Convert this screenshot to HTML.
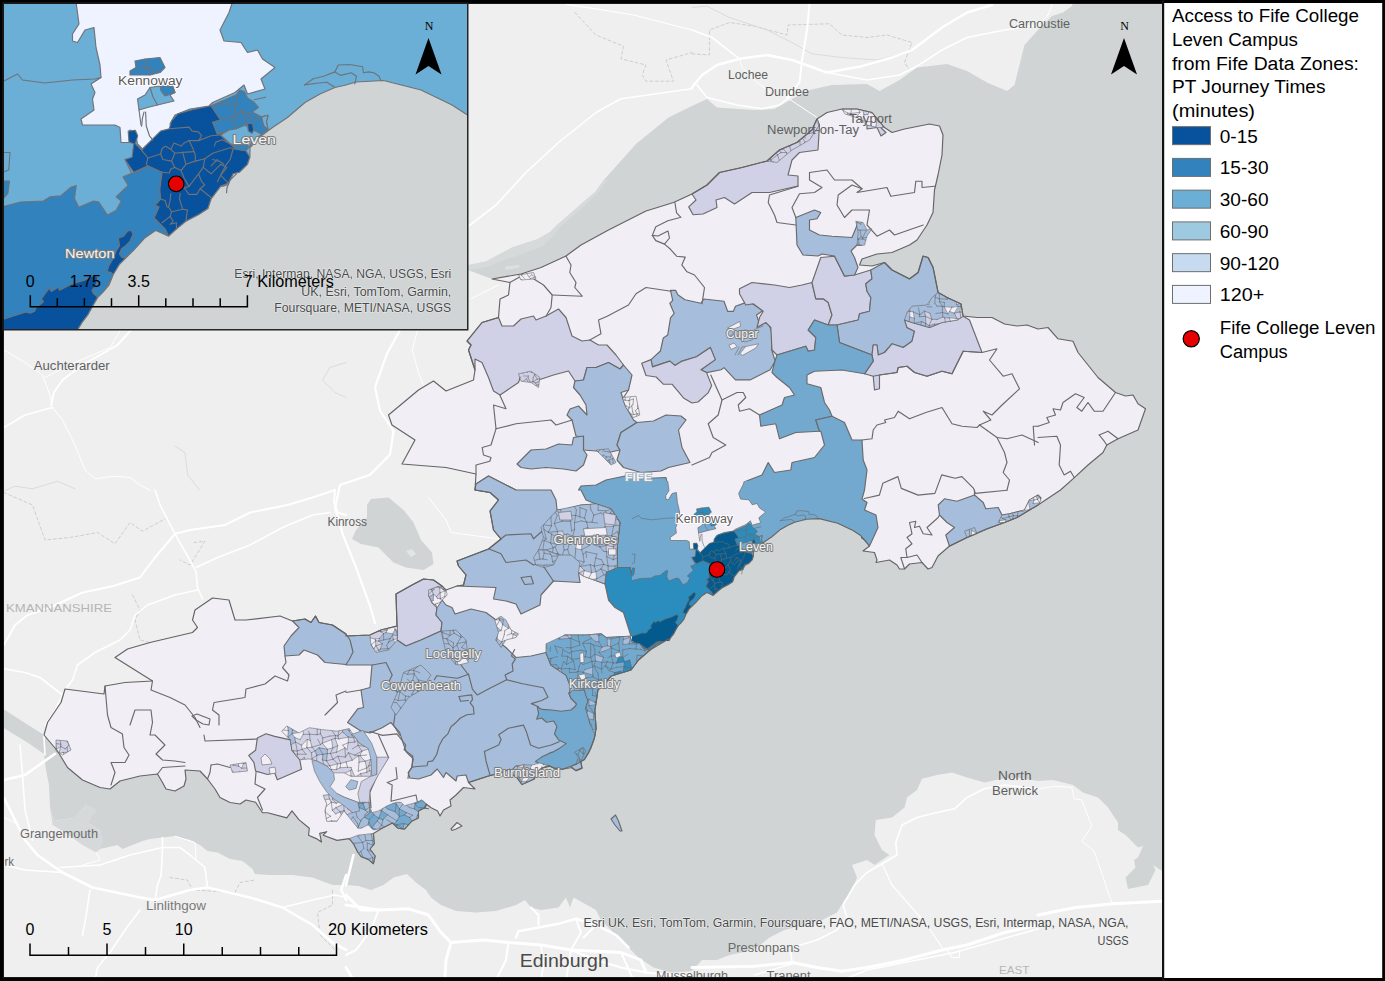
<!DOCTYPE html>
<html><head><meta charset="utf-8"><title>Access to Fife College Leven Campus</title>
<style>html,body{margin:0;padding:0;background:#fff}body{width:1385px;height:981px;overflow:hidden;font-family:"Liberation Sans",sans-serif}svg{display:block}text{white-space:pre}</style>
</head><body>
<svg width="1385" height="981" viewBox="0 0 1385 981">
<defs><clipPath id="mapclip"><rect x="3" y="3" width="1160" height="975"/></clipPath><clipPath id="insclip"><rect x="3" y="3" width="465" height="327"/></clipPath></defs>
<rect x="0" y="0" width="1385" height="981" fill="#000"/>
<g clip-path="url(#mapclip)">
<rect x="3" y="3" width="1161" height="976" fill="#efefef"/>
<polygon points="460,267 468.7,264.9 486,261.4 512,247.6 538,238.9 550.1,232 557,225 570.9,212.9 584.8,200.8 595.2,192.1 603.8,180 636,144 668.5,117.5 692,106 707,99 717,107.5 754.5,110 774.5,109 792,99 809.5,90 832,85 867,84 879.5,91 899.5,80 917,67.5 947,64 967,71 987,82.5 1007,91 1014.5,85 1024.5,45 1038,30 1052,16 1063,12.5 1072,6 1073,2 1166,2 1164,872 1162,871 1153,865 1155.5,870 1148,885 1128,889 1125.5,877.5 1135.5,867.5 1134,860 1138,857.5 1143,846 1138,847.5 1125.5,835 1118,830 1118,822.5 1108,807.5 1098,797.5 1083,792.5 1073,785 1053,780 1038,781 1017,777.5 1002,778.8 984.5,782.5 967,777.5 952,772.5 937,775 922,778.8 917,790 907,797.5 904.5,807.5 892,817.5 875.8,820 874.5,835 882,850 889.5,855 874.5,865 867,860 852,865 857,877.5 852,890 844.5,900 837,912.5 822,920 804.5,925 784.5,930 769.5,937.5 757,947.5 742,952.5 729.5,955 717,960 702,960 692,971 671,972.5 653.5,967.5 638.5,957.5 628.5,947.5 621,940 611,930 601,920 596,910 573.5,897.5 570,907.5 566,897.5 558.5,907.5 541,910 531,907.5 525,900 516,905 496,911 476,912.5 456,911 441,905 431,897.5 426,890 416,882.5 407,874 393.5,877.5 383.5,885 371,890 358.5,886 346,885 332.5,885 312.5,877.5 292.5,875 270,875 255,874 252.5,869 242.5,861 230,859 217.5,852.5 207.5,851 200,845 190,840 175,836 162.5,837.5 150,839 142.5,841 122.5,849 117.5,845 100,849 96,852.5 102.5,842.5 100,830 87.5,822.5 96,810 86,805 75,817.5 54,821 50,807.5 49,785 46,770 44,754 27.5,742.5 15,735 2,727 2,708 25,723 44,735 100,720 300,700 480,640 540,520 520,300 515,279.5 492,279" fill="#d0d4d5"/>
<polygon points="460,267 468.7,264.9 486,261.4 512,247.6 538,238.9 550.1,232 557,225 570.9,212.9 584.8,200.8 595.2,192.1 603.8,180 607.3,180 598.6,192.1 588.2,202.5 574.4,214.7 560.5,226.8 553.6,235.4 543.2,245.9 525.8,252.8 505.1,259.7 487.7,266.6 470.4,270.1 460,272" fill="#d7dadb"/>
<polygon points="505,266.6 519.8,264.9 518.9,267.5 505.9,270.1" fill="#dde0e1"/>
<polygon points="50,807.5 53.8,821.2 75,817.5 86.2,805 96.2,810 87.5,822.5 100,830 102.5,842.5 96.2,852.5 82.5,845 65,832.5 52.5,825" fill="#d6d9da"/>
<polygon points="371,499 388.5,497.5 403.5,510 413.5,522.5 421,540 432,552.5 433.5,564 423.5,570 406,567.5 393.5,562.5 378.5,547.5 361,544 352,539 356,530 367,517.5 367,505" fill="#d0d4d5"/>
<polygon points="406,551 412,549 416,554 411,557" fill="#e3e5e5"/>
<polyline points="574.8,12.5 596,35 623.5,46.2 621,58.8 646,65 642.2,75 646,81.2 673.5,81.2 666,60 692.2,52.5" fill="none" stroke="#c3c6c6" stroke-width="0.8" stroke-linejoin="round" stroke-linecap="round" stroke-dasharray="3 2.5"/>
<polyline points="692,53.8 709.5,55 709.5,30 729.5,22.5 754.5,26.2 787,35 788.2,25 829.5,23.8 842,35 867,37.5 887,35 912,42.5 904.5,62.5 909.5,70" fill="none" stroke="#c3c6c6" stroke-width="0.8" stroke-linejoin="round" stroke-linecap="round" stroke-dasharray="3 2.5"/>
<polyline points="3.8,492.5 32.5,505 45,540 70,537.5 97.5,532.5 115,543.8 130,522.5 142.5,531.2 165,518.8" fill="none" stroke="#c3c6c6" stroke-width="0.8" stroke-linejoin="round" stroke-linecap="round" stroke-dasharray="3 2.5"/>
<polyline points="193.8,542.5 205,541.2 190,565 180,560" fill="none" stroke="#c3c6c6" stroke-width="0.8" stroke-linejoin="round" stroke-linecap="round" stroke-dasharray="3 2.5"/>
<polyline points="132.5,595 140,610 135,620 140,640 150,642.5" fill="none" stroke="#c3c6c6" stroke-width="0.8" stroke-linejoin="round" stroke-linecap="round" stroke-dasharray="3 2.5"/>
<polyline points="170,877.5 187.5,880 192.5,890 235,892.5 240,882.5 255,880" fill="none" stroke="#c3c6c6" stroke-width="0.8" stroke-linejoin="round" stroke-linecap="round" stroke-dasharray="3 2.5"/>
<polyline points="332.5,890 332.5,905 317.5,912.5 320,935 335,950" fill="none" stroke="#c3c6c6" stroke-width="0.8" stroke-linejoin="round" stroke-linecap="round" stroke-dasharray="3 2.5"/>
<polyline points="4,491.2 15,486.2 32.5,488.8 57.5,481.2 75,488.8" fill="none" stroke="#d5d9da" stroke-width="0.9" stroke-linejoin="round" stroke-linecap="round"/>
<polyline points="175,446.2 185,452.5 187.5,475 200,490.2" fill="none" stroke="#d5d9da" stroke-width="0.9" stroke-linejoin="round" stroke-linecap="round"/>
<polyline points="346.2,362.5 330,367.5 322.5,380 335,392.5 346.2,397.5" fill="none" stroke="#d5d9da" stroke-width="0.9" stroke-linejoin="round" stroke-linecap="round"/>
<polyline points="692,7.5 707,6.2 729.5,17.5 767,30 792,42.5 812,53.8 842,57.5 877,60 904.5,53.8" fill="none" stroke="#d5d9da" stroke-width="0.9" stroke-linejoin="round" stroke-linecap="round"/>
<polyline points="468.5,226.2 496,205 526,172.5 558.5,142.5 596,112.5 621,98.8 692.2,88.8" fill="none" stroke="#ffffff" stroke-width="1.6" stroke-linejoin="round" stroke-linecap="round"/>
<polyline points="471,298.8 486,291.2 498.5,285" fill="none" stroke="#ffffff" stroke-width="1" stroke-linejoin="round" stroke-linecap="round"/>
<polyline points="692,87.5 702,75 717,65 739.5,58.8 767,55 792,60 827,72.5 862,66.2 892,57.5 912,50 942,27.5 967,12.5 992,5" fill="none" stroke="#ffffff" stroke-width="2.4" stroke-linejoin="round" stroke-linecap="round"/>
<polyline points="827,72.5 867,80 899.5,75 917,66.2 942,50 967,37.5 1004.5,30 1038.2,25" fill="none" stroke="#ffffff" stroke-width="1.6" stroke-linejoin="round" stroke-linecap="round"/>
<polyline points="1038,25 1048,15 1053,2.5" fill="none" stroke="#ffffff" stroke-width="1" stroke-linejoin="round" stroke-linecap="round"/>
<polyline points="809.5,3.8 807,30 802,60 799.5,82.5 787,97.5" fill="none" stroke="#ffffff" stroke-width="2" stroke-linejoin="round" stroke-linecap="round"/>
<polyline points="787,97.5 817,117.5" fill="none" stroke="#ffffff" stroke-width="1" stroke-linejoin="round" stroke-linecap="round"/>
<polyline points="697,85 707,97.5 737,105 762,108.8 779.5,105 792,95" fill="none" stroke="#ffffff" stroke-width="1.6" stroke-linejoin="round" stroke-linecap="round"/>
<polyline points="692,30 712,37.5 739.5,58.8" fill="none" stroke="#ffffff" stroke-width="1.6" stroke-linejoin="round" stroke-linecap="round"/>
<polyline points="739.5,58.8 742,67.5 757,82.5 774.5,95" fill="none" stroke="#ffffff" stroke-width="1" stroke-linejoin="round" stroke-linecap="round"/>
<polyline points="566,4.5 596,8.8 633.5,15 692.2,30" fill="none" stroke="#ffffff" stroke-width="1.2" stroke-linejoin="round" stroke-linecap="round"/>
<polyline points="4,350 25,362.5 42.5,375 50,395 52.5,407.5 62.5,420 75,445 85,470 95,478.8 115,476.2 130,477.5 140,485 150,490.2" fill="none" stroke="#ffffff" stroke-width="1" stroke-linejoin="round" stroke-linecap="round"/>
<polyline points="4,427.5 25,415 52.5,407.5" fill="none" stroke="#ffffff" stroke-width="1.6" stroke-linejoin="round" stroke-linecap="round"/>
<polyline points="130,331.2 117.5,345 82.5,365 62.5,380 53.8,392.5 51.2,405" fill="none" stroke="#ffffff" stroke-width="2" stroke-linejoin="round" stroke-linecap="round"/>
<polyline points="120,331.2 110,347.5 75,362.5 45,377.5" fill="none" stroke="#ffffff" stroke-width="1" stroke-linejoin="round" stroke-linecap="round"/>
<polyline points="400,330 387,353.6 375,387 380,411 393.6,431 390,454.6 370,474.8 340,485 335,508 343,535 356.6,569 370,606 375,623" fill="none" stroke="#ffffff" stroke-width="2.2" stroke-linejoin="round" stroke-linecap="round"/>
<polyline points="417.2,331.2 412.2,350 418.5,372.5 423.5,385" fill="none" stroke="#ffffff" stroke-width="1" stroke-linejoin="round" stroke-linecap="round"/>
<polyline points="335,490 334,502 337.5,512.5 346,515" fill="none" stroke="#ffffff" stroke-width="2" stroke-linejoin="round" stroke-linecap="round"/>
<polyline points="3.8,645 15,625 27.5,615 50,607.5 82.5,592.5 112.5,586.2 140,577.5 155,557.5 175,533.8 190,530 225,525 250,512.5 287.5,505 312.5,497.5 335,490" fill="none" stroke="#ffffff" stroke-width="2" stroke-linejoin="round" stroke-linecap="round"/>
<polyline points="175,533.8 160,505 155,490" fill="none" stroke="#ffffff" stroke-width="1.6" stroke-linejoin="round" stroke-linecap="round"/>
<polyline points="175,533.8 192.5,565 196.2,572.5 197.5,587.5 202.5,598.8" fill="none" stroke="#ffffff" stroke-width="1.6" stroke-linejoin="round" stroke-linecap="round"/>
<polyline points="196.2,567.5 217.5,557.5 250,545 282.5,527.5 312.5,515 330,512.5" fill="none" stroke="#ffffff" stroke-width="1.6" stroke-linejoin="round" stroke-linecap="round"/>
<polyline points="197.5,590 175,595 147.5,605 135,615 130,630 120,640 95,652.5 77.5,665 72.5,680 65,690 52.5,715 45,725" fill="none" stroke="#ffffff" stroke-width="1.6" stroke-linejoin="round" stroke-linecap="round"/>
<polyline points="3.8,668.8 25,672.5 40,677.5 62.5,695" fill="none" stroke="#ffffff" stroke-width="1.6" stroke-linejoin="round" stroke-linecap="round"/>
<polyline points="428.5,497.5 446,520 451,532.5 478.5,536.2 498.5,538.8" fill="none" stroke="#ffffff" stroke-width="1" stroke-linejoin="round" stroke-linecap="round"/>
<polyline points="3.8,797.5 25,840 37.5,855 62.5,872.5 92.5,887.5 140,897.5 155,900 190,890 207.5,887.5 250,897.5 282.5,907.5 312.5,925 332.5,942.5 346.2,950" fill="none" stroke="#ffffff" stroke-width="2.6" stroke-linejoin="round" stroke-linecap="round"/>
<polyline points="3.8,780 25,775 55,753.8" fill="none" stroke="#ffffff" stroke-width="2.6" stroke-linejoin="round" stroke-linecap="round"/>
<polyline points="20,745 22.5,775 25,810 32.5,840" fill="none" stroke="#ffffff" stroke-width="1.6" stroke-linejoin="round" stroke-linecap="round"/>
<polyline points="43.8,735 45,755" fill="none" stroke="#ffffff" stroke-width="1.6" stroke-linejoin="round" stroke-linecap="round"/>
<polyline points="90,890 85,922.5 82.5,935" fill="none" stroke="#ffffff" stroke-width="1.6" stroke-linejoin="round" stroke-linecap="round"/>
<polyline points="60,867.5 100,865 130,855 162.5,847.5 180,847.5 190,855 205,867.5 207.5,887.5" fill="none" stroke="#ffffff" stroke-width="1.6" stroke-linejoin="round" stroke-linecap="round"/>
<polyline points="162.5,837.5 162.5,847.5 161.2,875 157.5,885 155,900" fill="none" stroke="#ffffff" stroke-width="1.6" stroke-linejoin="round" stroke-linecap="round"/>
<polyline points="140,910 125,930 110,952.5 97.5,967.5 95,980.2" fill="none" stroke="#ffffff" stroke-width="1.6" stroke-linejoin="round" stroke-linecap="round"/>
<polyline points="282.5,907.5 312.5,900 335,895 346.2,897.5" fill="none" stroke="#ffffff" stroke-width="1.6" stroke-linejoin="round" stroke-linecap="round"/>
<polyline points="346.2,875 341.2,890 346.2,900" fill="none" stroke="#ffffff" stroke-width="2.6" stroke-linejoin="round" stroke-linecap="round"/>
<polyline points="3.8,865 25,870 62.5,872.5" fill="none" stroke="#ffffff" stroke-width="1.6" stroke-linejoin="round" stroke-linecap="round"/>
<polyline points="3.8,817.5 15,822.5 25,840" fill="none" stroke="#ffffff" stroke-width="1" stroke-linejoin="round" stroke-linecap="round"/>
<polyline points="175,836.2 195,842.5 196.2,860 205,867.5" fill="none" stroke="#ffffff" stroke-width="1" stroke-linejoin="round" stroke-linecap="round"/>
<polyline points="82.5,865 100,860 96.2,852.5" fill="none" stroke="#ffffff" stroke-width="1" stroke-linejoin="round" stroke-linecap="round"/>
<polyline points="353.5,855 346,885" fill="none" stroke="#ffffff" stroke-width="2.6" stroke-linejoin="round" stroke-linecap="round"/>
<polyline points="346,905 378.5,910 408.5,908.8 428.5,915 441,932.5 451,942.5 483.5,940 508.5,942.5 541,945 571,950 621,952.5 641,960 646,972.5" fill="none" stroke="#ffffff" stroke-width="2.9" stroke-linejoin="round" stroke-linecap="round"/>
<polyline points="451,942.5 446,960 444.8,980.2" fill="none" stroke="#ffffff" stroke-width="2.9" stroke-linejoin="round" stroke-linecap="round"/>
<polyline points="516,937.5 518.5,931.2 558.5,923.8 576,918.8 596,925 616,935 628.5,947.5" fill="none" stroke="#ffffff" stroke-width="2.5" stroke-linejoin="round" stroke-linecap="round"/>
<polyline points="531,907.5 538.5,915 538.5,925" fill="none" stroke="#ffffff" stroke-width="2" stroke-linejoin="round" stroke-linecap="round"/>
<polyline points="576,918.8 581,932.5 571,950 566,980.2" fill="none" stroke="#ffffff" stroke-width="2" stroke-linejoin="round" stroke-linecap="round"/>
<polyline points="346,967.5 353.5,980.2" fill="none" stroke="#ffffff" stroke-width="2.9" stroke-linejoin="round" stroke-linecap="round"/>
<polyline points="596,925 583.5,937.5" fill="none" stroke="#ffffff" stroke-width="2" stroke-linejoin="round" stroke-linecap="round"/>
<polyline points="346,895 361,910 378.5,910" fill="none" stroke="#ffffff" stroke-width="2.9" stroke-linejoin="round" stroke-linecap="round"/>
<polyline points="378.5,910 371,930 356,950 346,955" fill="none" stroke="#ffffff" stroke-width="2" stroke-linejoin="round" stroke-linecap="round"/>
<polyline points="508.5,942.5 506,960 496,980.2" fill="none" stroke="#ffffff" stroke-width="2" stroke-linejoin="round" stroke-linecap="round"/>
<polyline points="621,952.5 633.5,980.2" fill="none" stroke="#ffffff" stroke-width="2" stroke-linejoin="round" stroke-linecap="round"/>
<polyline points="571,950 596,960 621,967.5 646,972.5 671,975 692.2,976.2" fill="none" stroke="#ffffff" stroke-width="2" stroke-linejoin="round" stroke-linecap="round"/>
<polyline points="541,945 543.5,965 541,980.2" fill="none" stroke="#ffffff" stroke-width="1.5" stroke-linejoin="round" stroke-linecap="round"/>
<polyline points="692,967.5 754.5,966.2 792,962.5 817,967.5 842,971.2 867,967.5 904.5,960 942,950 967,945 1004.5,932.5 1038.2,925" fill="none" stroke="#ffffff" stroke-width="3" stroke-linejoin="round" stroke-linecap="round"/>
<polyline points="754.5,975 792,963.8" fill="none" stroke="#ffffff" stroke-width="1.6" stroke-linejoin="round" stroke-linecap="round"/>
<polyline points="842,980.2 867,970 917,960 954.5,952.5 1038.2,928.8" fill="none" stroke="#ffffff" stroke-width="1.6" stroke-linejoin="round" stroke-linecap="round"/>
<polyline points="790.8,952.5 792,962.5" fill="none" stroke="#ffffff" stroke-width="1.6" stroke-linejoin="round" stroke-linecap="round"/>
<polyline points="792,947.5 817,940 837,930 847,917.5 843.2,905 854.5,885 867,872.5 882,863.8 897,855 895.8,842.5 902,825 917,817.5 937,812.5 954.5,808.8 967,797.5 984.5,788.8 1004.5,785 1038.2,788.8" fill="none" stroke="#ffffff" stroke-width="1.6" stroke-linejoin="round" stroke-linecap="round"/>
<polyline points="882,863.8 892,885 909.5,905 927,925 942,947.5" fill="none" stroke="#ffffff" stroke-width="1.2" stroke-linejoin="round" stroke-linecap="round"/>
<polyline points="947,950 952,957.5 959.5,957.5 959.5,950" fill="none" stroke="#ffffff" stroke-width="1.2" stroke-linejoin="round" stroke-linecap="round"/>
<polyline points="1038,915 1075.5,907.5 1113,903.8 1161.8,901.2" fill="none" stroke="#ffffff" stroke-width="3" stroke-linejoin="round" stroke-linecap="round"/>
<polyline points="1038,788.8 1055.5,786.2 1071.8,787.5 1074.2,798.8 1081.8,800 1091.8,826.2 1081.8,841.2 1094.2,851.2 1111.8,902.5" fill="none" stroke="#ffffff" stroke-width="1" stroke-linejoin="round" stroke-linecap="round"/>
<polygon points="492,279 521,274 541,267.5 566,256 581,245 608.5,230 646,211 673.5,202.5 692,194 707,185 719.5,172.5 742,167.5 767,161 779.5,150 797,142.5 812,130 817,119 827,112.5 842,109 857,109 872,112.5 884.5,127.5 892,132.5 904.5,129 929.5,124 939.5,126 943,135 942,155 938,175 934.5,190 933,212.5 927,225 917,240 909.5,245 892,252.5 877,254 862,259 859.5,265 872,266 884.5,262.5 892,270 909.5,279 918,272.5 923,256 928,257.5 933,267.5 938,292.5 947,297.5 961,304 963,316 977,317.5 992,317.5 1004.5,324 1017,326 1027,325 1038,329 1048,327.5 1058,338.8 1073,341.2 1078,352.5 1098,377.5 1115.5,392.5 1125.5,396 1133,395 1138,403.8 1145.5,408.8 1138,430 1118,438.8 1106.8,445 1103,452.5 1088,465 1073,478.8 1060.5,490 1038,505 1029.5,510 1017,517.5 1004.5,522.5 987,529 967,537.5 949.5,546 938,556 932,567.5 928,569 922,562.5 909.5,564 904.5,569 899.5,569 897,565 889.5,560 876,562.5 877,560 874.5,552.5 863,551 869.5,546 860.7,535.6 853,530.6 837.7,523.2 819.2,518.6 805.7,519.3 800.7,520.8 795.3,522 787.9,525.2 780.5,529.4 771.9,536.8 764.5,541.7 759.6,545.4 753.4,551.6 753.3,556.4 752.2,559.9 748.3,563.8 745.1,564.6 742.8,569.2 738.9,570.8 734.2,577 732.7,581.7 728,584.8 721.8,588 717.1,591.9 713.2,595.4 707,592.6 706.4,592.8 701.3,596.4 696.2,602.1 692.1,606.2 689,609.2 685.9,614.4 683.8,619.5 680.8,623.1 678.2,625.7 676.1,629.3 673.6,633.9 670.5,638 669,640.6 668.5,639 650,650 638.5,660 631,670 611,676 601,687.5 597.9,689.8 596.7,698.4 594.8,710.6 595.5,720.4 596.1,729 594.2,738.7 590.6,748.5 588.1,753.4 584.4,759.5 580.8,761.4 582,768.1 575.9,770.6 571.6,767.5 562.4,769.3 553.8,768.1 549,765.7 541.6,768.1 536.7,773 534.3,779.1 522,784.6 517.1,777.9 512.2,774.2 509.8,769.3 500,773 488.5,776 468.5,782.5 475,789 463.5,787.5 456,795 450,800 451,806 443.5,810 440,816 437.6,810.9 430.7,807.5 426.3,804 425.4,807.5 418.5,810.9 418.5,817.9 411.6,821.3 404.6,829.1 397.7,828.2 392.5,823 382.1,828.2 373.4,833.4 374.3,843.8 370,849 375.2,856 373.4,863.8 368.2,859.4 361.3,856.8 357.9,852.5 353.5,843.8 349.2,838.6 337,840.4 323.2,835.2 326.7,831.7 319.7,833.4 321.5,842.1 316.3,838.6 308.5,835.2 309.3,828.2 298.9,819.6 292,810.9 286.8,817.9 267.7,812.7 262.5,812.7 255.6,802.3 246,800 240,804 230,802.5 220,797.5 215,789 207.5,779 200,771 185,770 186,779 184,786 175,791 166,789 162.5,782.5 157.5,774 140,776 120,781 110,789 100,787.5 82.5,780 67.5,767.5 57.5,751 44,735 47.5,722.5 61,702.5 65,689 104,694 105,686 125,682.5 152.5,681 115,657.5 127.5,649 150,642.5 192.5,632.5 197.5,627.5 192.5,620 195,610 212.5,598 229,600 235,620 246,620 280,616 292.5,621 305,619 311,622.5 315.5,616 319,622.5 332.5,625 346,634 346,636 370,635 381,630 397,626 396,594 412,585 423.5,579 433.5,580 442,586 446,590 457,586 463.5,585 466,575 458.5,566 457,561 488.5,549 501,539 493.5,530 490,511 498.5,500 490,492.5 475,490 476,474 446,467.5 402,464 415,440 392,425 388.5,415 418.5,390 433.5,381 446,391 473.5,380 475,370 468.5,350 471,345 467,341 482,322.5 498.5,317.5 500,299 508.5,295 510,282.5" fill="#f1eef6"/>
<polygon points="692,194 707,185 719.5,172.5 742,167.5 767,161 779.5,150 797,142.5 812,130 817,119 819.5,125 818,150 799.5,152.5 792,160 788,175 798,176 798,186 769.5,192.5 752,192.5 734.5,204 724.5,197.5 716,200 717,207.5 703,214 693.1,214.7 688.7,206.9 696,200" fill="#d0d1e6" stroke="#6a6a6a" stroke-width="1.15" stroke-linejoin="round"/>
<polygon points="867,125 877,124 886,132.5 881,136 877,127.5 867,129" fill="#d0d1e6" stroke="#6a6a6a" stroke-width="1.15" stroke-linejoin="round"/>
<polygon points="467,341 482,322.5 498.5,317.5 502,326 513.5,326 521,319 533.5,316 536,320 546,316 558.5,309 566,317.5 572,336 582,341 590,340 598.5,345 607,345 616,355 623.5,365 620,369 608.5,362.5 596,367.5 587,367.5 583.5,380 575,381 568.5,371 553.5,375 538.5,380 531,381 521,375 518.5,382.5 506,391 500,395 493.5,391 488.5,377.5 482,362.5 475,359 475,370 468.5,350 471,345" fill="#d0d1e6" stroke="#6a6a6a" stroke-width="1.15" stroke-linejoin="round"/>
<polygon points="587,367.5 596,367.5 608.5,362.5 620,369 623.5,365 632,375 628.5,390 621,392.5 625,405 633.5,420 637,422.5 621,432.5 617,445 620,450 608.5,452.5 596,451 583.5,450 583.5,437.5 576,436 572,420 567,415 570,409 578.5,406 587,415 586,405 580,395 573.5,387.5 575,381 583.5,380" fill="#a6bddb" stroke="#6a6a6a" stroke-width="1.15" stroke-linejoin="round"/>
<polygon points="637,422.5 653.5,421 666,415 681,416 686,420 678.5,430 682,447.5 690,462.5 668.5,467.5 661,471 641,472.5 623.5,467.5 617,460 620,450 617,445 621,432.5" fill="#a6bddb" stroke="#6a6a6a" stroke-width="1.15" stroke-linejoin="round"/>
<polygon points="517,464 531,450 546,449 558.5,444 572,445 573.5,437.5 583.5,436 583.5,450 587,455 583.5,465 576,471 563.5,469 546,467.5 531,469 521,467.5" fill="#a6bddb" stroke="#6a6a6a" stroke-width="1.15" stroke-linejoin="round"/>
<polygon points="475,490 476,484 488.5,476 506,485 516,490 500,494" fill="#a6bddb" stroke="#6a6a6a" stroke-width="1.15" stroke-linejoin="round"/>
<polygon points="670.5,290.3 675.6,290.3 677.8,294.7 685,299.7 700.9,303.3 703.8,299 724,301.2 727.6,311.3 733.4,311.3 735.5,306.2 745.6,302.6 752.9,304 763,310.5 756.5,314.9 759.4,323.5 768.7,322.8 771.6,332.2 771.6,349.5 775.2,361.1 770.2,369.7 750,379.9 735.5,379.9 724,367.6 721.1,369.7 706.6,372.6 700.9,369.7 715.3,359.6 710.3,347.4 696.5,356.8 682.1,361.1 674.9,365.4 669.8,361.1 652.5,366.9 651,359.6 660.4,351 663.3,338 667.7,335.1 670.5,317.8 674.2,313.4 669.8,303.3 672.7,300.4" fill="#a6bddb" stroke="#6a6a6a" stroke-width="1.15" stroke-linejoin="round"/>
<polygon points="641.7,363.2 651,359.6 652.5,366.9 669.8,361.1 674.9,365.4 682.1,361.1 696.5,356.8 710.3,347.4 715.3,359.6 700.9,369.7 706.6,372.6 711.7,385.6 708.1,392.9 698,402 692,403 683.5,398 680.6,394.3 672,384.2 663.3,384.2 656.1,377 646,375.5" fill="#d0d1e6" stroke="#6a6a6a" stroke-width="1.15" stroke-linejoin="round"/>
<polygon points="739.5,288.8 752,282.5 774.5,285 789.5,287.5 802,285 812,282.5 815.8,298.8 823.2,298.8 828.2,302.5 832,315 828.2,325 814.5,320 808.2,330 815.8,337.5 814.5,350 808.2,351.2 805.8,346.2 777,355 772,350 770.8,327.5 765.8,322.5 757,327.5 759.5,317.5 763.2,311.2 753.2,303.8 745.8,305 739.5,293.8" fill="#d0d1e6" stroke="#6a6a6a" stroke-width="1.15" stroke-linejoin="round"/>
<polygon points="812,282.5 820.8,257.5 834.5,256.2 844.5,276.2 854.5,275 870.8,270 872,278.8 865.8,283.8 867,291.2 870.8,297.5 869.5,311.2 859.5,313.8 858.2,320 837,325 828.2,325 832,315 828.2,302.5 823.2,298.8 815.8,298.8" fill="#d0d1e6" stroke="#6a6a6a" stroke-width="1.15" stroke-linejoin="round"/>
<polygon points="795.8,217.5 814.5,210 820.8,212.5 817,218.8 809.5,220 809.5,230 819.5,235 832,236.2 852,237.5 858.2,222.5 862,223.8 864.5,235 862,245.2 857,245 851,251 854.5,257.5 858,267.5 854.5,275 844.5,276 834.5,256 822,254 818,256 803,255 797,245" fill="#a6bddb" stroke="#6a6a6a" stroke-width="1.15" stroke-linejoin="round"/>
<polygon points="870.8,270 884.5,262.5 892,270 909.5,278.8 918.2,272.5 923.2,256.2 928.2,257.5 933.2,267.5 938.2,292.5 947,297.5 961,304 963,316 957,320 942,322.5 929.5,327.5 912,322.5 907,327.5 914.5,331.2 912,341.2 903.2,347.5 892,343.8 884.5,352.5 878.2,355 877,345 873.2,345 872,355 839.5,342.5 837,325 858.2,320 859.5,313.8 869.5,311.2 870.8,297.5 867,291.2 865.8,283.8 872,278.8" fill="#a6bddb" stroke="#6a6a6a" stroke-width="1.15" stroke-linejoin="round"/>
<polygon points="872,355 873.2,345 877,345 878.2,355 884.5,352.5 892,343.8 903.2,347.5 912,341.2 914.5,331.2 907,327.5 904.5,320 912,322.5 929.5,327.5 942,322.5 957,320 963.2,316.2 969.5,320 982,352.5 963.2,351.2 952,373.8 942,371.2 927,376.2 914.5,372.5 907,366.2 898.2,367.5 897,372.5 879.5,375 879.5,388.8 874.5,390 873.2,376.2 864.5,373.8 873.2,361.2" fill="#d0d1e6" stroke="#6a6a6a" stroke-width="1.15" stroke-linejoin="round"/>
<polygon points="814.5,320 828.2,325 837,325 839.5,342.5 872,355 873.2,361.2 864.5,373.8 842,370 814.5,371.2 807,375 807,383.8 820.8,387.5 824.5,402.5 829.5,410 832,416.2 815.8,420 819.5,431.2 795.8,432.5 779.5,438.8 775.8,423.8 760.8,426.2 759.5,415 782,405 784.5,397.5 794.5,395 789.5,387.5 777,377.5 772,372.5 774.5,362.5 777,355 805.8,346.2 808.2,351.2 814.5,350 815.8,337.5 808.2,330" fill="#74a9cf" stroke="#6a6a6a" stroke-width="1.15" stroke-linejoin="round"/>
<polygon points="815.8,420 832,416.2 844.5,422.5 852,440 862,440 863.2,460 867,470 864.5,490 862,499 867,502.5 864.5,510 876,515 878,527.5 869.5,546 864.5,540 854.5,532.5 839.5,525 822,520 804.5,520 787,524 774.5,531 762,544 759.5,522.5 765.8,512.5 754.5,502.5 742,497.5 739.5,490 742,490 745.8,481.2 762,475 768.2,462.5 774.5,472.5 790.8,470 792,462.5 814.5,457.5 824.5,445 820.8,431.2 819.5,431.2" fill="#74a9cf" stroke="#6a6a6a" stroke-width="1.15" stroke-linejoin="round"/>
<polygon points="578.5,490 581,486 596,485 606,480 625,476 633.5,479 666,477.5 668.5,490 676,495 678.5,507.5 672,516 676,525 671,540 681,544 692,542.5 697,552.5 692,572.5 683.5,582.5 671,577.5 666,572.5 633.5,580 630,567.5 617,567.5 617,547.5 620,522.5 611,509 596,504 586,500 581,490" fill="#74a9cf" stroke="#6a6a6a" stroke-width="1.15" stroke-linejoin="round"/>
<polygon points="396,594 412,585 423.5,579 433.5,580 442,586 438.5,590 428.5,595 432,602.5 437,607.5 436,615 442,622.5 441,631 421,640 406,646 397,640 397,626" fill="#d0d1e6" stroke="#6a6a6a" stroke-width="1.15" stroke-linejoin="round"/>
<polygon points="475,490 490,492.5 498.5,500 490,511 493.5,530 501,539 488.5,549 457,561 458.5,566 466,575 463.5,585 457,586 496,587.5 493.5,599 506,601 516,604 521,614 540,605 541,595 553.5,581 580,582.5 578.5,572.5 583.5,576 605,584 606,572.5 617,567.5 617,547.5 620,522.5 611,509 596,504 581,505 566,509 557,510 556,500 551,490 516,490 506,485 488.5,476 476,484" fill="#a6bddb" stroke="#6a6a6a" stroke-width="1.15" stroke-linejoin="round"/>
<polygon points="346,636 370,635 381,630 397,626 397,640 406,646 421,640 441,631 442,622.5 436,615 437,607.5 442,600 446,605 452,607.5 455,614 471,609 486,612.5 496,620 501,632.5 496,640 506,647.5 516,657.5 531,656 546,652.5 551,665 566,675 571,687.5 569.1,693.5 571,698.4 576.5,703.9 580,720 575,745 560,765 549,766.5 541.6,768.1 536.7,773 532,767 524,765 516,766 512,770 509.8,769.3 500,773 488.5,776 468.5,782.5 466,775 457.2,776 456,781 446,772.5 443.5,777.5 437.2,769 431,775 418.5,779 409.9,778 408.1,772.8 411.6,767.6 413.3,758.9 406.4,752 403.8,745.1 399.5,732.1 390.8,722.5 382.1,727.7 370,732.9 361.3,731.2 347.5,722.5 352.7,715.6 357.9,708.7 363.5,707.5 361,690 370,687.5 372,665 346,665" fill="#a6bddb" stroke="#6a6a6a" stroke-width="1.15" stroke-linejoin="round"/>
<polygon points="546,652.5 564.8,635 586,635 601,633.8 606,637.5 629.8,636.2 632.2,642.5 639.8,643.8 643.5,648.8 650,650 638.5,660 631,670 611,676 601,687.5 597.9,689.8 596.7,698.4 594.8,710.6 595.5,720.4 596.1,729 594.2,733 590.6,725.3 585.7,708.1 588.1,700.8 585.7,694.7 584.4,689.8 572.2,690.4 569.1,693.5 571,687.5 566,675 551,665" fill="#74a9cf" stroke="#6a6a6a" stroke-width="1.15" stroke-linejoin="round"/>
<polygon points="537.3,706.9 542.2,709.4 551.4,710 561.2,711.2 571,710 575.3,706.3 576.5,703.9 571,698.4 569.1,693.5 572.2,690.4 584.4,689.8 585.7,694.7 588.1,700.8 585.7,708.1 590.6,725.3 594.2,728.3 595.5,733.9 594.2,738.7 590.6,748.5 588.1,753.4 584.4,759.5 580.8,761.4 575.9,764.4 572.2,765.7 562.4,769.3 553.8,768.1 549,765.7 542.8,765.7 535.5,761.4 541.6,757.1 549,753.4 553.8,751.6 560,747.9 566.1,743.6 558.7,740 554.5,733.9 556.9,726.5 553.8,721 546.5,722.2 541.6,718 536.7,719.2 538.6,713.7" fill="#74a9cf" stroke="#6a6a6a" stroke-width="1.15" stroke-linejoin="round"/>
<polygon points="571.6,767.5 575.9,770.6 582,768.1 580.8,761.4 575.9,764.4 572.2,765.7" fill="#a6bddb" stroke="#6a6a6a" stroke-width="1.15" stroke-linejoin="round"/>
<polygon points="617,567.5 630,567.5 633.5,580 666,572.5 671,577.5 683.5,582.5 692,572.5 692,552.5 697,552.5 697,560 703.2,562.5 704.5,572.5 710.8,577.5 707,587.5 713.2,595 704.5,595 692,606 683.5,612 678.5,619 668.5,620 653.5,622.5 646,632.5 631,636 623.5,612.5 615,607.5 608.5,600 605,584 606,572.5" fill="#2b8cbe" stroke="#6a6a6a" stroke-width="1.15" stroke-linejoin="round"/>
<polygon points="633.2,637.7 647.2,630.7 656.6,621.3 670.7,619 677.7,616.6 676.5,624.8 670.7,638.9 656.6,642.4 647.2,649.4 640.2,644.7 633.2,643.6" fill="#045a8d" stroke="#6a6a6a" stroke-width="1.15" stroke-linejoin="round"/>
<polygon points="633.2,643.6 640.2,644.7 647.2,649.4 656.6,642.4 670.7,638.9 668.5,639 656.6,644.7 650,650 643.5,649 639.8,643.8 632.2,642.5" fill="#2b8cbe" stroke="#6a6a6a" stroke-width="1.15" stroke-linejoin="round"/>
<polygon points="697,552.5 702,548.8 710.8,540 719.5,535 734.5,532.5 742,537.5 745.8,547.5 753.2,557.5 744.5,570 732,582.5 717,590 713.2,595 707,587.5 710.8,577.5 704.5,572.5 703.2,562.5 697,560" fill="#045a8d" stroke="#6a6a6a" stroke-width="1.15" stroke-linejoin="round"/>
<polygon points="734.5,532.5 750.8,522.5 754.5,527.5 762,527.5 762,544 753.2,557.5 745.8,547.5 742,537.5" fill="#2b8cbe" stroke="#6a6a6a" stroke-width="1.15" stroke-linejoin="round"/>
<polygon points="698.2,527.5 700.8,510 708.2,507.5 712,513.8 715.8,525 709.5,530 702,532.5" fill="#74a9cf" stroke="#6a6a6a" stroke-width="1.15" stroke-linejoin="round"/>
<polygon points="938.2,505 944.5,498.8 957,501.2 974.5,495 983.2,502.5 985.8,508.8 998.2,507.5 1002,515 1009.5,513.8 1024.5,510 1029.5,500 1038,495 1041,498 1038,505 1029.5,510 1017,517.5 1004.5,522.5 987,528.8 967,537.5 949.5,546.2 945.8,535 954.5,527.5 947,522.5 939.5,515" fill="#a6bddb" stroke="#6a6a6a" stroke-width="1.15" stroke-linejoin="round"/>
<polygon points="248.7,755.5 255.6,750.3 257.3,738.1 266,733.8 274.7,736.4 290.3,739.9 292,750.3 299.8,759.8 301.5,769.3 277.3,779.7 274.7,772.8 267.7,774.5 255.6,771.1 253.9,762.4" fill="#d0d1e6" stroke="#6a6a6a" stroke-width="1.15" stroke-linejoin="round"/>
<polygon points="292.5,621 305,619 311,622.5 315.5,616 319,622.5 332.5,625 346,634 350,640 353,652 349,660 346,664.5 325,662.5 317.5,655 304,650 299,655 285,656 284,646 291,636 299,627.5" fill="#a6bddb" stroke="#6a6a6a" stroke-width="1.15" stroke-linejoin="round"/>
<polygon points="451,829 457,822.5 462,826 456,829 452,830.5" fill="#f1eef6" stroke="#6a6a6a" stroke-width="1.15" stroke-linejoin="round"/>
<polygon points="611,819 615.5,815 618.5,821 622,831 620,831 615,825" fill="#a6bddb" stroke="#6a6a6a" stroke-width="1.15" stroke-linejoin="round"/>
<polyline points="798.2,186.2 769.5,195 768.2,202.5 774.5,215 777,222.5 795.8,225" fill="none" stroke="#6a6a6a" stroke-width="1.15" stroke-linejoin="round" stroke-linecap="round"/>
<polyline points="809.5,172.5 827,170 834.5,180 852,180 862,188.8 857,192.5 887,187.5 890.8,196.2 914.5,192.5 915.8,181.2 922,181.2 922,187.5 934.5,186.2" fill="none" stroke="#6a6a6a" stroke-width="1.15" stroke-linejoin="round" stroke-linecap="round"/>
<polyline points="809.5,172.5 809.5,180 822,187.5 814.5,192.5 799.5,193.8 792,207.5 795.8,217.5" fill="none" stroke="#6a6a6a" stroke-width="1.15" stroke-linejoin="round" stroke-linecap="round"/>
<polyline points="862,188.8 852,185 838.2,195 837,205 844.5,217.5 852,210 869.5,210 867,225 877,236.2 889.5,230 894.5,235 923.2,225" fill="none" stroke="#6a6a6a" stroke-width="1.15" stroke-linejoin="round" stroke-linecap="round"/>
<polyline points="509.8,282.5 521,276.2 533.5,278.8 543.5,285 552.2,295 551,307.5 546,316.2" fill="none" stroke="#6a6a6a" stroke-width="1.15" stroke-linejoin="round" stroke-linecap="round"/>
<polyline points="566,256.2 571,265 569.8,272.5 576,282.5 574.8,287.5 582.2,296.2 552.2,295" fill="none" stroke="#6a6a6a" stroke-width="1.15" stroke-linejoin="round" stroke-linecap="round"/>
<polyline points="589.8,340 601,333.8 598.5,320 607.2,316.2 628.5,305 636,293.8 646,287.5 671,291.2" fill="none" stroke="#6a6a6a" stroke-width="1.15" stroke-linejoin="round" stroke-linecap="round"/>
<polyline points="674.9,202.5 676.6,212.9 680.9,217.3 667.9,220.7 655.8,226.8 652.3,235.4 655.8,240.6 664.5,244.1 670.5,249.3 676.6,256.2 685.3,257.1 681.8,264.9 687,271.8 694.5,275 704.5,287.5 702,303.8" fill="none" stroke="#6a6a6a" stroke-width="1.15" stroke-linejoin="round" stroke-linecap="round"/>
<polyline points="652.3,235.4 658,236 668,231 669.5,238 664.5,244.1" fill="none" stroke="#6a6a6a" stroke-width="1.15" stroke-linejoin="round" stroke-linecap="round"/>
<polyline points="499.8,395 506,408.8 493.5,405 496,428.8 516,423.8 551,420 556,425 572.2,420" fill="none" stroke="#6a6a6a" stroke-width="1.15" stroke-linejoin="round" stroke-linecap="round"/>
<polyline points="496,428.8 491,445 482.2,447.5 483.5,455 491,457.5 489.8,461.2 476,465 476,473.8" fill="none" stroke="#6a6a6a" stroke-width="1.15" stroke-linejoin="round" stroke-linecap="round"/>
<polyline points="628.5,390 623.5,397.5 627.2,407.5 636,415 633.5,405 632.2,397.5" fill="none" stroke="#6a6a6a" stroke-width="1.15" stroke-linejoin="round" stroke-linecap="round"/>
<polyline points="873.2,376.2 879.5,375 897,372.5 898.2,367.5 907,366.2 914.5,372.5 927,376.2 942,371.2 952,373.8 963.2,351.2 982,352.5 997,348.8 989.5,360 1003.2,376.2 1012,373.8 1019.5,388.8 1002,405 992,415 983.2,411.2 990.8,420 979.5,425" fill="none" stroke="#6a6a6a" stroke-width="1.15" stroke-linejoin="round" stroke-linecap="round"/>
<polyline points="862,440 872,438.8 873.2,430 877,425 885.8,422.5 884.5,420 894.5,417.5 898.2,411.2 909.5,418.8 925.8,412.5 942,407.5 952,423.8 962,426.2 977,427.5 979.5,425" fill="none" stroke="#6a6a6a" stroke-width="1.15" stroke-linejoin="round" stroke-linecap="round"/>
<polyline points="979.5,425 997,437.5 1004.5,452.5 1007,462.5 1003.2,472.5 1009.5,480 1007,490.2" fill="none" stroke="#6a6a6a" stroke-width="1.15" stroke-linejoin="round" stroke-linecap="round"/>
<polyline points="997,437.5 1007,438.8 1022,435 1038.2,442.5" fill="none" stroke="#6a6a6a" stroke-width="1.15" stroke-linejoin="round" stroke-linecap="round"/>
<polyline points="1038.2,426.2 1033.2,426.2 1034.5,445" fill="none" stroke="#6a6a6a" stroke-width="1.15" stroke-linejoin="round" stroke-linecap="round"/>
<polyline points="710.8,375 722,400 737,392.5 743.2,392.5 745.8,397.5 738.2,405 739.5,411.2 749.5,408.8 759.5,415" fill="none" stroke="#6a6a6a" stroke-width="1.15" stroke-linejoin="round" stroke-linecap="round"/>
<polyline points="722,400 718.2,415 708.2,423.8 713.2,437.5 725.8,445 712,452.5 709.5,457.5 692,465" fill="none" stroke="#6a6a6a" stroke-width="1.15" stroke-linejoin="round" stroke-linecap="round"/>
<polyline points="1115.5,392.5 1103,411.2 1094.2,411.2 1088,402.5 1081.8,411.2 1076.8,407.5 1084.2,397.5 1075.5,393.8 1063,402.5 1060.5,410 1053,408.8 1055.5,415 1046.8,417.5 1049.2,422.5 1038,426.2" fill="none" stroke="#6a6a6a" stroke-width="1.15" stroke-linejoin="round" stroke-linecap="round"/>
<polyline points="1038,437.5 1056.8,436.2 1060.5,445 1059.2,465 1064.2,475 1070.5,471.2 1074.2,477.5" fill="none" stroke="#6a6a6a" stroke-width="1.15" stroke-linejoin="round" stroke-linecap="round"/>
<polyline points="1099.2,435 1108,431.2 1118,438.8" fill="none" stroke="#6a6a6a" stroke-width="1.15" stroke-linejoin="round" stroke-linecap="round"/>
<polyline points="1099.2,435 1104.2,441.2 1106.8,445" fill="none" stroke="#6a6a6a" stroke-width="1.15" stroke-linejoin="round" stroke-linecap="round"/>
<polyline points="939.5,515 938.2,517.5 927,527.5 932,535 923.2,533.8 919.5,526.2 914.5,527.5 915.8,521.2 909.5,522.5 912,533.8 907,537.5 912,543.8 905.8,548.8 907,557.5 900.8,557.5 904.5,568.8" fill="none" stroke="#6a6a6a" stroke-width="1.15" stroke-linejoin="round" stroke-linecap="round"/>
<polyline points="907,557.5 917,555 922,562.5" fill="none" stroke="#6a6a6a" stroke-width="1.15" stroke-linejoin="round" stroke-linecap="round"/>
<polyline points="974.5,490 974.5,495" fill="none" stroke="#6a6a6a" stroke-width="1.15" stroke-linejoin="round" stroke-linecap="round"/>
<polyline points="152.5,681 151,690 170,697.5 185,705 195,717.5 200,727.5" fill="none" stroke="#6a6a6a" stroke-width="1.15" stroke-linejoin="round" stroke-linecap="round"/>
<polyline points="285,656 286,662.5 282.5,667.5 289,675 287.5,681 275,676 265,684 246,689 245,697.5 214,702.5 212.5,710 219,715 219,725" fill="none" stroke="#6a6a6a" stroke-width="1.15" stroke-linejoin="round" stroke-linecap="round"/>
<polyline points="105,686 107.5,715 111,727.5 122.5,734 122.5,735 124,747.5 129,755 125,762.5 111,762.5 115,772.5 111,785" fill="none" stroke="#6a6a6a" stroke-width="1.15" stroke-linejoin="round" stroke-linecap="round"/>
<polyline points="130,725 135,710 151,710 152.5,722.5 150,735 155,735 165,745 156,754 162.5,760 175,761 185,762.5" fill="none" stroke="#6a6a6a" stroke-width="1.15" stroke-linejoin="round" stroke-linecap="round"/>
<polyline points="157.5,774 162.5,767.5 185,766" fill="none" stroke="#6a6a6a" stroke-width="1.15" stroke-linejoin="round" stroke-linecap="round"/>
<polyline points="204,735 205,741 257.5,739" fill="none" stroke="#6a6a6a" stroke-width="1.15" stroke-linejoin="round" stroke-linecap="round"/>
<polyline points="211,765 217.5,764 230,767.5" fill="none" stroke="#6a6a6a" stroke-width="1.15" stroke-linejoin="round" stroke-linecap="round"/>
<polyline points="211,765 210,772.5 207.5,779" fill="none" stroke="#6a6a6a" stroke-width="1.15" stroke-linejoin="round" stroke-linecap="round"/>
<polyline points="256,772.5 255,784 265,789 257.5,797.5 262.5,810" fill="none" stroke="#6a6a6a" stroke-width="1.15" stroke-linejoin="round" stroke-linecap="round"/>
<polyline points="192,716 197,714 210,719 209,725 203,724 196,720 192,716" fill="none" stroke="#6a6a6a" stroke-width="1.15" stroke-linejoin="round" stroke-linecap="round"/>
<polyline points="346,691 336,695 337.5,702.5 325,715" fill="none" stroke="#6a6a6a" stroke-width="1.15" stroke-linejoin="round" stroke-linecap="round"/>
<polyline points="501,538.8 506,535 531,533.8 533.5,538.8 543.5,530" fill="none" stroke="#6a6a6a" stroke-width="1.15" stroke-linejoin="round" stroke-linecap="round"/>
<polyline points="488.5,548.8 501,553.8 506,562.5 526,560 533.5,565 541,562.5 546,570 553.5,581.2" fill="none" stroke="#6a6a6a" stroke-width="1.15" stroke-linejoin="round" stroke-linecap="round"/>
<polyline points="441,631.2 446,637.5 453.5,640 456,650 461,665 468.5,675" fill="none" stroke="#6a6a6a" stroke-width="1.15" stroke-linejoin="round" stroke-linecap="round"/>
<polyline points="372.2,665 386,662.5 392.2,675 388.5,682.5 402.2,697.5 396,707.5 393.5,725 399.8,735.2" fill="none" stroke="#6a6a6a" stroke-width="1.15" stroke-linejoin="round" stroke-linecap="round"/>
<polyline points="346,692.5 361,690" fill="none" stroke="#6a6a6a" stroke-width="1.15" stroke-linejoin="round" stroke-linecap="round"/>
<polyline points="521,577.5 531,576.2 533.5,583.8 524.8,584.5 521,577.5" fill="none" stroke="#6a6a6a" stroke-width="1.15" stroke-linejoin="round" stroke-linecap="round"/>
<polyline points="396,767.5 397.2,778.8 387.2,782.5 392.2,785 391,801.2 416,795 418.5,807.5 428.5,808.8" fill="none" stroke="#6a6a6a" stroke-width="1.15" stroke-linejoin="round" stroke-linecap="round"/>
<polyline points="378.5,735 388.5,757.5 378.5,772.5 369.8,792.5 371,807.5" fill="none" stroke="#6a6a6a" stroke-width="1.15" stroke-linejoin="round" stroke-linecap="round"/>
<polyline points="619.8,522.5 617.2,547.5 617.2,567.5" fill="none" stroke="#6a6a6a" stroke-width="1.15" stroke-linejoin="round" stroke-linecap="round"/>
<polyline points="633.5,580 629.8,567.5" fill="none" stroke="#6a6a6a" stroke-width="1.15" stroke-linejoin="round" stroke-linecap="round"/>
<polyline points="864.3,498.5 879.4,495.1 882.8,483.3 897.9,476.6 901.3,488.4 918.1,495.1 934.9,493.4 941.7,474.9 955.1,478.3 961.9,476.6 973.6,488.4 975.3,493.4 1007,490.2" fill="none" stroke="#6a6a6a" stroke-width="1.15" stroke-linejoin="round" stroke-linecap="round"/>
<polyline points="459,696.5 471.7,694.9 472.5,699.7 470.1,702.8 473.3,706.8 474.1,714 466.9,714.8 460.5,718 455.8,722.7 451,726.7 447.8,733.9 443,738.6 439.1,745.8 436.7,754.5 432.7,760.9 427.9,761.7 427.1,765.7 416.8,766.5 412,767.3 408.8,772 408,778.4" fill="none" stroke="#6a6a6a" stroke-width="1.15" stroke-linejoin="round" stroke-linecap="round"/>
<polyline points="459,696.5 460.5,701.2 468.5,700.5" fill="none" stroke="#6a6a6a" stroke-width="1.15" stroke-linejoin="round" stroke-linecap="round"/>
<polyline points="468.5,674.2 472.5,689.3 477.2,694.9 490.8,687.7 500.3,682.9 506.7,679.8 505.1,675 513,671 512.2,663.9 515.4,659.1 511.4,655.9 514.6,649.5" fill="none" stroke="#6a6a6a" stroke-width="1.15" stroke-linejoin="round" stroke-linecap="round"/>
<polyline points="434.3,679.8 436.7,675.8 457.4,678.2 468.5,674.2" fill="none" stroke="#6a6a6a" stroke-width="1.15" stroke-linejoin="round" stroke-linecap="round"/>
<polyline points="506.7,679.8 522.6,683.7 543.3,687.7 548,697.3 541.7,700.5 531.3,703.6 538.5,706.8" fill="none" stroke="#6a6a6a" stroke-width="1.15" stroke-linejoin="round" stroke-linecap="round"/>
<polyline points="484.4,751.4 498.7,745 501.1,739.4 498.7,734.7 508.3,728.3 523.4,725.1 526.6,732.3 530.5,745 538.5,748.2 551.2,745 559.2,741.8" fill="none" stroke="#6a6a6a" stroke-width="1.15" stroke-linejoin="round" stroke-linecap="round"/>
<polyline points="484.4,751.4 486,760.9 490,775.2" fill="none" stroke="#6a6a6a" stroke-width="1.15" stroke-linejoin="round" stroke-linecap="round"/>
<polyline points="369.9,731.5 382.6,735.4 396.9,733.9 405.7,745 404.1,749.8 412.8,756.1 412,767.3" fill="none" stroke="#6a6a6a" stroke-width="1.15" stroke-linejoin="round" stroke-linecap="round"/>
<clipPath id="tc1"><polygon points="541,527.5 557.2,510 581,505 596,503.8 611,508.8 619.8,522.5 617.2,547.5 617.2,567.5 606,572.5 604.8,583.8 583.5,576.2 578.5,572.5 579.8,562.5 571,555 558.5,555 546,550 538.5,550 543.5,537.5"/></clipPath>
<g clip-path="url(#tc1)">
<polygon points="541,527.5 557.2,510 581,505 596,503.8 611,508.8 619.8,522.5 617.2,547.5 617.2,567.5 606,572.5 604.8,583.8 583.5,576.2 578.5,572.5 579.8,562.5 571,555 558.5,555 546,550 538.5,550 543.5,537.5" fill="#a6bddb"/>
<polygon points="557.6,531.4 562.3,531 565,535.3 557.8,538.1" fill="#d0d1e6" stroke="#d0d1e6" stroke-width="0.4"/>
<polygon points="577.3,539.4 582.1,541 581.6,549.7 575.7,548.6" fill="#f1eef6" stroke="#f1eef6" stroke-width="0.4"/>
<polygon points="574.3,568.1 580.5,566.4 584.4,570.5 578.7,573.1" fill="#d0d1e6" stroke="#d0d1e6" stroke-width="0.4"/>
<polygon points="578.7,573.1 584.4,570.5 582.9,575.7 579.3,578.9" fill="#d0d1e6" stroke="#d0d1e6" stroke-width="0.4"/>
<polygon points="584.4,570.5 591.6,572.7 587.5,580.4 582.9,575.7" fill="#f1eef6" stroke="#f1eef6" stroke-width="0.4"/>
<polygon points="582.9,575.7 587.5,580.4 592.2,581.6 582.2,583.7" fill="#f1eef6" stroke="#f1eef6" stroke-width="0.4"/>
<polygon points="591.6,572.7 596,571.7 596.7,578.7 587.5,580.4" fill="#f1eef6" stroke="#f1eef6" stroke-width="0.4"/>
<polygon points="587.5,580.4 596.7,578.7 594.5,582.4 592.2,581.6" fill="#d0d1e6" stroke="#d0d1e6" stroke-width="0.4"/>
<polygon points="607.7,517 610.2,513.2 613.2,520.9 605.4,522.7" fill="#d0d1e6" stroke="#d0d1e6" stroke-width="0.4"/>
<polygon points="605.4,522.7 613.2,520.9 613.5,526.4 604.9,526.4" fill="#d0d1e6" stroke="#d0d1e6" stroke-width="0.4"/>
<polygon points="608.5,538.3 613.6,539.3 613.3,546.7 606.1,545.2" fill="#d0d1e6" stroke="#d0d1e6" stroke-width="0.4"/>
<polygon points="606.1,545.2 613.3,546.7 614.5,553.9 606.4,551.6" fill="#d0d1e6" stroke="#d0d1e6" stroke-width="0.4"/>
<polygon points="613.6,539.3 620.1,539.5 617.7,543.7 613.3,546.7" fill="#d0d1e6" stroke="#d0d1e6" stroke-width="0.4"/>
<path d="M543.3 524.7L543.9 529.3M543.9 529.3L546.2 538.9M539.3 534.2L546.2 538.9M546.2 538.9L544.3 540.4M538.9 542.8L544.3 540.4M544.3 540.4L542.6 550.9M549.5 512L550.9 517M542.2 516.4L550.9 517M550.9 517L551.5 525.8M543.3 524.7L551.5 525.8M551.5 525.8L548.2 532.3M543.9 529.3L548.2 532.3M548.2 532.3L551.6 534.2M551.6 534.2L550.6 543M544.3 540.4L550.6 543M550.6 543L553.2 547.8M542.6 550.9L553.2 547.8M553.2 547.8L551.8 556.7M553.8 510.3L557.2 515.3M557.2 515.3L554.3 523.6M554.3 523.6L557.6 531.4M548.2 532.3L557.6 531.4M557.6 531.4L557.8 538.1M551.6 534.2L557.8 538.1M557.8 538.1L557.1 544.4M550.6 543L557.1 544.4M557.1 544.4L555.1 546.9M553.2 547.8L555.1 546.9M555.1 546.9L557.7 553.3M551.8 556.7L557.7 553.3M557.7 553.3L559.1 561.3M559.2 504.9L561.4 513.2M553.8 510.3L561.4 513.2M561.4 513.2L564.1 515.7M564.1 515.7L562.1 521.2M554.3 523.6L562.1 521.2M557.6 531.4L562.3 531M562.3 531L565 535.3M557.8 538.1L565 535.3M565 535.3L562.2 540.2M557.1 544.4L562.2 540.2M562.2 540.2L564.2 550.1M564.2 550.1L561.9 555.7M557.7 553.3L561.9 555.7M567.2 515.8L570.6 521.3M562.1 521.2L570.6 521.3M570.6 521.3L571.5 531M565 535.3L567.1 534M562.2 540.2L570.5 540.2M570.5 540.2L567.7 549.5M564.2 550.1L567.7 549.5M567.7 549.5L569.6 555.4M571.6 501.8L576.4 509.9M576.4 509.9L575.7 515.4M567.2 515.8L575.7 515.4M575.7 515.4L574.5 522.7M574.5 522.7L574.6 529.3M571.5 531L574.6 529.3M574.6 529.3L572.8 536.1M567.1 534L572.8 536.1M572.8 536.1L577.3 539.4M570.5 540.2L577.3 539.4M577.3 539.4L575.7 548.6M575.7 548.6L575.6 552M575.6 552L574.7 559.9M580 507.4L579.9 516.9M575.7 515.4L579.9 516.9M574.5 522.7L581.5 520.9M577.3 539.4L582.1 541M582.1 541L581.6 549.7M575.7 548.6L581.6 549.7M581.6 549.7L583.1 554.3M583.1 554.3L584.1 561.9M574.7 559.9L584.1 561.9M584.1 561.9L580.5 566.4M574.3 568.1L580.5 566.4M580.5 566.4L584.4 570.5M578.7 573.1L584.4 570.5M584.4 570.5L582.9 575.7M579.3 578.9L582.9 575.7M582.9 575.7L582.2 583.7M580 507.4L586.5 510.2M586.5 510.2L584.6 518.2M579.9 516.9L584.6 518.2M584.6 518.2L586.7 522.2M581.5 520.9L586.7 522.2M586.7 522.2L587.8 527.5M583.5 529.2L587.8 527.5M587.8 527.5L586.6 535.2M580.7 535.6L586.6 535.2M586.6 535.2L588.2 539.4M588.2 539.4L589.3 545.7M581.6 549.7L589.3 545.7M583.1 554.3L586 551.8M586 551.8L586.4 557.5M580.5 566.4L590.4 564.7M590.4 564.7L591.6 572.7M584.4 570.5L591.6 572.7M591.6 572.7L587.5 580.4M587.5 580.4L592.2 581.6M590.1 503.4L590.7 509.1M590.7 509.1L593.8 515.2M593.8 515.2L592 522.2M586.7 522.2L592 522.2M586.6 535.2L594.1 536.7M594.1 536.7L596.6 541.4M586 551.8L596.9 554M596.9 554L595.7 558.1M595.7 558.1L594.2 566.1M590.4 564.7L594.2 566.1M594.2 566.1L596 571.7M591.6 572.7L596 571.7M596 571.7L596.7 578.7M587.5 580.4L596.7 578.7M596.7 578.7L594.5 582.4M598.4 501.3L598.1 510.3M593.8 515.2L600.8 512.9M592 522.2L597.6 523.1M593.2 529.4L600.5 529M598.5 533.5L599.2 541.7M599.2 541.7L600 547M593 544.5L600 547M600 547L603.4 551.3M595.7 558.1L601.5 559.8M601.5 559.8L603.7 564.3M594.2 566.1L603.7 564.3M603.7 564.3L601 568.9M596 571.7L601 568.9M601 568.9L604 574.9M596.7 578.7L604 574.9M598.1 510.3L605.5 510.9M605.5 510.9L607.7 517M600.8 512.9L607.7 517M607.7 517L605.4 522.7M605.4 522.7L604.9 526.4M604.9 526.4L605.8 535.8M605.8 535.8L608.5 538.3M608.5 538.3L606.1 545.2M600 547L606.1 545.2M606.1 545.2L606.4 551.6M603.4 551.3L606.4 551.6M606.4 551.6L606.8 556.7M606.8 556.7L608.1 566M603.7 564.3L608.1 566M608.1 566L608.3 572.4M601 568.9L608.3 572.4M604 574.9L608.6 575.2M605.5 510.9L612.6 509.1M612.6 509.1L610.2 513.2M607.7 517L610.2 513.2M610.2 513.2L613.2 520.9M613.2 520.9L613.5 526.4M604.9 526.4L613.5 526.4M613.5 526.4L611.7 535.7M605.8 535.8L611.7 535.7M611.7 535.7L613.6 539.3M608.5 538.3L613.6 539.3M613.6 539.3L613.3 546.7M606.1 545.2L613.3 546.7M613.3 546.7L614.5 553.9M606.4 551.6L614.5 553.9M614.5 553.9L613.2 559.7M606.8 556.7L613.2 559.7M608.1 566L614.9 566M614.9 566L615.9 572M610.2 513.2L617.5 514.8M613.2 520.9L620.1 518M613.5 526.4L616.2 525.2M611.7 535.7L617.1 531.6M617.1 531.6L620.1 539.5M613.6 539.3L620.1 539.5M613.3 546.7L617.7 543.7M613.2 559.7L621.1 556.6M614.9 566L620.4 565.5M616.2 525.2L624.6 527.1" fill="none" stroke="#636363" stroke-width="0.55" stroke-linecap="round"/>
</g>
<polygon points="541,527.5 557.2,510 581,505 596,503.8 611,508.8 619.8,522.5 617.2,547.5 617.2,567.5 606,572.5 604.8,583.8 583.5,576.2 578.5,572.5 579.8,562.5 571,555 558.5,555 546,550 538.5,550 543.5,537.5" fill="none" stroke="#6a6a6a" stroke-width="0.6"/>
<clipPath id="tc2"><polygon points="546,643.8 564.8,635 586,635 601,633.8 606,637.5 629.8,636.2 632.2,642.5 639.8,643.8 643.5,648.8 649.8,650 638.5,660 631,670 611,676.2 601,687.5 597.9,689.8 596.7,698.4 594.8,710.6 595.5,720.4 596.1,729 594.2,733 590.6,725.3 585.7,708.1 588.1,700.8 585.7,694.7 584.4,689.8 572.2,690.4 569.1,693.5 571,687.5 566,675 551,665 546,652.5"/></clipPath>
<g clip-path="url(#tc2)">
<polygon points="546,643.8 564.8,635 586,635 601,633.8 606,637.5 629.8,636.2 632.2,642.5 639.8,643.8 643.5,648.8 649.8,650 638.5,660 631,670 611,676.2 601,687.5 597.9,689.8 596.7,698.4 594.8,710.6 595.5,720.4 596.1,729 594.2,733 590.6,725.3 585.7,708.1 588.1,700.8 585.7,694.7 584.4,689.8 572.2,690.4 569.1,693.5 571,687.5 566,675 551,665 546,652.5" fill="#74a9cf"/>
<polygon points="540.3,642.1 545.3,640.2 546.8,648.2 540.2,648.5" fill="#a6bddb" stroke="#a6bddb" stroke-width="0.4"/>
<polygon points="559.1,668.3 561,669 563.2,674.3 555.5,674.7" fill="#a6bddb" stroke="#a6bddb" stroke-width="0.4"/>
<polygon points="559.6,635.6 567.1,635 569.3,638.4 559.8,639.2" fill="#a6bddb" stroke="#a6bddb" stroke-width="0.4"/>
<polygon points="567.1,635 572.1,633.4 570.9,638.3 569.3,638.4" fill="#a6bddb" stroke="#a6bddb" stroke-width="0.4"/>
<polygon points="568.5,681.3 573.4,680 573,685.2 566.6,685.5" fill="#a6bddb" stroke="#a6bddb" stroke-width="0.4"/>
<polygon points="566.6,685.5 573,685.2 575.1,691.6 567.1,692.2" fill="#a6bddb" stroke="#a6bddb" stroke-width="0.4"/>
<polygon points="573,685.2 581.5,686.7 579.9,691.1 575.1,691.6" fill="#a6bddb" stroke="#a6bddb" stroke-width="0.4"/>
<polygon points="581.5,686.7 586.9,683.4 583.3,688.6 579.9,691.1" fill="#a6bddb" stroke="#a6bddb" stroke-width="0.4"/>
<polygon points="579.9,691.1 583.3,688.6 584.5,697.9 579.8,697.2" fill="#a6bddb" stroke="#a6bddb" stroke-width="0.4"/>
<polygon points="580.7,711.1 587.5,710.7 584.7,717.8 580.3,718" fill="#a6bddb" stroke="#a6bddb" stroke-width="0.4"/>
<polygon points="584.8,669.7 592.7,667.1 592.7,675.1 583.2,672.3" fill="#a6bddb" stroke="#a6bddb" stroke-width="0.4"/>
<polygon points="587.5,710.7 593.6,713.2 593.4,719.9 584.7,717.8" fill="#a6bddb" stroke="#a6bddb" stroke-width="0.4"/>
<polygon points="587.9,722.2 591.3,724.5 592.7,730 584.4,731.3" fill="#a6bddb" stroke="#a6bddb" stroke-width="0.4"/>
<polygon points="587.5,632.9 593.1,632.2 595.9,641.7 591.5,638.4" fill="#a6bddb" stroke="#a6bddb" stroke-width="0.4"/>
<polygon points="588.9,699.3 595.2,702.4 597.1,704.7 589,705.6" fill="#a6bddb" stroke="#a6bddb" stroke-width="0.4"/>
<polygon points="592.7,730 596.9,728.9 596,733.2 590.2,736.6" fill="#a6bddb" stroke="#a6bddb" stroke-width="0.4"/>
<polygon points="593.1,632.2 598.8,635.5 598.8,641.6 595.9,641.7" fill="#a6bddb" stroke="#a6bddb" stroke-width="0.4"/>
<polygon points="594.9,654.4 603.5,657.4 601.8,662.4 595.5,660.8" fill="#a6bddb" stroke="#a6bddb" stroke-width="0.4"/>
<polygon points="601.9,647.2 607.4,645.7 604.5,651.1 599.1,652.4" fill="#a6bddb" stroke="#a6bddb" stroke-width="0.4"/>
<polygon points="607.1,638.9 611,639 610.5,646.8 607.4,645.7" fill="#a6bddb" stroke="#a6bddb" stroke-width="0.4"/>
<polygon points="607.4,645.7 610.5,646.8 611.5,647.9 604.5,651.1" fill="#a6bddb" stroke="#a6bddb" stroke-width="0.4"/>
<polygon points="614.6,672.6 620.7,671.3 618.6,678.9 613.7,677.3" fill="#2b8cbe" stroke="#2b8cbe" stroke-width="0.4"/>
<polygon points="619.4,656 622.8,657.4 624.4,661.7 616.5,663" fill="#2b8cbe" stroke="#2b8cbe" stroke-width="0.4"/>
<polygon points="620.7,671.3 622.6,673.1 624,677.2 618.6,678.9" fill="#2b8cbe" stroke="#2b8cbe" stroke-width="0.4"/>
<polygon points="624.7,634.6 628.4,633.2 630.6,636.8 623,639.8" fill="#a6bddb" stroke="#a6bddb" stroke-width="0.4"/>
<polygon points="623,639.8 630.6,636.8 629,643.8 623,644.7" fill="#a6bddb" stroke="#a6bddb" stroke-width="0.4"/>
<polygon points="624.4,661.7 629.7,660 631.6,668.3 624.1,666.6" fill="#2b8cbe" stroke="#2b8cbe" stroke-width="0.4"/>
<polygon points="624.1,666.6 631.6,668.3 630.8,671.7 622.6,673.1" fill="#2b8cbe" stroke="#2b8cbe" stroke-width="0.4"/>
<polygon points="631.6,668.3 636.6,665.9 637.4,674.3 630.8,671.7" fill="#2b8cbe" stroke="#2b8cbe" stroke-width="0.4"/>
<path d="M545.3 640.2L546.8 648.2M540.2 648.5L546.8 648.2M550.5 646.8L550.2 651.4M546 659.1L551 658.4M551 658.4L550.1 665M555 646L557.5 653.1M551 658.4L557.7 656.5M550.1 665L556.2 664.6M556.2 664.6L559.1 668.3M551.2 670.3L559.1 668.3M559.1 668.3L555.5 674.7M559.6 635.6L559.8 639.2M556.8 638.1L559.8 639.2M555 646L563.4 648.2M562.8 649.9L561.8 656.1M563.8 661.4L561 669M559.1 668.3L561 669M561 669L563.2 674.3M568.6 628.4L567.1 635M559.6 635.6L567.1 635M567.1 635L569.3 638.4M559.8 639.2L569.3 638.4M562.8 649.9L569.6 653.3M561.8 656.1L567.8 656.3M567.8 656.3L566.4 664.5M563.8 661.4L566.4 664.5M561 669L569.3 668.4M569.3 668.4L569.5 672.6M574.4 629.5L572.1 633.4M567.1 635L572.1 633.4M572.1 633.4L570.9 638.3M569.3 638.4L570.9 638.3M570.9 638.3L570.9 647.9M566.2 647.5L570.9 647.9M570.9 647.9L571.5 651.7M569.6 653.3L571.5 651.7M571.5 651.7L571.7 659.1M567.8 656.3L571.7 659.1M571.7 659.1L573.6 660.9M566.4 664.5L573.6 660.9M573.6 660.9L575.2 669.7M569.3 668.4L575.2 669.7M569.5 672.6L576 672.3M568.5 681.3L573.4 680M573.4 680L573 685.2M573 685.2L575.1 691.6M576.1 627.2L578.1 635.8M578.1 635.8L579.4 642.2M570.9 638.3L579.4 642.2M579.4 642.2L579.9 645.1M570.9 647.9L579.9 645.1M571.5 651.7L580.7 650.2M571.7 659.1L576.9 658.9M580.9 663L579.1 666.5M579.1 666.5L578 671.5M576 672.3L578 671.5M578 671.5L577.6 679M573.4 680L577.6 679M577.6 679L581.5 686.7M573 685.2L581.5 686.7M581.5 686.7L579.9 691.1M584.2 627L582.7 635.3M584.1 641.6L582.6 643.4M582.6 643.4L586.4 651.4M580.7 650.2L586.4 651.4M586.4 651.4L585.4 656.8M576.9 658.9L585.4 656.8M580.9 663L583.1 664.4M584.8 669.7L583.2 672.3M578 671.5L583.2 672.3M583.2 672.3L585.3 677.7M577.6 679L585.3 677.7M585.3 677.7L586.9 683.4M581.5 686.7L586.9 683.4M586.9 683.4L583.3 688.6M579.9 691.1L583.3 688.6M583.3 688.6L584.5 697.9M585.4 704.8L587.5 710.7M580.7 711.1L587.5 710.7M587.5 710.7L584.7 717.8M582.7 635.3L587.5 632.9M587.5 632.9L591.5 638.4M584.1 641.6L591.5 638.4M582.6 643.4L590.8 643.4M590.8 643.4L590.7 649.2M590.7 649.2L590.6 657.5M585.4 656.8L590.6 657.5M590.6 657.5L592 661.6M583.1 664.4L592 661.6M592 661.6L592.7 667.1M584.8 669.7L592.7 667.1M592.7 667.1L592.7 675.1M583.2 672.3L592.7 675.1M592.7 675.1L593 676.9M585.3 677.7L593 676.9M589.8 685.3L592.7 688.8M583.3 688.6L592.7 688.8M592.7 688.8L592.4 695.4M587.5 702.1L588.9 699.3M588.9 699.3L589 705.6M589 705.6L593.6 713.2M587.5 710.7L593.6 713.2M593.6 713.2L593.4 719.9M584.7 717.8L593.4 719.9M587.9 722.2L591.3 724.5M591.3 724.5L592.7 730M591.5 638.4L595.9 641.7M590.8 643.4L593.1 644.9M593.1 644.9L594.9 649.8M594.9 649.8L594.9 654.4M590.6 657.5L594.9 654.4M594.9 654.4L595.5 660.8M592 661.6L595.5 660.8M595.5 660.8L593.9 665.8M593.9 665.8L598.2 674M598.2 674L598.6 680.1M593 676.9L598.6 680.1M598.6 680.1L597.5 682.9M589.8 685.3L597.5 682.9M594.8 692.2L597.6 696.5M592.4 695.4L597.6 696.5M597.6 696.5L595.2 702.4M588.9 699.3L595.2 702.4M595.2 702.4L597.1 704.7M589 705.6L597.1 704.7M593.6 713.2L595.8 714.5M597.8 715.9L595.5 724.7M595.5 724.7L596.9 728.9M592.7 730L596.9 728.9M600.2 627.7L598.8 635.5M593.1 632.2L598.8 635.5M598.8 635.5L598.8 641.6M595.9 641.7L598.8 641.6M598.8 641.6L601.9 647.2M593.1 644.9L601.9 647.2M601.9 647.2L599.1 652.4M599.1 652.4L603.5 657.4M594.9 654.4L603.5 657.4M603.5 657.4L601.8 662.4M595.5 660.8L601.8 662.4M601.8 662.4L601.5 669M593.9 665.8L601.5 669M601.5 669L602.1 673.1M598.6 680.1L601.4 679.1M601.4 679.1L602.5 686.2M597.5 682.9L602.5 686.2M597.6 696.5L603.3 694M595.2 702.4L602.4 701M598.8 635.5L606.6 633.3M607.1 638.9L607.4 645.7M601.9 647.2L607.4 645.7M599.1 652.4L604.5 651.1M601.8 662.4L607.2 661.8M607.2 661.8L605.5 665.8M601.5 669L605.5 665.8M605.5 665.8L609.1 670.7M607.1 638.9L611 639M611 639L610.5 646.8M607.4 645.7L610.5 646.8M610.5 646.8L611.5 647.9M604.5 651.1L611.5 647.9M611.5 647.9L611.3 655.9M607.9 657.7L611.3 655.9M611.3 655.9L613.2 662.9M607.2 661.8L613.2 662.9M613.2 662.9L610.9 669.3M605.5 665.8L610.9 669.3M609.1 670.7L614.6 672.6M614.6 672.6L613.7 677.3M616.6 634.3L619.9 637.1M611 639L619.9 637.1M619.9 637.1L618.7 643.2M610.5 646.8L618.7 643.2M618.7 643.2L619.4 651.2M611.5 647.9L619.4 651.2M619.4 651.2L619.4 656M611.3 655.9L619.4 656M619.4 656L616.5 663M613.2 662.9L616.5 663M610.9 669.3L616.6 667.3M614.6 672.6L620.7 671.3M624.7 634.6L623 639.8M623 639.8L623 644.7M622.7 649.8L622.8 657.4M619.4 656L622.8 657.4M622.8 657.4L624.4 661.7M616.5 663L624.4 661.7M624.4 661.7L624.1 666.6M616.6 667.3L624.1 666.6M624.1 666.6L622.6 673.1M620.7 671.3L622.6 673.1M623 639.8L630.6 636.8M630.6 636.8L629 643.8M623 644.7L629 643.8M622.7 649.8L629.8 648.5M622.8 657.4L628 654.1M624.4 661.7L629.7 660M629.7 660L631.6 668.3M624.1 666.6L631.6 668.3M631.6 668.3L630.8 671.7M632.2 638.3L636.6 644.1M629 643.8L636.6 644.1M636.6 644.1L635.8 649.1M629.8 648.5L635.8 649.1M637.2 655.3L636.5 661.4M631.6 668.3L636.6 665.9M635.8 649.1L640.5 649.2M637.2 655.3L641.8 655.6M641.8 655.6L638.3 661.1M644.9 644.4L644.7 650.8M640.5 649.2L644.7 650.8M644.7 650.8L652.4 647.7" fill="none" stroke="#636363" stroke-width="0.55" stroke-linecap="round"/>
</g>
<polygon points="546,643.8 564.8,635 586,635 601,633.8 606,637.5 629.8,636.2 632.2,642.5 639.8,643.8 643.5,648.8 649.8,650 638.5,660 631,670 611,676.2 601,687.5 597.9,689.8 596.7,698.4 594.8,710.6 595.5,720.4 596.1,729 594.2,733 590.6,725.3 585.7,708.1 588.1,700.8 585.7,694.7 584.4,689.8 572.2,690.4 569.1,693.5 571,687.5 566,675 551,665 546,652.5" fill="none" stroke="#6a6a6a" stroke-width="0.6"/>
<clipPath id="tc3"><polygon points="281.6,731.2 286.8,726 298.9,732.9 309.3,727.7 321.5,729.5 337,731.2 349.2,728.6 354.4,736.4 359.6,743.3 370,748.5 371.7,758.9 370.9,776.3 350.9,776.3 344,772.8 333.6,772.8 326.7,765.9 316.3,760.7 309.3,758.9 299.8,759.8 292,750.3 290.3,739.9"/></clipPath>
<g clip-path="url(#tc3)">
<polygon points="281.6,731.2 286.8,726 298.9,732.9 309.3,727.7 321.5,729.5 337,731.2 349.2,728.6 354.4,736.4 359.6,743.3 370,748.5 371.7,758.9 370.9,776.3 350.9,776.3 344,772.8 333.6,772.8 326.7,765.9 316.3,760.7 309.3,758.9 299.8,759.8 292,750.3 290.3,739.9" fill="#d0d1e6"/>
<polygon points="281.7,726.7 286.8,722.3 288.4,730.6 278.8,729.5" fill="#f1eef6" stroke="#f1eef6" stroke-width="0.4"/>
<polygon points="278.8,729.5 288.4,730.6 287.9,737.2 282.8,737.5" fill="#f1eef6" stroke="#f1eef6" stroke-width="0.4"/>
<polygon points="283.6,740.6 290.3,739.9 289.3,745.8 286.9,745.6" fill="#f1eef6" stroke="#f1eef6" stroke-width="0.4"/>
<polygon points="286.8,722.3 288.5,720.9 292.4,730 288.4,730.6" fill="#a6bddb" stroke="#a6bddb" stroke-width="0.4"/>
<polygon points="288.4,730.6 292.4,730 292.1,733.7 287.9,737.2" fill="#a6bddb" stroke="#a6bddb" stroke-width="0.4"/>
<polygon points="287.9,737.2 292.1,733.7 294.8,737.6 290.3,739.9" fill="#a6bddb" stroke="#a6bddb" stroke-width="0.4"/>
<polygon points="290.3,739.9 294.8,737.6 295.5,742.1 289.3,745.8" fill="#a6bddb" stroke="#a6bddb" stroke-width="0.4"/>
<polygon points="291.6,756.3 297.5,754.1 298.1,762.1 294,760.6" fill="#f1eef6" stroke="#f1eef6" stroke-width="0.4"/>
<polygon points="288.5,720.9 297.7,722.7 297.1,728.3 292.4,730" fill="#f1eef6" stroke="#f1eef6" stroke-width="0.4"/>
<polygon points="292.4,730 297.1,728.3 298.7,732.5 292.1,733.7" fill="#a6bddb" stroke="#a6bddb" stroke-width="0.4"/>
<polygon points="292.1,733.7 298.7,732.5 300.1,739.6 294.8,737.6" fill="#f1eef6" stroke="#f1eef6" stroke-width="0.4"/>
<polygon points="298.7,732.5 303.2,729.6 303.3,734.4 300.1,739.6" fill="#f1eef6" stroke="#f1eef6" stroke-width="0.4"/>
<polygon points="301.6,745.1 307.2,739.4 306.9,747.7 302.1,749.4" fill="#f1eef6" stroke="#f1eef6" stroke-width="0.4"/>
<polygon points="307.2,739.4 310.3,740.5 312,747.2 306.9,747.7" fill="#f1eef6" stroke="#f1eef6" stroke-width="0.4"/>
<polygon points="315.1,750.8 319.2,747.8 322.8,754.3 316.9,755.2" fill="#a6bddb" stroke="#a6bddb" stroke-width="0.4"/>
<polygon points="314.1,723.2 318.7,722.6 320.6,728.4 317.3,729" fill="#f1eef6" stroke="#f1eef6" stroke-width="0.4"/>
<polygon points="319.2,747.8 327.4,749.3 327.3,753.6 322.8,754.3" fill="#a6bddb" stroke="#a6bddb" stroke-width="0.4"/>
<polygon points="322.8,754.3 327.3,753.6 326.5,760.8 322.4,759.9" fill="#a6bddb" stroke="#a6bddb" stroke-width="0.4"/>
<polygon points="324.5,765.7 329.8,765.9 331.5,769.7 327.3,771.7" fill="#f1eef6" stroke="#f1eef6" stroke-width="0.4"/>
<polygon points="322.3,743.2 331.6,739.6 332.8,747.9 327.4,749.3" fill="#f1eef6" stroke="#f1eef6" stroke-width="0.4"/>
<polygon points="329.8,765.9 337.5,763.8 336.6,769.4 331.5,769.7" fill="#f1eef6" stroke="#f1eef6" stroke-width="0.4"/>
<polygon points="337.5,763.8 340.7,763.4 340.1,767.8 336.6,769.4" fill="#f1eef6" stroke="#f1eef6" stroke-width="0.4"/>
<polygon points="335.1,738.4 338.8,738.9 342.8,745.1 337.7,745.7" fill="#f1eef6" stroke="#f1eef6" stroke-width="0.4"/>
<polygon points="337.7,745.7 342.8,745.1 344.9,748 336.6,752.2" fill="#f1eef6" stroke="#f1eef6" stroke-width="0.4"/>
<polygon points="340.7,763.4 346.2,761.9 347.5,767.3 340.1,767.8" fill="#f1eef6" stroke="#f1eef6" stroke-width="0.4"/>
<polygon points="342.3,774.1 350.7,770.5 351,776.2 345.8,777.1" fill="#f1eef6" stroke="#f1eef6" stroke-width="0.4"/>
<polygon points="338.8,738.9 348.3,737.1 348.3,742.7 342.8,745.1" fill="#f1eef6" stroke="#f1eef6" stroke-width="0.4"/>
<polygon points="342.8,745.1 348.3,742.7 347,749.6 344.9,748" fill="#f1eef6" stroke="#f1eef6" stroke-width="0.4"/>
<polygon points="346.2,761.9 352.2,760.2 351.1,767.5 347.5,767.3" fill="#f1eef6" stroke="#f1eef6" stroke-width="0.4"/>
<polygon points="343.7,726.3 350.7,723 348.8,730.6 342.5,731.9" fill="#a6bddb" stroke="#a6bddb" stroke-width="0.4"/>
<polygon points="342.5,731.9 348.8,730.6 353.8,737.5 348.3,737.1" fill="#a6bddb" stroke="#a6bddb" stroke-width="0.4"/>
<polygon points="352.2,760.2 358.6,755.7 359.1,762.2 351.1,767.5" fill="#f1eef6" stroke="#f1eef6" stroke-width="0.4"/>
<polygon points="351.1,767.5 359.1,762.2 358.2,771.2 351.6,769.4" fill="#f1eef6" stroke="#f1eef6" stroke-width="0.4"/>
<polygon points="351.6,769.4 358.2,771.2 360.5,773.6 355.1,777.4" fill="#f1eef6" stroke="#f1eef6" stroke-width="0.4"/>
<polygon points="359.1,762.2 365.1,761.2 366.7,767.9 358.2,771.2" fill="#f1eef6" stroke="#f1eef6" stroke-width="0.4"/>
<polygon points="358.2,771.2 366.7,767.9 366.8,772.3 360.5,773.6" fill="#f1eef6" stroke="#f1eef6" stroke-width="0.4"/>
<polygon points="361.9,751.1 368.5,749 366.7,755 360,755.7" fill="#f1eef6" stroke="#f1eef6" stroke-width="0.4"/>
<polygon points="360,755.7 366.7,755 370.6,759.4 365.1,761.2" fill="#f1eef6" stroke="#f1eef6" stroke-width="0.4"/>
<polygon points="362.9,737.9 371,739.7 372.5,742 364.5,746.4" fill="#f1eef6" stroke="#f1eef6" stroke-width="0.4"/>
<polygon points="368.5,749 372,748.4 371.3,754.3 366.7,755" fill="#f1eef6" stroke="#f1eef6" stroke-width="0.4"/>
<polygon points="366.7,755 371.3,754.3 375,759 370.6,759.4" fill="#f1eef6" stroke="#f1eef6" stroke-width="0.4"/>
<polygon points="368.8,765.9 377.2,764.5 376.8,772.5 369.6,770.7" fill="#f1eef6" stroke="#f1eef6" stroke-width="0.4"/>
<path d="M286.8 722.3L288.4 730.6M278.8 729.5L288.4 730.6M288.4 730.6L287.9 737.2M282.8 737.5L287.9 737.2M287.9 737.2L290.3 739.9M283.6 740.6L290.3 739.9M290.3 739.9L289.3 745.8M286.9 745.6L289.3 745.8M284 750.9L293.7 750.8M293.7 750.8L291.6 756.3M288.5 720.9L292.4 730M292.4 730L292.1 733.7M287.9 737.2L292.1 733.7M292.1 733.7L294.8 737.6M294.8 737.6L295.5 742.1M289.3 745.8L295.5 742.1M295.5 742.1L297.3 751M293.7 750.8L297.3 751M297.3 751L297.5 754.1M291.6 756.3L297.5 754.1M297.5 754.1L298.1 762.1M292.4 730L297.1 728.3M292.1 733.7L298.7 732.5M294.8 737.6L300.1 739.6M295.5 742.1L301.6 745.1M301.6 745.1L302.1 749.4M297.3 751L302.1 749.4M302.1 749.4L306.1 754.3M297.5 754.1L306.1 754.3M298.1 762.1L304.3 757.5M304.3 757.5L306.5 764.4M303.2 729.6L303.3 734.4M300.1 739.6L303.3 734.4M301.6 745.1L307.2 739.4M307.2 739.4L306.9 747.7M302.1 749.4L306.9 747.7M306.9 747.7L311.4 752.8M311.4 752.8L312 758.7M312 758.7L313.9 764.7M308.8 731.1L309.4 734.3M303.3 734.4L309.4 734.3M309.4 734.3L310.3 740.5M307.2 739.4L310.3 740.5M310.3 740.5L312 747.2M306.9 747.7L312 747.2M312 747.2L315.1 750.8M311.4 752.8L315.1 750.8M315.1 750.8L316.9 755.2M312 758.7L316.9 755.2M316.9 755.2L316.6 761.7M314.1 723.2L317.3 729M317.3 729L317.1 734.7M309.4 734.3L317.1 734.7M317.7 739.2L320.6 744.6M312 747.2L320.6 744.6M315.1 750.8L319.2 747.8M319.2 747.8L322.8 754.3M316.9 755.2L322.8 754.3M322.8 754.3L322.4 759.9M322.4 759.9L324.5 765.7M317.3 729L320.6 728.4M320.6 728.4L320.5 733.8M317.1 734.7L320.5 733.8M320.5 733.8L322.8 738M322.8 738L322.3 743.2M320.6 744.6L322.3 743.2M322.3 743.2L327.4 749.3M319.2 747.8L327.4 749.3M327.4 749.3L327.3 753.6M322.8 754.3L327.3 753.6M327.3 753.6L326.5 760.8M322.4 759.9L326.5 760.8M326.5 760.8L329.8 765.9M324.5 765.7L329.8 765.9M329.8 765.9L331.5 769.7M327.3 771.7L331.5 769.7M322.8 738L329.6 736.1M322.3 743.2L331.6 739.6M331.6 739.6L332.8 747.9M327.4 749.3L332.8 747.9M332.8 747.9L330.4 753.5M327.3 753.6L330.4 753.5M330.4 753.5L333.1 759.2M326.5 760.8L333.1 759.2M333.1 759.2L337.5 763.8M329.8 765.9L337.5 763.8M337.5 763.8L336.6 769.4M331.5 769.7L336.6 769.4M331.5 729.9L335.5 735.6M329.6 736.1L335.5 735.6M335.5 735.6L335.1 738.4M331.6 739.6L335.1 738.4M335.1 738.4L337.7 745.7M332.8 747.9L337.7 745.7M337.7 745.7L336.6 752.2M330.4 753.5L336.6 752.2M333.1 759.2L337.9 756.2M337.9 756.2L340.7 763.4M337.5 763.8L340.7 763.4M340.7 763.4L340.1 767.8M336.6 769.4L340.1 767.8M339.7 727.5L337.9 735.9M335.5 735.6L337.9 735.9M337.9 735.9L338.8 738.9M335.1 738.4L338.8 738.9M342.8 745.1L344.9 748M336.6 752.2L344.9 748M344.9 748L345.5 757.1M337.9 756.2L345.5 757.1M340.7 763.4L346.2 761.9M346.2 761.9L347.5 767.3M340.1 767.8L347.5 767.3M342.3 774.1L350.7 770.5M350.7 770.5L351 776.2M345.8 777.1L351 776.2M351 776.2L353.5 783.4M343.7 726.3L342.5 731.9M337.9 735.9L342.5 731.9M342.5 731.9L348.3 737.1M338.8 738.9L348.3 737.1M348.3 737.1L348.3 742.7M342.8 745.1L348.3 742.7M348.3 742.7L347 749.6M344.9 748L347 749.6M345.5 757.1L348.4 752.7M348.4 752.7L352.2 760.2M346.2 761.9L352.2 760.2M347.5 767.3L351.1 767.5M351.1 767.5L351.6 769.4M350.7 770.5L351.6 769.4M351.6 769.4L355.1 777.4M351 776.2L355.1 777.4M355.1 777.4L358.2 782.1M350.7 723L348.8 730.6M348.8 730.6L353.8 737.5M348.3 737.1L353.8 737.5M353.8 737.5L354.6 742.1M348.3 742.7L354.6 742.1M348.4 752.7L354.7 755.1M354.7 755.1L358.6 755.7M352.2 760.2L358.6 755.7M358.6 755.7L359.1 762.2M359.1 762.2L358.2 771.2M355.1 777.4L360.5 773.6M360.5 773.6L362.1 777.9M348.8 730.6L357.8 729M354.6 742.1L357.7 740.3M357.7 740.3L358 745.4M352.3 748.9L358 745.4M358 745.4L361.9 751.1M354.7 755.1L361.9 751.1M361.9 751.1L360 755.7M358.6 755.7L360 755.7M360 755.7L365.1 761.2M359.1 762.2L365.1 761.2M365.1 761.2L366.7 767.9M358.2 771.2L366.7 767.9M366.7 767.9L366.8 772.3M360.5 773.6L366.8 772.3M362.9 737.9L364.5 746.4M358 745.4L364.5 746.4M361.9 751.1L368.5 749M360 755.7L366.7 755M365.1 761.2L370.6 759.4M370.6 759.4L368.8 765.9M366.7 767.9L368.8 765.9M368.8 765.9L369.6 770.7M366.8 772.3L369.6 770.7M364.5 746.4L372.5 742M368.5 749L372 748.4M370.6 759.4L375 759M368.8 765.9L377.2 764.5M369.6 770.7L376.8 772.5" fill="none" stroke="#636363" stroke-width="0.55" stroke-linecap="round"/>
</g>
<polygon points="281.6,731.2 286.8,726 298.9,732.9 309.3,727.7 321.5,729.5 337,731.2 349.2,728.6 354.4,736.4 359.6,743.3 370,748.5 371.7,758.9 370.9,776.3 350.9,776.3 344,772.8 333.6,772.8 326.7,765.9 316.3,760.7 309.3,758.9 299.8,759.8 292,750.3 290.3,739.9" fill="none" stroke="#6a6a6a" stroke-width="0.6"/>
<clipPath id="tc4"><polygon points="323.2,795.3 337,793.6 344,797.1 357.9,802.3 369.1,802.3 370,812.7 361.3,819.6 357.9,828.2 350.9,819.6 344,810.9 337,821.3 326.7,821.3 324.9,810.9 326.7,804"/></clipPath>
<g clip-path="url(#tc4)">
<polygon points="323.2,795.3 337,793.6 344,797.1 357.9,802.3 369.1,802.3 370,812.7 361.3,819.6 357.9,828.2 350.9,819.6 344,810.9 337,821.3 326.7,821.3 324.9,810.9 326.7,804" fill="#a6bddb"/>
<polygon points="319.3,810.4 325.1,807.4 325.3,812.4 321.3,815.2" fill="#f1eef6" stroke="#f1eef6" stroke-width="0.4"/>
<polygon points="321.3,815.2 325.3,812.4 330.7,816.3 323.7,819.9" fill="#f1eef6" stroke="#f1eef6" stroke-width="0.4"/>
<polygon points="323.7,819.9 330.7,816.3 331.4,820.9 327,823" fill="#f1eef6" stroke="#f1eef6" stroke-width="0.4"/>
<polygon points="327,823 331.4,820.9 335.2,824.9 330.8,828.7" fill="#f1eef6" stroke="#f1eef6" stroke-width="0.4"/>
<polygon points="320,798.8 328.3,794 329.6,798.9 321.9,800.6" fill="#d0d1e6" stroke="#d0d1e6" stroke-width="0.4"/>
<polygon points="321.9,800.6 329.6,798.9 331.3,802.2 325.1,807.4" fill="#f1eef6" stroke="#f1eef6" stroke-width="0.4"/>
<polygon points="325.1,807.4 331.3,802.2 332.3,810.2 325.3,812.4" fill="#f1eef6" stroke="#f1eef6" stroke-width="0.4"/>
<polygon points="325.3,812.4 332.3,810.2 335.6,813.9 330.7,816.3" fill="#f1eef6" stroke="#f1eef6" stroke-width="0.4"/>
<polygon points="330.7,816.3 335.6,813.9 338.2,821.3 331.4,820.9" fill="#f1eef6" stroke="#f1eef6" stroke-width="0.4"/>
<polygon points="331.4,820.9 338.2,821.3 337.8,823.6 335.2,824.9" fill="#f1eef6" stroke="#f1eef6" stroke-width="0.4"/>
<polygon points="328.3,794 332.3,791.9 332.6,799.2 329.6,798.9" fill="#d0d1e6" stroke="#d0d1e6" stroke-width="0.4"/>
<polygon points="329.6,798.9 332.6,799.2 336.3,803.3 331.3,802.2" fill="#d0d1e6" stroke="#d0d1e6" stroke-width="0.4"/>
<polygon points="331.3,802.2 336.3,803.3 335.9,807.7 332.3,810.2" fill="#f1eef6" stroke="#f1eef6" stroke-width="0.4"/>
<polygon points="332.3,810.2 335.9,807.7 340.1,811.8 335.6,813.9" fill="#d0d1e6" stroke="#d0d1e6" stroke-width="0.4"/>
<polygon points="335.6,813.9 340.1,811.8 342,817.3 338.2,821.3" fill="#f1eef6" stroke="#f1eef6" stroke-width="0.4"/>
<polygon points="332.3,791.9 336.7,788.1 337.6,793.8 332.6,799.2" fill="#d0d1e6" stroke="#d0d1e6" stroke-width="0.4"/>
<polygon points="332.6,799.2 337.6,793.8 339,801.6 336.3,803.3" fill="#d0d1e6" stroke="#d0d1e6" stroke-width="0.4"/>
<polygon points="336.3,803.3 339,801.6 343.8,804.1 335.9,807.7" fill="#f1eef6" stroke="#f1eef6" stroke-width="0.4"/>
<polygon points="335.9,807.7 343.8,804.1 344.1,810.6 340.1,811.8" fill="#d0d1e6" stroke="#d0d1e6" stroke-width="0.4"/>
<polygon points="337.6,793.8 343.7,791.3 347.3,799.3 339,801.6" fill="#d0d1e6" stroke="#d0d1e6" stroke-width="0.4"/>
<polygon points="339,801.6 347.3,799.3 346.5,804.3 343.8,804.1" fill="#d0d1e6" stroke="#d0d1e6" stroke-width="0.4"/>
<polygon points="343.8,804.1 346.5,804.3 348.3,809.2 344.1,810.6" fill="#d0d1e6" stroke="#d0d1e6" stroke-width="0.4"/>
<polygon points="344.1,810.6 348.3,809.2 352.4,812.5 346.8,814.8" fill="#d0d1e6" stroke="#d0d1e6" stroke-width="0.4"/>
<polygon points="348.3,809.2 351.7,805.4 355.6,810.6 352.4,812.5" fill="#d0d1e6" stroke="#d0d1e6" stroke-width="0.4"/>
<polygon points="358.4,826.1 364.4,825.4 364.3,833.9 360.2,831.3" fill="#74a9cf" stroke="#74a9cf" stroke-width="0.4"/>
<polygon points="351.7,805.4 357.9,803.8 359.6,807.8 355.6,810.6" fill="#74a9cf" stroke="#74a9cf" stroke-width="0.4"/>
<polygon points="357.5,797.9 363.8,795.8 363.1,803.5 357.9,803.8" fill="#74a9cf" stroke="#74a9cf" stroke-width="0.4"/>
<polygon points="357.9,803.8 363.1,803.5 365.4,810.1 359.6,807.8" fill="#74a9cf" stroke="#74a9cf" stroke-width="0.4"/>
<polygon points="363.8,795.8 369.6,795.4 369,799.7 363.1,803.5" fill="#74a9cf" stroke="#74a9cf" stroke-width="0.4"/>
<path d="M325.1 807.4L325.3 812.4M321.3 815.2L325.3 812.4M325.3 812.4L330.7 816.3M323.7 819.9L330.7 816.3M327 823L331.4 820.9M331.4 820.9L335.2 824.9M328.3 794L329.6 798.9M321.9 800.6L329.6 798.9M329.6 798.9L331.3 802.2M325.1 807.4L331.3 802.2M331.3 802.2L332.3 810.2M332.3 810.2L335.6 813.9M331.4 820.9L338.2 821.3M332.3 791.9L332.6 799.2M332.6 799.2L336.3 803.3M331.3 802.2L336.3 803.3M332.3 810.2L335.9 807.7M335.9 807.7L340.1 811.8M335.6 813.9L340.1 811.8M340.1 811.8L342 817.3M332.6 799.2L337.6 793.8M336.3 803.3L339 801.6M339 801.6L343.8 804.1M335.9 807.7L343.8 804.1M343.8 804.1L344.1 810.6M340.1 811.8L344.1 810.6M344.1 810.6L346.8 814.8M343.7 791.3L347.3 799.3M339 801.6L347.3 799.3M347.3 799.3L346.5 804.3M346.5 804.3L348.3 809.2M348.3 809.2L352.4 812.5M346.8 814.8L352.4 812.5M348.6 822.3L353.1 816.9M353.1 816.9L357.5 823.4M357.5 823.4L358.4 826.1M355 832.1L358.4 826.1M358.4 826.1L360.2 831.3M351.8 796.5L350.4 802M346.5 804.3L350.4 802M350.4 802L351.7 805.4M348.3 809.2L351.7 805.4M351.7 805.4L355.6 810.6M352.4 812.5L355.6 810.6M355.6 810.6L357 817.1M357 817.1L362.6 822.7M358.4 826.1L364.4 825.4M350.4 802L357.5 797.9M357.5 797.9L357.9 803.8M351.7 805.4L357.9 803.8M357.9 803.8L359.6 807.8M355.6 810.6L359.6 807.8M364.9 814.6L365.6 821.3M363.8 795.8L363.1 803.5M357.9 803.8L363.1 803.5M363.1 803.5L365.4 810.1M359.6 807.8L365.4 810.1M365.4 810.1L367.7 812.3M364.9 814.6L367.7 812.3M363.1 803.5L369 799.7M365.4 810.1L373 804.5M367.7 812.3L374.4 809.3" fill="none" stroke="#636363" stroke-width="0.55" stroke-linecap="round"/>
</g>
<polygon points="323.2,795.3 337,793.6 344,797.1 357.9,802.3 369.1,802.3 370,812.7 361.3,819.6 357.9,828.2 350.9,819.6 344,810.9 337,821.3 326.7,821.3 324.9,810.9 326.7,804" fill="none" stroke="#6a6a6a" stroke-width="0.6"/>
<clipPath id="tc5"><polygon points="369.1,802.3 371.7,812.7 378.6,810.9 387.3,805.7 396,802.3 401.2,802.3 404.6,805.7 416.8,802.3 422,799.7 426.3,804 425.4,807.5 418.5,810.9 418.5,817.9 411.6,821.3 404.6,829.1 397.7,828.2 392.5,823 382.1,828.2 373.4,830 368.2,824.8 361.3,828.2 357.9,828.2 361.3,819.6 370,812.7"/></clipPath>
<g clip-path="url(#tc5)">
<polygon points="369.1,802.3 371.7,812.7 378.6,810.9 387.3,805.7 396,802.3 401.2,802.3 404.6,805.7 416.8,802.3 422,799.7 426.3,804 425.4,807.5 418.5,810.9 418.5,817.9 411.6,821.3 404.6,829.1 397.7,828.2 392.5,823 382.1,828.2 373.4,830 368.2,824.8 361.3,828.2 357.9,828.2 361.3,819.6 370,812.7" fill="#a6bddb"/>
<polygon points="371.2,810 373.7,814.7 369.3,819.7 364.2,817.3" fill="#74a9cf" stroke="#74a9cf" stroke-width="0.4"/>
<polygon points="373.7,814.7 378.8,818.2 377.3,820.9 369.3,819.7" fill="#74a9cf" stroke="#74a9cf" stroke-width="0.4"/>
<polygon points="369.3,819.7 377.3,820.9 371.8,827.8 368.7,822.1" fill="#74a9cf" stroke="#74a9cf" stroke-width="0.4"/>
<polygon points="368.7,822.1 371.8,827.8 369.9,831.5 366.5,831" fill="#74a9cf" stroke="#74a9cf" stroke-width="0.4"/>
<polygon points="385.7,802.6 393.4,803 388.1,809.2 384.2,806.3" fill="#74a9cf" stroke="#74a9cf" stroke-width="0.4"/>
<polygon points="381.6,810.9 387.6,814.7 382.9,819.8 378.8,818.2" fill="#74a9cf" stroke="#74a9cf" stroke-width="0.4"/>
<polygon points="371.8,827.8 378.1,830.1 373.3,833.7 369.9,831.5" fill="#74a9cf" stroke="#74a9cf" stroke-width="0.4"/>
<polygon points="393.4,803 396.4,804 395.2,811.7 388.1,809.2" fill="#74a9cf" stroke="#74a9cf" stroke-width="0.4"/>
<polygon points="396.4,804 399.3,808.9 399.4,816.5 395.2,811.7" fill="#74a9cf" stroke="#74a9cf" stroke-width="0.4"/>
<polygon points="399.3,808.9 406.4,812.6 404.5,814.9 399.4,816.5" fill="#74a9cf" stroke="#74a9cf" stroke-width="0.4"/>
<polygon points="399.4,816.5 404.5,814.9 401.6,823.8 396.9,820.9" fill="#74a9cf" stroke="#74a9cf" stroke-width="0.4"/>
<polygon points="396.9,820.9 401.6,823.8 396.9,824.7 394,823.9" fill="#74a9cf" stroke="#74a9cf" stroke-width="0.4"/>
<polygon points="394,823.9 396.9,824.7 395.3,828.9 388.6,829" fill="#74a9cf" stroke="#74a9cf" stroke-width="0.4"/>
<polygon points="412.7,796.4 416.3,799.4 415.2,803.5 411.7,800.8" fill="#74a9cf" stroke="#74a9cf" stroke-width="0.4"/>
<polygon points="404.5,814.9 409.5,817.4 404.3,823.8 401.6,823.8" fill="#74a9cf" stroke="#74a9cf" stroke-width="0.4"/>
<polygon points="401.6,823.8 404.3,823.8 402.9,828.8 396.9,824.7" fill="#74a9cf" stroke="#74a9cf" stroke-width="0.4"/>
<polygon points="396.9,824.7 402.9,828.8 402,835.1 395.3,828.9" fill="#74a9cf" stroke="#74a9cf" stroke-width="0.4"/>
<polygon points="416.3,799.4 424.4,801.2 422.9,804.5 415.2,803.5" fill="#74a9cf" stroke="#74a9cf" stroke-width="0.4"/>
<polygon points="415.2,803.5 422.9,804.5 419.3,812.3 414.4,808.9" fill="#74a9cf" stroke="#74a9cf" stroke-width="0.4"/>
<polygon points="409.5,817.4 414.2,824.1 411.1,825.3 404.3,823.8" fill="#74a9cf" stroke="#74a9cf" stroke-width="0.4"/>
<polygon points="424.4,801.2 427.2,802.3 426.1,808.7 422.9,804.5" fill="#74a9cf" stroke="#74a9cf" stroke-width="0.4"/>
<polygon points="422.9,804.5 426.1,808.7 423,813.6 419.3,812.3" fill="#74a9cf" stroke="#74a9cf" stroke-width="0.4"/>
<polygon points="419.3,812.3 423,813.6 419.1,820.1 417.7,815.1" fill="#74a9cf" stroke="#74a9cf" stroke-width="0.4"/>
<path d="M371.2 810L364.2 817.3M359.5 817.6L361.5 821M362.6 827.5L359.1 829M371.2 810L373.7 814.7M373.7 814.7L369.3 819.7M364.2 817.3L369.3 819.7M369.3 819.7L368.7 822.1M368.7 822.1L366.5 831M384.2 806.3L381.6 810.9M375.5 809.2L381.6 810.9M381.6 810.9L378.8 818.2M373.7 814.7L378.8 818.2M378.8 818.2L377.3 820.9M377.3 820.9L371.8 827.8M368.7 822.1L371.8 827.8M371.8 827.8L369.9 831.5M384.2 806.3L388.1 809.2M381.6 810.9L387.6 814.7M387.6 814.7L382.9 819.8M378.8 818.2L382.9 819.8M382.9 819.8L381.6 825.1M377.3 820.9L381.6 825.1M381.6 825.1L378.1 830.1M371.8 827.8L378.1 830.1M391.6 799.2L399.5 802.3M393.4 803L396.4 804M396.4 804L395.2 811.7M388.1 809.2L395.2 811.7M387.6 814.7L389 815.8M381.6 825.1L385.6 827.6M406.3 799.7L403.6 803.1M403.6 803.1L399.3 808.9M396.4 804L399.3 808.9M399.3 808.9L399.4 816.5M395.2 811.7L399.4 816.5M399.4 816.5L396.9 820.9M389 815.8L396.9 820.9M396.9 820.9L394 823.9M386.6 819.6L394 823.9M394 823.9L388.6 829M403.6 803.1L409.8 807.7M399.3 808.9L406.4 812.6M406.4 812.6L404.5 814.9M399.4 816.5L404.5 814.9M401.6 823.8L396.9 824.7M394 823.9L396.9 824.7M396.9 824.7L395.3 828.9M416.3 799.4L415.2 803.5M411.7 800.8L415.2 803.5M415.2 803.5L414.4 808.9M409.8 807.7L414.4 808.9M406.4 812.6L412.6 815.3M412.6 815.3L409.5 817.4M404.5 814.9L409.5 817.4M401.6 823.8L404.3 823.8M404.3 823.8L402.9 828.8M396.9 824.7L402.9 828.8M402.9 828.8L402 835.1M424.4 801.2L422.9 804.5M415.2 803.5L422.9 804.5M422.9 804.5L419.3 812.3M414.4 808.9L419.3 812.3M419.3 812.3L417.7 815.1M417.7 815.1L414.2 824.1M409.5 817.4L414.2 824.1M404.3 823.8L411.1 825.3M422.9 804.5L426.1 808.7M417.7 815.1L419.1 820.1" fill="none" stroke="#636363" stroke-width="0.55" stroke-linecap="round"/>
</g>
<polygon points="369.1,802.3 371.7,812.7 378.6,810.9 387.3,805.7 396,802.3 401.2,802.3 404.6,805.7 416.8,802.3 422,799.7 426.3,804 425.4,807.5 418.5,810.9 418.5,817.9 411.6,821.3 404.6,829.1 397.7,828.2 392.5,823 382.1,828.2 373.4,830 368.2,824.8 361.3,828.2 357.9,828.2 361.3,819.6 370,812.7" fill="none" stroke="#6a6a6a" stroke-width="0.6"/>
<clipPath id="tc6"><polygon points="349.2,838.6 357.9,835.2 373.4,833.4 374.3,843.8 370,849 375.2,856 373.4,863.8 368.2,859.4 361.3,856.8 357.9,852.5 353.5,843.8"/></clipPath>
<g clip-path="url(#tc6)">
<polygon points="349.2,838.6 357.9,835.2 373.4,833.4 374.3,843.8 370,849 375.2,856 373.4,863.8 368.2,859.4 361.3,856.8 357.9,852.5 353.5,843.8" fill="#a6bddb"/>
<path d="M357.8 836.2L362.6 842.5M352.5 843.4L362.6 842.5M362.6 842.5L363.9 848.6M363.9 848.6L360.7 851.4M354.8 856.5L360.7 851.4M360.7 851.4L364.5 860.6M367.5 825.4L364.4 832.3M357.8 836.2L364.4 832.3M364.4 832.3L366 840.6M362.6 842.5L366 840.6M367.3 843L367.3 849.9M367.3 849.9L372.5 857.6M364.5 860.6L372.5 857.6M372.5 857.6L372.6 865.1M372.1 827.7L371.4 834.5M371.4 834.5L372.4 840.5M366 840.6L372.4 840.5M372.4 840.5L373.2 845.3M367.3 843L373.2 845.3M367.3 849.9L376.6 853.5M372.5 857.6L376.3 859.4" fill="none" stroke="#636363" stroke-width="0.55" stroke-linecap="round"/>
</g>
<polygon points="349.2,838.6 357.9,835.2 373.4,833.4 374.3,843.8 370,849 375.2,856 373.4,863.8 368.2,859.4 361.3,856.8 357.9,852.5 353.5,843.8" fill="none" stroke="#6a6a6a" stroke-width="0.6"/>
<clipPath id="tc7"><polygon points="912,306.2 927,305 932,297.5 938.2,292.5 947,297.5 960.8,303.8 963.2,316.2 957,320 942,322.5 929.5,327.5 912,322.5 904.5,320 907,312.5"/></clipPath>
<g clip-path="url(#tc7)">
<polygon points="912,306.2 927,305 932,297.5 938.2,292.5 947,297.5 960.8,303.8 963.2,316.2 957,320 942,322.5 929.5,327.5 912,322.5 904.5,320 907,312.5" fill="#a6bddb"/>
<polygon points="909.8,311.4 913.3,311.9 914.4,318.2 909.7,317" fill="#f1eef6" stroke="#f1eef6" stroke-width="0.4"/>
<polygon points="925.3,296.5 930.5,298.3 929,304.4 923.6,302.3" fill="#f1eef6" stroke="#f1eef6" stroke-width="0.4"/>
<polygon points="924.5,311.1 930,313.2 931.8,319.3 925.5,316.4" fill="#d0d1e6" stroke="#d0d1e6" stroke-width="0.4"/>
<polygon points="925.5,316.4 931.8,319.3 929,325.6 925.8,323.5" fill="#d0d1e6" stroke="#d0d1e6" stroke-width="0.4"/>
<polygon points="931.8,319.3 937.3,319.5 934.4,324.2 929,325.6" fill="#d0d1e6" stroke="#d0d1e6" stroke-width="0.4"/>
<polygon points="937.3,319.5 942.9,317 938.8,323.7 934.4,324.2" fill="#d0d1e6" stroke="#d0d1e6" stroke-width="0.4"/>
<polygon points="942.9,317 944.6,317.8 945.5,322.1 938.8,323.7" fill="#d0d1e6" stroke="#d0d1e6" stroke-width="0.4"/>
<polygon points="938.8,323.7 945.5,322.1 947.1,328.7 939.6,329.7" fill="#f1eef6" stroke="#f1eef6" stroke-width="0.4"/>
<polygon points="944.2,306.8 951.9,307.2 949.6,311.5 947.9,313.9" fill="#f1eef6" stroke="#f1eef6" stroke-width="0.4"/>
<polygon points="944.6,317.8 949.2,317.8 951.9,325.5 945.5,322.1" fill="#d0d1e6" stroke="#d0d1e6" stroke-width="0.4"/>
<polygon points="951.9,307.2 958.4,306.5 954.3,313.2 949.6,311.5" fill="#f1eef6" stroke="#f1eef6" stroke-width="0.4"/>
<polygon points="949.2,317.8 957,318.6 955.3,322.9 951.9,325.5" fill="#f1eef6" stroke="#f1eef6" stroke-width="0.4"/>
<polygon points="954.7,296.6 963.3,297.3 960.4,303.5 956.7,304.4" fill="#f1eef6" stroke="#f1eef6" stroke-width="0.4"/>
<polygon points="954.3,313.2 960,311.9 960.9,318.3 957,318.6" fill="#d0d1e6" stroke="#d0d1e6" stroke-width="0.4"/>
<polygon points="957,318.6 960.9,318.3 960.2,322.9 955.3,322.9" fill="#f1eef6" stroke="#f1eef6" stroke-width="0.4"/>
<polygon points="960.4,303.5 966.3,304.7 968.7,310.4 960.5,306.6" fill="#f1eef6" stroke="#f1eef6" stroke-width="0.4"/>
<polygon points="960.5,306.6 968.7,310.4 968.7,313.3 960,311.9" fill="#f1eef6" stroke="#f1eef6" stroke-width="0.4"/>
<polygon points="960,311.9 968.7,313.3 965.5,319 960.9,318.3" fill="#d0d1e6" stroke="#d0d1e6" stroke-width="0.4"/>
<path d="M909.5 305.6L909.8 311.4M904.2 312.4L909.8 311.4M909.8 311.4L909.7 317M909.7 317L908.7 323.3M909.8 311.4L913.3 311.9M913.3 311.9L914.4 318.2M909.7 317L914.4 318.2M914.4 318.2L914.1 323.4M918.5 307.7L919.7 314.7M913.3 311.9L919.7 314.7M919.7 314.7L919.4 316.7M914.1 323.4L921.7 321.6M921.7 321.6L919 329.7M919.7 314.7L924.5 311.1M924.5 311.1L925.5 316.4M919.4 316.7L925.5 316.4M925.5 316.4L925.8 323.5M921.7 321.6L925.8 323.5M925.8 323.5L924.6 327.6M930.5 298.3L929 304.4M923.6 302.3L929 304.4M927.2 306.7L931.7 306.9M924.5 311.1L930 313.2M930 313.2L931.8 319.3M925.5 316.4L931.8 319.3M931.8 319.3L929 325.6M925.8 323.5L929 325.6M929 325.6L931.9 330.4M936.6 291.5L935.2 297.2M935.2 297.2L934.8 303.2M934.8 303.2L937 306.1M931.8 319.3L937.3 319.5M929 325.6L934.4 324.2M934.4 324.2L937 330.9M939.3 292.1L939.4 298.9M935.2 297.2L939.4 298.9M939.4 298.9L939.5 301.7M939.5 301.7L942.3 306.3M937 306.1L942.3 306.3M942.3 306.3L942.5 312.5M935.8 313.5L942.5 312.5M942.5 312.5L942.9 317M937.3 319.5L942.9 317M934.4 324.2L938.8 323.7M938.8 323.7L939.6 329.7M947.5 293.2L947.1 299.1M939.4 298.9L947.1 299.1M939.5 301.7L944.4 302.4M944.4 302.4L944.2 306.8M942.3 306.3L944.2 306.8M944.2 306.8L947.9 313.9M942.5 312.5L947.9 313.9M942.9 317L944.6 317.8M944.6 317.8L945.5 322.1M938.8 323.7L945.5 322.1M947.1 299.1L951.7 296.8M944.2 306.8L951.9 307.2M951.9 307.2L949.6 311.5M947.9 313.9L949.6 311.5M944.6 317.8L949.2 317.8M949.2 317.8L951.9 325.5M954.7 296.6L956.7 304.4M956.7 304.4L958.4 306.5M951.9 307.2L958.4 306.5M958.4 306.5L954.3 313.2M949.6 311.5L954.3 313.2M954.3 313.2L957 318.6M949.2 317.8L957 318.6M956.7 304.4L960.4 303.5M960.4 303.5L960.5 306.6M958.4 306.5L960.5 306.6M960.5 306.6L960 311.9M954.3 313.2L960 311.9M960 311.9L960.9 318.3M957 318.6L960.9 318.3M960 311.9L968.7 313.3" fill="none" stroke="#636363" stroke-width="0.55" stroke-linecap="round"/>
</g>
<polygon points="912,306.2 927,305 932,297.5 938.2,292.5 947,297.5 960.8,303.8 963.2,316.2 957,320 942,322.5 929.5,327.5 912,322.5 904.5,320 907,312.5" fill="none" stroke="#6a6a6a" stroke-width="0.6"/>
<clipPath id="tc8"><polygon points="428.5,590 438.5,586.2 446,590 447.2,595 442.2,600 437.2,607.5 432.2,602.5 428.5,595"/></clipPath>
<g clip-path="url(#tc8)">
<polygon points="428.5,590 438.5,586.2 446,590 447.2,595 442.2,600 437.2,607.5 432.2,602.5 428.5,595" fill="#f1eef6"/>
<polygon points="423.7,586.2 427.2,585.5 431.3,589.2 424,589.6" fill="#a6bddb" stroke="#a6bddb" stroke-width="0.4"/>
<polygon points="424,589.6 431.3,589.2 432.1,590.7 427.8,595" fill="#d0d1e6" stroke="#d0d1e6" stroke-width="0.4"/>
<polygon points="427.8,595 432.1,590.7 433.4,594.4 428.9,597.1" fill="#d0d1e6" stroke="#d0d1e6" stroke-width="0.4"/>
<polygon points="428.9,597.1 433.4,594.4 433.2,600.6 429.3,601.8" fill="#a6bddb" stroke="#a6bddb" stroke-width="0.4"/>
<polygon points="432.3,607 435.4,604.2 437.9,608.8 431,611.6" fill="#d0d1e6" stroke="#d0d1e6" stroke-width="0.4"/>
<polygon points="427.2,585.5 432.2,581.3 432.6,588.2 431.3,589.2" fill="#a6bddb" stroke="#a6bddb" stroke-width="0.4"/>
<polygon points="431.3,589.2 432.6,588.2 434.2,589.5 432.1,590.7" fill="#a6bddb" stroke="#a6bddb" stroke-width="0.4"/>
<polygon points="432.1,590.7 434.2,589.5 436.5,596.5 433.4,594.4" fill="#d0d1e6" stroke="#d0d1e6" stroke-width="0.4"/>
<polygon points="432.6,588.2 437.7,586.9 439.6,587.7 434.2,589.5" fill="#d0d1e6" stroke="#d0d1e6" stroke-width="0.4"/>
<polygon points="434.2,589.5 439.6,587.7 440.1,592.8 436.5,596.5" fill="#d0d1e6" stroke="#d0d1e6" stroke-width="0.4"/>
<polygon points="436.5,596.5 440.1,592.8 440.4,598.8 437.3,598.2" fill="#d0d1e6" stroke="#d0d1e6" stroke-width="0.4"/>
<polygon points="441.3,586.2 444.7,582.5 448.1,585.7 443.3,589.7" fill="#d0d1e6" stroke="#d0d1e6" stroke-width="0.4"/>
<polygon points="443.3,589.7 448.1,585.7 448,590.8 445.1,590.8" fill="#d0d1e6" stroke="#d0d1e6" stroke-width="0.4"/>
<path d="M427.2 585.5L431.3 589.2M424 589.6L431.3 589.2M431.3 589.2L432.1 590.7M427.8 595L432.1 590.7M432.1 590.7L433.4 594.4M428.9 597.1L433.4 594.4M433.4 594.4L433.2 600.6M429.3 601.8L433.2 600.6M432.3 607L435.4 604.2M435.4 604.2L437.9 608.8M432.2 581.3L432.6 588.2M431.3 589.2L432.6 588.2M432.6 588.2L434.2 589.5M432.1 590.7L434.2 589.5M433.4 594.4L436.5 596.5M436.5 596.5L437.3 598.2M435.4 604.2L437.7 603.4M437.6 580.3L437.7 586.9M432.6 588.2L437.7 586.9M437.7 586.9L439.6 587.7M439.6 587.7L440.1 592.8M436.5 596.5L440.1 592.8M440.1 592.8L440.4 598.8M437.3 598.2L440.4 598.8M440.4 598.8L442.5 600.7M437.7 603.4L442.5 600.7M437.7 586.9L441.3 586.2M441.3 586.2L443.3 589.7M439.6 587.7L443.3 589.7M443.3 589.7L445.1 590.8M440.1 592.8L445.1 590.8M445.1 590.8L444.9 596.3M440.4 598.8L444.9 596.3M444.9 596.3L446.3 602.1M443.3 589.7L448.1 585.7M445.1 590.8L448 590.8" fill="none" stroke="#636363" stroke-width="0.55" stroke-linecap="round"/>
</g>
<polygon points="428.5,590 438.5,586.2 446,590 447.2,595 442.2,600 437.2,607.5 432.2,602.5 428.5,595" fill="none" stroke="#6a6a6a" stroke-width="0.6"/>
<clipPath id="tc9"><polygon points="441,631.2 456,630 466,640 468.5,660 456,665 446,652.5"/></clipPath>
<g clip-path="url(#tc9)">
<polygon points="441,631.2 456,630 466,640 468.5,660 456,665 446,652.5" fill="#a6bddb"/>
<path d="M442.3 626.8L442.6 632.5M442.6 632.5L442.9 638.2M438.5 639L442.9 638.2M450.2 628.2L449.9 635.3M442.6 632.5L449.9 635.3M449.9 635.3L446.8 638.8M442.9 638.2L446.8 638.8M446.8 638.8L449 644.1M440.6 642.9L449 644.1M442.7 649.4L445.8 649.5M454.6 624.6L453 630.6M450.2 628.2L453 630.6M453 630.6L454.2 633.2M449.9 635.3L454.2 633.2M446.8 638.8L453.6 642.9M453.6 642.9L453 647.8M449 644.1L453 647.8M453 647.8L453.4 650.8M445.8 649.5L453.4 650.8M453.4 650.8L450 657.9M453 630.6L458.9 628.3M458.9 628.3L460.9 637.3M454.2 633.2L460.9 637.3M460.9 637.3L457.3 643.6M457.3 643.6L456.9 645.2M453 647.8L456.9 645.2M456.9 645.2L459.1 650.8M453.4 650.8L459.1 650.8M455.3 656.3L455.4 663.3M455.4 663.3L452.5 669M460.9 637.3L466.3 635.4M466.3 635.4L466.2 641.8M457.3 643.6L466.2 641.8M466.2 641.8L461.5 647.6M455.3 656.3L460.9 661M460.9 661L460.4 663.5M466.2 641.8L471 644.6M471 644.6L467.2 650M461.5 647.6L467.2 650M467.2 650L469.4 654.2M460.9 661L467.2 658M467.2 658L463.6 666.5M467.2 650L472.4 648.6M469.4 654.2L472.1 655.3" fill="none" stroke="#636363" stroke-width="0.55" stroke-linecap="round"/>
</g>
<polygon points="441,631.2 456,630 466,640 468.5,660 456,665 446,652.5" fill="none" stroke="#6a6a6a" stroke-width="0.6"/>
<clipPath id="tc10"><polygon points="403.5,672.5 421,665 431,675 421,690 408.5,697.5 396,715 391,707.5 398.5,690"/></clipPath>
<g clip-path="url(#tc10)">
<polygon points="403.5,672.5 421,665 431,675 421,690 408.5,697.5 396,715 391,707.5 398.5,690" fill="#a6bddb"/>
<path d="M405.9 667.5L409.2 670.3M409.2 670.3L407.7 674.3M402.9 672.6L407.7 674.3M401.4 687L399.9 691.8M393.8 691.2L399.9 691.8M399.9 691.8L398.1 700.5M390.2 697.8L398.1 700.5M387.9 702.7L396.5 702.5M419.9 664.8L413.5 670.3M409.2 670.3L413.5 670.3M413.5 670.3L414.2 673.8M407.7 674.3L414.2 673.8M414.2 673.8L412 683.1M407.3 679.1L412 683.1M412 683.1L410 684.2M410 684.2L404.9 691.8M399.9 691.8L405.5 696.1M405.5 696.1L405.1 699.9M398.1 700.5L405.1 699.9M396.5 702.5L400.5 707.8M400.5 707.8L400.2 710M413.5 670.3L419.7 672.7M414.2 673.8L418.2 679.9M418.2 679.9L418.8 681.9M412 683.1L418.8 681.9M416.5 686.6L411.7 694.4M405.5 696.1L408.8 696.4M405.1 699.9L405.8 702.2M400.5 707.8L407.7 706.7M418.2 679.9L425.2 681.6M425.2 681.6L421.1 684M418.8 681.9L421.1 684M421.1 684L417.9 691.1M416.5 686.6L417.9 691.1M417.9 691.1L417.8 693.8M411.7 694.4L417.8 693.8M408.8 696.4L415.7 702.5M421.1 684L426.3 687.1M417.9 691.1L424.2 690" fill="none" stroke="#636363" stroke-width="0.55" stroke-linecap="round"/>
</g>
<polygon points="403.5,672.5 421,665 431,675 421,690 408.5,697.5 396,715 391,707.5 398.5,690" fill="none" stroke="#6a6a6a" stroke-width="0.6"/>
<clipPath id="tc11"><polygon points="369.8,635 381,630 397.2,626.2 397.2,640 388.5,650 376,652.5 371,645"/></clipPath>
<g clip-path="url(#tc11)">
<polygon points="369.8,635 381,630 397.2,626.2 397.2,640 388.5,650 376,652.5 371,645" fill="#a6bddb"/>
<polygon points="363.8,638.5 366.2,637.1 370.3,637.8 363,641.3" fill="#d0d1e6" stroke="#d0d1e6" stroke-width="0.4"/>
<polygon points="363,641.3 370.3,637.8 371.3,644.9 365.6,646" fill="#f1eef6" stroke="#f1eef6" stroke-width="0.4"/>
<polygon points="365.8,632.7 371.4,629.8 370.7,635.6 366.2,637.1" fill="#d0d1e6" stroke="#d0d1e6" stroke-width="0.4"/>
<polygon points="366.2,637.1 370.7,635.6 375.3,639.1 370.3,637.8" fill="#d0d1e6" stroke="#d0d1e6" stroke-width="0.4"/>
<polygon points="370.3,637.8 375.3,639.1 375.6,640.8 371.3,644.9" fill="#f1eef6" stroke="#f1eef6" stroke-width="0.4"/>
<polygon points="371.3,644.9 375.6,640.8 375.9,645.8 373.7,648.7" fill="#f1eef6" stroke="#f1eef6" stroke-width="0.4"/>
<polygon points="373.7,648.7 375.9,645.8 378.7,650.1 372.8,653.1" fill="#d0d1e6" stroke="#d0d1e6" stroke-width="0.4"/>
<polygon points="372.8,653.1 378.7,650.1 380.1,654.8 377.5,658.4" fill="#f1eef6" stroke="#f1eef6" stroke-width="0.4"/>
<polygon points="371.4,629.8 375.7,628.3 376.1,631.1 370.7,635.6" fill="#d0d1e6" stroke="#d0d1e6" stroke-width="0.4"/>
<polygon points="370.7,635.6 376.1,631.1 379.7,638.4 375.3,639.1" fill="#d0d1e6" stroke="#d0d1e6" stroke-width="0.4"/>
<polygon points="375.3,639.1 379.7,638.4 378.7,641 375.6,640.8" fill="#f1eef6" stroke="#f1eef6" stroke-width="0.4"/>
<polygon points="375.6,640.8 378.7,641 382.3,643.7 375.9,645.8" fill="#d0d1e6" stroke="#d0d1e6" stroke-width="0.4"/>
<polygon points="375.9,645.8 382.3,643.7 380.4,649.1 378.7,650.1" fill="#d0d1e6" stroke="#d0d1e6" stroke-width="0.4"/>
<polygon points="375.7,628.3 378.2,626.8 380.9,631.7 376.1,631.1" fill="#f1eef6" stroke="#f1eef6" stroke-width="0.4"/>
<polygon points="376.1,631.1 380.9,631.7 383.5,633.5 379.7,638.4" fill="#d0d1e6" stroke="#d0d1e6" stroke-width="0.4"/>
<polygon points="378.2,626.8 381.8,625.2 387.1,630.1 380.9,631.7" fill="#f1eef6" stroke="#f1eef6" stroke-width="0.4"/>
<polygon points="380.9,631.7 387.1,630.1 386,632.7 383.5,633.5" fill="#d0d1e6" stroke="#d0d1e6" stroke-width="0.4"/>
<polygon points="388,648.7 391.9,647.6 392.4,653.4 389.5,653.2" fill="#d0d1e6" stroke="#d0d1e6" stroke-width="0.4"/>
<polygon points="381.8,625.2 386.7,623 390.6,625.9 387.1,630.1" fill="#f1eef6" stroke="#f1eef6" stroke-width="0.4"/>
<polygon points="387.1,630.1 390.6,625.9 392.7,633.8 386,632.7" fill="#f1eef6" stroke="#f1eef6" stroke-width="0.4"/>
<polygon points="390.6,625.9 394.6,624.5 395.1,629.4 392.7,633.8" fill="#f1eef6" stroke="#f1eef6" stroke-width="0.4"/>
<polygon points="392.6,634.9 398.6,635.8 398.9,638.3 393.4,639.6" fill="#d0d1e6" stroke="#d0d1e6" stroke-width="0.4"/>
<polygon points="393.4,639.6 398.9,638.3 398.7,645.8 396.2,646.2" fill="#f1eef6" stroke="#f1eef6" stroke-width="0.4"/>
<polygon points="394.6,624.5 398.3,623.8 398.8,631.6 395.1,629.4" fill="#f1eef6" stroke="#f1eef6" stroke-width="0.4"/>
<path d="M366.2 637.1L370.3 637.8M363 641.3L370.3 637.8M365.6 646L371.3 644.9M371.3 644.9L373.7 648.7M366.2 649.2L373.7 648.7M373.7 648.7L372.8 653.1M370.3 637.8L375.3 639.1M375.3 639.1L375.6 640.8M371.3 644.9L375.6 640.8M375.6 640.8L375.9 645.8M373.7 648.7L375.9 645.8M375.9 645.8L378.7 650.1M372.8 653.1L378.7 650.1M378.7 650.1L380.1 654.8M375.7 628.3L376.1 631.1M375.3 639.1L379.7 638.4M379.7 638.4L378.7 641M375.6 640.8L378.7 641M378.7 641L382.3 643.7M375.9 645.8L382.3 643.7M382.3 643.7L380.4 649.1M378.7 650.1L380.4 649.1M378.2 626.8L380.9 631.7M376.1 631.1L380.9 631.7M380.9 631.7L383.5 633.5M379.7 638.4L383.5 633.5M383.5 633.5L383.7 639.9M378.7 641L383.7 639.9M386.6 645.4L388 648.7M380.4 649.1L388 648.7M388 648.7L389.5 653.2M381.8 625.2L387.1 630.1M380.9 631.7L387.1 630.1M387.1 630.1L386 632.7M383.5 633.5L386 632.7M383.7 639.9L390.1 638.6M390.1 638.6L388.4 642.5M386.6 645.4L388.4 642.5M388 648.7L391.9 647.6M387.1 630.1L390.6 625.9M386 632.7L392.7 633.8M390.1 638.6L392.6 634.9M392.6 634.9L393.4 639.6M388.4 642.5L393.4 639.6M393.4 639.6L396.2 646.2M394.6 624.5L395.1 629.4M392.7 633.8L395.1 629.4M395.1 629.4L398.6 635.8M392.6 634.9L398.6 635.8M393.4 639.6L398.9 638.3M395.1 629.4L398.8 631.6" fill="none" stroke="#636363" stroke-width="0.55" stroke-linecap="round"/>
</g>
<polygon points="369.8,635 381,630 397.2,626.2 397.2,640 388.5,650 376,652.5 371,645" fill="none" stroke="#6a6a6a" stroke-width="0.6"/>
<clipPath id="tc12"><polygon points="494.8,620 501,616.2 506,620 511,630 518.5,633.8 516,637.5 506,640 501,647.5 496,640 498.5,632.5"/></clipPath>
<g clip-path="url(#tc12)">
<polygon points="494.8,620 501,616.2 506,620 511,630 518.5,633.8 516,637.5 506,640 501,647.5 496,640 498.5,632.5" fill="#a6bddb"/>
<polygon points="496.1,619.6 499.9,620.1 496.1,626.4 490.9,622" fill="#f1eef6" stroke="#f1eef6" stroke-width="0.4"/>
<polygon points="499.9,620.1 502.7,624.5 501.1,630.6 496.1,626.4" fill="#f1eef6" stroke="#f1eef6" stroke-width="0.4"/>
<polygon points="502.7,624.5 508.4,628.3 504.7,630.7 501.1,630.6" fill="#f1eef6" stroke="#f1eef6" stroke-width="0.4"/>
<polygon points="501.1,630.6 504.7,630.7 504.3,634.7 497.6,631.8" fill="#f1eef6" stroke="#f1eef6" stroke-width="0.4"/>
<polygon points="497.6,631.8 504.3,634.7 501.8,642 497.3,638.9" fill="#f1eef6" stroke="#f1eef6" stroke-width="0.4"/>
<polygon points="508.5,620.9 514.8,626.1 512.4,626.2 508.4,628.3" fill="#f1eef6" stroke="#f1eef6" stroke-width="0.4"/>
<polygon points="508.4,628.3 512.4,626.2 511.4,633.6 504.7,630.7" fill="#f1eef6" stroke="#f1eef6" stroke-width="0.4"/>
<polygon points="504.7,630.7 511.4,633.6 507.2,635.2 504.3,634.7" fill="#f1eef6" stroke="#f1eef6" stroke-width="0.4"/>
<polygon points="504.3,634.7 507.2,635.2 504.7,640.4 501.8,642" fill="#f1eef6" stroke="#f1eef6" stroke-width="0.4"/>
<polygon points="512.4,626.2 515.8,631.3 513.2,634.2 511.4,633.6" fill="#f1eef6" stroke="#f1eef6" stroke-width="0.4"/>
<polygon points="511.4,633.6 513.2,634.2 512.3,640.1 507.2,635.2" fill="#f1eef6" stroke="#f1eef6" stroke-width="0.4"/>
<polygon points="507.2,635.2 512.3,640.1 507.2,644.5 504.7,640.4" fill="#f1eef6" stroke="#f1eef6" stroke-width="0.4"/>
<polygon points="513.2,634.2 520.4,638.3 515.7,640.7 512.3,640.1" fill="#f1eef6" stroke="#f1eef6" stroke-width="0.4"/>
<path d="M496.2 612.7L496.1 619.6M490.4 618.2L496.1 619.6M496.1 619.6L490.9 622M501 612.4L498.7 617.9M498.7 617.9L499.9 620.1M496.1 619.6L499.9 620.1M499.9 620.1L496.1 626.4M498.7 617.9L503.3 619.9M503.3 619.9L502.7 624.5M499.9 620.1L502.7 624.5M502.7 624.5L501.1 630.6M496.1 626.4L501.1 630.6M501.1 630.6L497.6 631.8M492.4 629.6L497.6 631.8M497.6 631.8L497.3 638.9M508.5 620.9L508.4 628.3M502.7 624.5L508.4 628.3M508.4 628.3L504.7 630.7M504.7 630.7L504.3 634.7M504.3 634.7L501.8 642M497.3 638.9L501.8 642M501.8 642L498.8 645.8M508.4 628.3L512.4 626.2M512.4 626.2L511.4 633.6M511.4 633.6L507.2 635.2M501.8 642L504.7 640.4M502.6 643.7L502.2 652.7M515.8 631.3L513.2 634.2M511.4 633.6L513.2 634.2M513.2 634.2L512.3 640.1M504.7 640.4L507.2 644.5M513.2 634.2L520.4 638.3" fill="none" stroke="#636363" stroke-width="0.55" stroke-linecap="round"/>
</g>
<polygon points="494.8,620 501,616.2 506,620 511,630 518.5,633.8 516,637.5 506,640 501,647.5 496,640 498.5,632.5" fill="none" stroke="#6a6a6a" stroke-width="0.6"/>
<clipPath id="tc13"><polygon points="512.2,774.2 517.1,777.9 522,784.6 534.3,779.1 536.7,773 541.6,768.1 549,765.7 540,763 532,765 524,765 516,766 512,770"/></clipPath>
<g clip-path="url(#tc13)">
<polygon points="512.2,774.2 517.1,777.9 522,784.6 534.3,779.1 536.7,773 541.6,768.1 549,765.7 540,763 532,765 524,765 516,766 512,770" fill="#a6bddb"/>
<polygon points="516.3,760.9 521.1,763.7 518,766.5 513.4,766.2" fill="#f1eef6" stroke="#f1eef6" stroke-width="0.4"/>
<polygon points="522.2,759.5 525.7,761.4 523.3,766.4 521.1,763.7" fill="#f1eef6" stroke="#f1eef6" stroke-width="0.4"/>
<polygon points="521.1,763.7 523.3,766.4 524.4,768 518,766.5" fill="#f1eef6" stroke="#f1eef6" stroke-width="0.4"/>
<polygon points="523.3,766.4 530.2,768.8 527.9,772.2 524.4,768" fill="#f1eef6" stroke="#f1eef6" stroke-width="0.4"/>
<polygon points="532.4,763.1 538.4,763.4 533.5,769.8 530.2,768.8" fill="#f1eef6" stroke="#f1eef6" stroke-width="0.4"/>
<polygon points="525.6,774.5 529.2,777.4 526.7,781.3 521.3,781.4" fill="#f1eef6" stroke="#f1eef6" stroke-width="0.4"/>
<polygon points="542.9,754.9 544.5,757.8 543.7,764.7 537.4,760.9" fill="#f1eef6" stroke="#f1eef6" stroke-width="0.4"/>
<polygon points="537.4,760.9 543.7,764.7 541.6,766.7 538.4,763.4" fill="#f1eef6" stroke="#f1eef6" stroke-width="0.4"/>
<polygon points="538.4,763.4 541.6,766.7 536.6,771.7 533.5,769.8" fill="#f1eef6" stroke="#f1eef6" stroke-width="0.4"/>
<polygon points="544.5,757.8 550.4,759.1 547.5,765.3 543.7,764.7" fill="#f1eef6" stroke="#f1eef6" stroke-width="0.4"/>
<polygon points="543.7,764.7 547.5,765.3 545.8,769 541.6,766.7" fill="#f1eef6" stroke="#f1eef6" stroke-width="0.4"/>
<polygon points="541.6,766.7 545.8,769 542.5,772.1 536.6,771.7" fill="#f1eef6" stroke="#f1eef6" stroke-width="0.4"/>
<polygon points="533.8,777.8 538.4,782 536.9,788.1 531.4,786.5" fill="#f1eef6" stroke="#f1eef6" stroke-width="0.4"/>
<polygon points="550.4,759.1 556.1,760.6 549.9,766.6 547.5,765.3" fill="#f1eef6" stroke="#f1eef6" stroke-width="0.4"/>
<polygon points="547.5,765.3 549.9,766.6 550,772.9 545.8,769" fill="#f1eef6" stroke="#f1eef6" stroke-width="0.4"/>
<path d="M521.1 763.7L518 766.5M513.4 766.2L518 766.5M518 766.5L516.2 771M510.2 768.7L516.2 771M516.2 771L516.4 776.8M511.6 773.7L516.4 776.8M516.4 776.8L512.1 780.7M525.7 761.4L523.3 766.4M523.3 766.4L524.4 768M518 766.5L524.4 768M516.4 776.8L519 777.1M519 777.1L518.9 782.3M532.4 763.1L530.2 768.8M523.3 766.4L530.2 768.8M530.2 768.8L527.9 772.2M524.4 768L527.9 772.2M522.6 773.8L525.6 774.5M525.6 774.5L521.3 781.4M519 777.1L521.3 781.4M521.3 781.4L520.5 784.5M530.2 768.8L533.5 769.8M525.6 774.5L529.2 777.4M529.2 777.4L526.7 781.3M521.3 781.4L526.7 781.3M526.7 781.3L525.2 788.5M544.5 757.8L543.7 764.7M537.4 760.9L543.7 764.7M533.5 769.8L536.6 771.7M536.6 771.7L536.5 775.1M533.1 774.3L536.5 775.1M536.5 775.1L533.8 777.8M533.8 777.8L531.4 786.5M526.7 781.3L531.4 786.5M543.7 764.7L547.5 765.3M547.5 765.3L545.8 769M541.6 766.7L545.8 769M536.6 771.7L542.5 772.1M533.8 777.8L538.4 782M547.5 765.3L549.9 766.6" fill="none" stroke="#636363" stroke-width="0.55" stroke-linecap="round"/>
</g>
<polygon points="512.2,774.2 517.1,777.9 522,784.6 534.3,779.1 536.7,773 541.6,768.1 549,765.7 540,763 532,765 524,765 516,766 512,770" fill="none" stroke="#6a6a6a" stroke-width="0.6"/>
<clipPath id="tc14"><polygon points="574.7,752.2 583.2,747.3 585.7,751 580.8,761.4 575.9,764.4 578.3,757.1"/></clipPath>
<g clip-path="url(#tc14)">
<polygon points="574.7,752.2 583.2,747.3 585.7,751 580.8,761.4 575.9,764.4 578.3,757.1" fill="#74a9cf"/>
<polygon points="581.3,744.6 587.2,744.7 584.5,746.3 582,748.8" fill="#a6bddb" stroke="#a6bddb" stroke-width="0.4"/>
<polygon points="583,753.5 590.6,753.4 587.7,758.2 584.6,756.2" fill="#a6bddb" stroke="#a6bddb" stroke-width="0.4"/>
<path d="M571.3 754.9L576.3 753.7M576.3 753.7L575.3 760.1M581.3 744.6L582 748.8M582 748.8L579.7 750.4M579.7 750.4L578.1 754.4M578.1 754.4L580.1 760M575.3 760.1L580.1 760M580.1 760L578.8 764.2M582 748.8L584.5 746.3M584.5 746.3L583 753.5M579.7 750.4L583 753.5M583 753.5L584.6 756.2M583 753.5L590.6 753.4" fill="none" stroke="#636363" stroke-width="0.55" stroke-linecap="round"/>
</g>
<polygon points="574.7,752.2 583.2,747.3 585.7,751 580.8,761.4 575.9,764.4 578.3,757.1" fill="none" stroke="#6a6a6a" stroke-width="0.6"/>
<clipPath id="tc15"><polygon points="998.2,522.5 1002,515 1009.5,513.8 1024.5,510 1029.5,500 1038.2,495 1040.8,500 1038.2,505 1029.5,510 1017,517.5 1004.5,522.5"/></clipPath>
<g clip-path="url(#tc15)">
<polygon points="998.2,522.5 1002,515 1009.5,513.8 1024.5,510 1029.5,500 1038.2,495 1040.8,500 1038.2,505 1029.5,510 1017,517.5 1004.5,522.5" fill="#a6bddb"/>
<polygon points="995.3,523.9 999.4,520.7 1000.2,526.9 994.2,528.5" fill="#f1eef6" stroke="#f1eef6" stroke-width="0.4"/>
<polygon points="999.4,520.7 1005.8,519.8 1006.3,527.9 1000.2,526.9" fill="#f1eef6" stroke="#f1eef6" stroke-width="0.4"/>
<polygon points="1018.6,503.4 1024.3,504.1 1022.6,511.2 1018.3,510.5" fill="#f1eef6" stroke="#f1eef6" stroke-width="0.4"/>
<polygon points="1024.3,504.1 1028.7,501.8 1029.9,509.2 1022.6,511.2" fill="#f1eef6" stroke="#f1eef6" stroke-width="0.4"/>
<polygon points="1026.8,495 1031.6,493.7 1034,499.9 1026.7,501.1" fill="#f1eef6" stroke="#f1eef6" stroke-width="0.4"/>
<polygon points="1031.6,493.7 1034.6,493.5 1037.6,499.3 1034,499.9" fill="#f1eef6" stroke="#f1eef6" stroke-width="0.4"/>
<polygon points="1034,499.9 1037.6,499.3 1039.7,502.9 1033.1,503.5" fill="#f1eef6" stroke="#f1eef6" stroke-width="0.4"/>
<polygon points="1037.6,499.3 1040,495.8 1044.7,503.2 1039.7,502.9" fill="#f1eef6" stroke="#f1eef6" stroke-width="0.4"/>
<path d="M995.3 523.9L999.4 520.7M999.4 520.7L1000.2 526.9M1001.1 516.7L1002.6 518.7M1002.6 518.7L1005.8 519.8M999.4 520.7L1005.8 519.8M1005.8 519.8L1006.3 527.9M1008.2 509.7L1008.9 516.8M1002.6 518.7L1008.9 516.8M1008.9 516.8L1011.3 519.9M1011.3 519.9L1009.1 527.6M1011.8 512.8L1013.4 515.7M1008.9 516.8L1013.4 515.7M1013.4 515.7L1012.5 518.9M1012.5 518.9L1013.7 526M1018.3 510.5L1017.4 515.9M1013.4 515.7L1017.4 515.9M1017.4 515.9L1020.3 521.8M1024.3 504.1L1022.6 511.2M1018.3 510.5L1022.6 511.2M1017.4 515.9L1023.8 516.1M1024.3 504.1L1028.7 501.8M1028.7 501.8L1029.9 509.2M1022.6 511.2L1029.9 509.2M1031.6 493.7L1034 499.9M1026.7 501.1L1034 499.9M1034 499.9L1033.1 503.5M1034.6 493.5L1037.6 499.3M1034 499.9L1037.6 499.3M1037.6 499.3L1039.7 502.9M1033.1 503.5L1039.7 502.9M1037.6 499.3L1040 495.8" fill="none" stroke="#636363" stroke-width="0.55" stroke-linecap="round"/>
</g>
<polygon points="998.2,522.5 1002,515 1009.5,513.8 1024.5,510 1029.5,500 1038.2,495 1040.8,500 1038.2,505 1029.5,510 1017,517.5 1004.5,522.5" fill="none" stroke="#6a6a6a" stroke-width="0.6"/>
<clipPath id="tc16"><polygon points="855.8,221.2 863.2,222.5 867,230 872,228.8 867,236.2 864.5,245.2 857,245.2 858.2,232.5"/></clipPath>
<g clip-path="url(#tc16)">
<polygon points="855.8,221.2 863.2,222.5 867,230 872,228.8 867,236.2 864.5,245.2 857,245.2 858.2,232.5" fill="#a6bddb"/>
<path d="M853.8 221.4L857.2 222.4M857.2 222.4L855.7 228.8M862.9 218.7L860.9 224.2M857.2 222.4L860.9 224.2M855.7 228.8L860.1 230.3M860.1 230.3L861.2 236.6M861.2 236.6L858.5 239M851.7 240.2L858.5 239M858.5 239L859.1 244.4M854.1 242.4L859.1 244.4M859.1 244.4L856.6 252M860.1 230.3L866.5 230M866.5 230L862.5 238M861.2 236.6L862.5 238M862.5 238L862.7 239M858.5 239L862.7 239M862.5 238L870 236.8M862.7 239L869.6 242" fill="none" stroke="#636363" stroke-width="0.55" stroke-linecap="round"/>
</g>
<polygon points="855.8,221.2 863.2,222.5 867,230 872,228.8 867,236.2 864.5,245.2 857,245.2 858.2,232.5" fill="none" stroke="#6a6a6a" stroke-width="0.6"/>
<clipPath id="tc17"><polygon points="842,109 857,109 872,112.5 884.5,127.5 877,127.5 867,125 858,118 845,114"/></clipPath>
<g clip-path="url(#tc17)">
<polygon points="842,109 857,109 872,112.5 884.5,127.5 877,127.5 867,125 858,118 845,114" fill="#f1eef6"/>
<polygon points="847.7,113.1 851,113.5 854,117.8 847.7,115.5" fill="#d0d1e6" stroke="#d0d1e6" stroke-width="0.4"/>
<polygon points="856.5,117.2 862.7,120.9 859.4,124.7 855.6,121.5" fill="#d0d1e6" stroke="#d0d1e6" stroke-width="0.4"/>
<polygon points="862.4,108.9 870.1,108.6 867.8,114.6 864,114.7" fill="#d0d1e6" stroke="#d0d1e6" stroke-width="0.4"/>
<polygon points="878,117.5 880.9,118 880.1,121.5 876.9,119.4" fill="#d0d1e6" stroke="#d0d1e6" stroke-width="0.4"/>
<polygon points="876.9,119.4 880.1,121.5 882.8,125.7 875.9,126.8" fill="#d0d1e6" stroke="#d0d1e6" stroke-width="0.4"/>
<polygon points="875.9,126.8 882.8,125.7 881,133.8 875.4,131.2" fill="#d0d1e6" stroke="#d0d1e6" stroke-width="0.4"/>
<polygon points="882.8,125.7 887.4,127.1 884.7,132.6 881,133.8" fill="#d0d1e6" stroke="#d0d1e6" stroke-width="0.4"/>
<path d="M843.3 107.3L842.7 110M839.3 111.8L842.7 110M842.7 110L840.7 117M842.7 110L847.7 113.1M847.7 113.1L847.7 115.5M851.4 108.4L851 113.5M847.7 113.1L851 113.5M851 113.5L854 117.8M858.5 108.7L859.9 112.3M851 113.5L859.9 112.3M859.9 112.3L856.5 117.2M854 117.8L856.5 117.2M856.5 117.2L855.6 121.5M862.4 108.9L864 114.7M864 114.7L862.7 120.9M856.5 117.2L862.7 120.9M862.7 120.9L859.4 124.7M870.1 108.6L867.8 114.6M864 114.7L867.8 114.6M862.7 120.9L867.2 121.5M867.2 121.5L865.5 124.8M873.2 108.9L871 113.6M867.2 121.5L872.4 121.6M878 117.5L876.9 119.4M876.9 119.4L875.9 126.8M875.9 126.8L875.4 131.2M876.9 119.4L880.1 121.5M880.1 121.5L882.8 125.7M882.8 125.7L881 133.8M882.8 125.7L887.4 127.1" fill="none" stroke="#636363" stroke-width="0.55" stroke-linecap="round"/>
</g>
<polygon points="842,109 857,109 872,112.5 884.5,127.5 877,127.5 867,125 858,118 845,114" fill="none" stroke="#6a6a6a" stroke-width="0.6"/>
<clipPath id="tc18"><polygon points="767,161.2 779.5,150 797,142.5 812,130 817,118.8 819.5,125 809.5,140 792,150 777,162.5"/></clipPath>
<g clip-path="url(#tc18)">
<polygon points="767,161.2 779.5,150 797,142.5 812,130 817,118.8 819.5,125 809.5,140 792,150 777,162.5" fill="#d0d1e6"/>
<path d="M770 152.2L770.7 160.1M767.8 159.7L770.7 160.1M770.7 160.1L773.7 162.2M772.8 150.4L777.6 154.9M770.7 160.1L777.6 154.9M777.6 154.9L779.7 161.6M779.2 146.2L778.9 150.5M778.9 150.5L781 152.5M777.6 154.9L781 152.5M778.9 150.5L783.4 149M783.4 149L786.6 152.5M781 152.5L786.6 152.5M786.6 152.5L786.7 156.9M787.5 142.6L789.7 146.4M789.7 146.4L791.4 152.2M789.7 146.4L793.5 142.8M793.5 142.8L799.9 141.6M799.9 141.6L800.3 147.3M801.9 137.2L804.9 141.5M804.9 141.5L804.3 146.5M803.8 134.9L805.6 138.4M803.8 134.9L812.1 133M811.9 136.4L814 142.8M811.9 127.1L815.6 130.6M812.1 133L815.6 130.6M815.6 130.6L815.2 136M814.9 119.2L818.8 125M818.8 125L818.7 126.4M815.6 130.6L818.7 126.4M818.8 125L821.5 123.4" fill="none" stroke="#636363" stroke-width="0.55" stroke-linecap="round"/>
</g>
<polygon points="767,161.2 779.5,150 797,142.5 812,130 817,118.8 819.5,125 809.5,140 792,150 777,162.5" fill="none" stroke="#6a6a6a" stroke-width="0.6"/>
<clipPath id="tc19"><polygon points="56,740 67.5,741 71,750 62.5,755 56,751"/></clipPath>
<g clip-path="url(#tc19)">
<polygon points="56,740 67.5,741 71,750 62.5,755 56,751" fill="#d0d1e6"/>
<polygon points="51.2,743.9 55.7,743.5 56.4,749.3 53.3,746.6" fill="#f1eef6" stroke="#f1eef6" stroke-width="0.4"/>
<polygon points="53.3,746.6 56.4,749.3 55.1,753.1 51.2,752.7" fill="#f1eef6" stroke="#f1eef6" stroke-width="0.4"/>
<polygon points="56.4,749.3 60.8,746.5 58.9,753.2 55.1,753.1" fill="#f1eef6" stroke="#f1eef6" stroke-width="0.4"/>
<polygon points="58.9,753.2 63.3,752.5 64.4,755.3 58,755.3" fill="#f1eef6" stroke="#f1eef6" stroke-width="0.4"/>
<polygon points="66.1,737.1 67.5,734.6 67.4,741.7 65.3,739.1" fill="#f1eef6" stroke="#f1eef6" stroke-width="0.4"/>
<polygon points="63.3,752.5 67.6,752.3 68,754.7 64.4,755.3" fill="#f1eef6" stroke="#f1eef6" stroke-width="0.4"/>
<path d="M55.7 743.5L56.4 749.3M59.8 738.5L60.8 744.2M55.7 743.5L60.8 744.2M60.8 744.2L60.8 746.5M56.4 749.3L60.8 746.5M60.8 746.5L58.9 753.2M60.8 746.5L65.3 748.9M58.9 753.2L63.3 752.5M63.3 752.5L64.4 755.3M67.5 734.6L67.4 741.7M65.3 739.1L67.4 741.7M67.4 741.7L69 745M69 745L67 747.2M65.3 748.9L67 747.2M67 747.2L67.6 752.3M63.3 752.5L67.6 752.3M69 745L72 743.2" fill="none" stroke="#636363" stroke-width="0.55" stroke-linecap="round"/>
</g>
<polygon points="56,740 67.5,741 71,750 62.5,755 56,751" fill="none" stroke="#6a6a6a" stroke-width="0.6"/>
<clipPath id="tc20"><polygon points="230,765 246,762.5 247.5,771 232.5,772.5"/></clipPath>
<g clip-path="url(#tc20)">
<polygon points="230,765 246,762.5 247.5,771 232.5,772.5" fill="#d0d1e6"/>
<polygon points="238.3,758.5 244.3,756.8 243.6,763.7 237.9,761.2" fill="#f1eef6" stroke="#f1eef6" stroke-width="0.4"/>
<polygon points="237.9,761.2 243.6,763.7 241.7,768.2 238.7,766.2" fill="#f1eef6" stroke="#f1eef6" stroke-width="0.4"/>
<polygon points="244.3,756.8 248,756.6 249.5,763 243.6,763.7" fill="#f1eef6" stroke="#f1eef6" stroke-width="0.4"/>
<path d="M233.5 763.2L233.1 765.3M228.5 770.8L233.1 771.3M237.9 761.2L238.7 766.2M233.1 765.3L238.7 766.2M239.7 771.2L237.8 777.2M237.9 761.2L243.6 763.7M243.6 763.7L241.7 768.2M238.7 766.2L241.7 768.2M243.6 763.7L249.5 763M241.7 768.2L249.4 767.9" fill="none" stroke="#636363" stroke-width="0.55" stroke-linecap="round"/>
</g>
<polygon points="230,765 246,762.5 247.5,771 232.5,772.5" fill="none" stroke="#6a6a6a" stroke-width="0.6"/>
<clipPath id="tc21"><polygon points="518.5,275 533.5,272.5 536,278.8 521,280"/></clipPath>
<g clip-path="url(#tc21)">
<polygon points="518.5,275 533.5,272.5 536,278.8 521,280" fill="#f1eef6"/>
<path d="M517.4 278.4L521.2 279.6M521.2 279.6L520.1 285.4M520.3 272.1L521.5 275.2M521.5 275.2L524.5 278.4M521.5 275.2L525.4 271.9M525.4 271.9L529.2 277.1M526.6 282.4L530.2 278.6M529.2 277.1L531.7 274.7M531.7 274.7L535 277.1M530.2 278.6L535 277.1M535 277.1L537.6 275.4" fill="none" stroke="#636363" stroke-width="0.55" stroke-linecap="round"/>
</g>
<polygon points="518.5,275 533.5,272.5 536,278.8 521,280" fill="none" stroke="#6a6a6a" stroke-width="0.6"/>
<clipPath id="tc22"><polygon points="518.5,373.8 531,371.2 539.8,377.5 538.5,387.5 531,382.5 521,381.2"/></clipPath>
<g clip-path="url(#tc22)">
<polygon points="518.5,373.8 531,371.2 539.8,377.5 538.5,387.5 531,382.5 521,381.2" fill="#d0d1e6"/>
<path d="M518.2 378.5L521.1 376.9M520.8 369L523.1 374M521.5 382.5L526.5 378.8M526.5 378.8L528.7 383.1M524.3 368.3L527.4 372.4M523.7 376L528.5 376M528.5 376L528 377.5M528 377.5L530.1 382.2M530.1 382.2L532.9 385.3M527.4 372.4L528.7 370.3M533.1 378L532.9 381.7M530.1 382.2L532.9 381.7M532.9 381.7L535.6 383M535.6 383L536.8 385.3M530.8 372.5L535.1 372.9M533.1 378L534.6 374.7M534.6 374.7L537.3 379.2M532.9 381.7L537.3 379.2M535.6 383L537.9 382M536.8 385.3L538.4 384.8M538.4 384.8L540.9 389.7M534.6 374.7L538.2 372.8M537.3 379.2L541.2 378.3M537.9 382L542.2 380.2M538.4 384.8L544.6 384.7" fill="none" stroke="#636363" stroke-width="0.55" stroke-linecap="round"/>
</g>
<polygon points="518.5,373.8 531,371.2 539.8,377.5 538.5,387.5 531,382.5 521,381.2" fill="none" stroke="#6a6a6a" stroke-width="0.6"/>
<clipPath id="tc23"><polygon points="622.2,397.5 636,396.2 639.8,415 633.5,417.5 626,407.5"/></clipPath>
<g clip-path="url(#tc23)">
<polygon points="622.2,397.5 636,396.2 639.8,415 633.5,417.5 626,407.5" fill="#f1eef6"/>
<path d="M625.4 395.5L625.1 400.3M621.7 397.7L625.1 400.3M626.3 405.9L624.2 408.9M631.2 394.8L629 400.5M625.1 400.3L629 400.5M629 400.5L629.6 404.2M629.6 404.2L629 408M626.3 405.9L629 408M629 408L627.8 410.8M629 400.5L633.5 399M633.5 399L633 404.3M633 404.3L631.8 406M629 408L631.8 406M631.8 406L632.7 412M632.7 412L633.7 414.6M628 413.1L633.7 414.6M637.7 405.2L637.6 408.4M637.6 408.4L635.4 410.8M635.4 410.8L637.1 413.9M633.7 414.6L637.1 413.9M637.1 413.9L636 419.3M637.7 405.2L639.1 403.7M637.6 408.4L639.5 408.8M637.1 413.9L639.3 414.1" fill="none" stroke="#636363" stroke-width="0.55" stroke-linecap="round"/>
</g>
<polygon points="622.2,397.5 636,396.2 639.8,415 633.5,417.5 626,407.5" fill="none" stroke="#6a6a6a" stroke-width="0.6"/>
<clipPath id="tc24"><polygon points="596,450 608.5,448.8 616,462.5 611,465"/></clipPath>
<g clip-path="url(#tc24)">
<polygon points="596,450 608.5,448.8 616,462.5 611,465" fill="#a6bddb"/>
<path d="M601 449.2L598.3 451.6M598.3 451.6L598.6 455.8M603.6 445.7L603.1 449.5M603.1 455L602.3 458.6M603.1 449.5L606.3 447.5M602.8 451.1L608.2 451.7M603.1 455L606.4 456.9M606.4 456.9L605.5 460.9M608.2 451.7L611.9 453.1M611.9 453.1L610.6 457.1M606.4 456.9L610.6 457.1M605.5 460.9L609 460M609 460L609.7 461.9M606.8 462.2L609.7 461.9M609.7 461.9L610.9 465.5M614.5 456.4L612.8 458.5M609 460L612.8 458.5M612.8 458.5L613.2 463.4" fill="none" stroke="#636363" stroke-width="0.55" stroke-linecap="round"/>
</g>
<polygon points="596,450 608.5,448.8 616,462.5 611,465" fill="none" stroke="#6a6a6a" stroke-width="0.6"/>
<clipPath id="tc25"><polygon points="538.5,550 546,550 558.5,555 553.5,565 543.5,567.5 536,565 533.5,557.5"/></clipPath>
<g clip-path="url(#tc25)">
<polygon points="538.5,550 546,550 558.5,555 553.5,565 543.5,567.5 536,565 533.5,557.5" fill="#a6bddb"/>
<path d="M538.4 549.3L539 553.5M539 553.5L539.7 559.1M533.5 560.6L539.7 559.1M533.9 566.4L537.6 564.8M543.8 548.3L544.1 553.2M544.1 553.2L542.9 559M539.7 559.1L542.9 559M537.6 564.8L544.3 565.3M544.3 565.3L541.8 569.1M548.2 548.6L550.6 554.3M544.1 553.2L550.6 554.3M542.9 559L547.2 559.8M544.3 565.3L546.4 564.9M550.6 554.3L551.7 556.1M551.7 556.1L552.6 561.8M552.6 561.8L555.2 564.9M546.4 564.9L555.2 564.9M551.7 556.1L560.7 556.2M552.6 561.8L558.4 559.1" fill="none" stroke="#636363" stroke-width="0.55" stroke-linecap="round"/>
</g>
<polygon points="538.5,550 546,550 558.5,555 553.5,565 543.5,567.5 536,565 533.5,557.5" fill="none" stroke="#6a6a6a" stroke-width="0.6"/>
<clipPath id="tc26"><polygon points="964.5,531.2 974.5,527.5 977,533.8 967,537.5"/></clipPath>
<g clip-path="url(#tc26)">
<polygon points="964.5,531.2 974.5,527.5 977,533.8 967,537.5" fill="#a6bddb"/>
<polygon points="965.6,526.1 968.6,528.1 969.4,529.8 964.1,529.4" fill="#f1eef6" stroke="#f1eef6" stroke-width="0.4"/>
<polygon points="971.5,530.2 977,533.7 975.9,535.2 971.6,535.6" fill="#f1eef6" stroke="#f1eef6" stroke-width="0.4"/>
<path d="M968.6 528.1L969.4 529.8M964.1 529.4L969.4 529.8M969.4 529.8L969.5 535.4M971.5 530.2L971.6 535.6M969.5 535.4L971.6 535.6M971.6 535.6L971.6 541M971.5 530.2L977 533.7M971.6 535.6L975.9 535.2" fill="none" stroke="#636363" stroke-width="0.55" stroke-linecap="round"/>
</g>
<polygon points="964.5,531.2 974.5,527.5 977,533.8 967,537.5" fill="none" stroke="#6a6a6a" stroke-width="0.6"/>
<polygon points="583.5,528.8 606,527.5 607.2,535 584.8,536.2" fill="#f1eef6" stroke="#6a6a6a" stroke-width="0.6" stroke-linejoin="round"/>
<polygon points="608.5,548.8 616,548.8 616,555 608.5,555" fill="#f1eef6" stroke="#6a6a6a" stroke-width="0.6" stroke-linejoin="round"/>
<polygon points="558.5,512.5 571,511.2 572.2,520 559.8,520" fill="#d0d1e6" stroke="#6a6a6a" stroke-width="0.6" stroke-linejoin="round"/>
<polygon points="603.5,512.5 616,515 614.8,525 604.8,523.8" fill="#d0d1e6" stroke="#6a6a6a" stroke-width="0.6" stroke-linejoin="round"/>
<polygon points="456,660 466,658 468.5,662.5 458.5,665" fill="#f1eef6" stroke="#6a6a6a" stroke-width="0.6" stroke-linejoin="round"/>
<polygon points="579.8,653.8 583.5,652.5 584,662.5 580.2,662.5" fill="#f1eef6" stroke="#6a6a6a" stroke-width="0.6" stroke-linejoin="round"/>
<polygon points="614.8,653.8 619.8,652 621,656.2 616,658" fill="#f1eef6" stroke="#6a6a6a" stroke-width="0.6" stroke-linejoin="round"/>
<polygon points="578.5,675 584.8,673.8 586,678.8 581,680" fill="#f1eef6" stroke="#6a6a6a" stroke-width="0.6" stroke-linejoin="round"/>
<polygon points="727.6,327.9 739.9,321.4 740.6,326.4 732.6,329.3" fill="#f1eef6" stroke="#6a6a6a" stroke-width="0.6" stroke-linejoin="round"/>
<polygon points="729,345.2 734.1,343 737,346.6 731.2,349.5" fill="#f1eef6" stroke="#6a6a6a" stroke-width="0.6" stroke-linejoin="round"/>
<polygon points="739.9,353.9 745.6,346.6 758.6,343.8 755.7,348.1 742.7,355.3" fill="#f1eef6" stroke="#6a6a6a" stroke-width="0.6" stroke-linejoin="round"/>
<polygon points="350.9,734.7 363,730.3 371.7,743.3 376.9,757.2 376.9,774.5 371.7,776.3 370.9,758.9 368.2,748.5 359.6,743.3 354.4,736.4" fill="#a6bddb" stroke="#6a6a6a" stroke-width="0.6" stroke-linejoin="round"/>
<polygon points="376.9,757.2 389,757.2 378.6,774.5 370,790.1 369.1,802.3 359.6,802.3 357.9,793.6 361.3,781.5 370.9,776.3 376.9,774.5" fill="#d0d1e6" stroke="#6a6a6a" stroke-width="0.6" stroke-linejoin="round"/>
<polygon points="311.9,760.7 316.3,760.7 326.7,765.9 333.6,772.8 334.5,779.7 330.1,786.7 337,793.6 344,797.1 357.9,802.3 359.6,810.9 352.7,812.7 344,805.7 333.6,798.8 326.7,791.9 319.7,781.5 314.5,771.1" fill="#a6bddb" stroke="#6a6a6a" stroke-width="0.6" stroke-linejoin="round"/>
<polygon points="345.7,786.7 350.9,779.7 357.9,781.5 356.1,788.4 349.2,790.1" fill="#a6bddb" stroke="#6a6a6a" stroke-width="0.6" stroke-linejoin="round"/>
<polygon points="415,804 422,800.5 426.3,804 423.7,807.5 418.5,807.5" fill="#74a9cf" stroke="#6a6a6a" stroke-width="0.6" stroke-linejoin="round"/>
<polygon points="261,758 265,754 270,759 272,764 262,765" fill="#f1eef6" stroke="#6a6a6a" stroke-width="0.6" stroke-linejoin="round"/>
<polygon points="269,768 275,767 276,773 270,774" fill="#f1eef6" stroke="#6a6a6a" stroke-width="0.6" stroke-linejoin="round"/>
<polyline points="727,338 731,335 736,332 745,330 752,331 758,328 763,326" fill="none" stroke="#6a6a6a" stroke-width="0.6" stroke-linejoin="round" stroke-linecap="round"/>
<polyline points="736,332 738,338 745,342 752,340 756,336" fill="none" stroke="#6a6a6a" stroke-width="0.6" stroke-linejoin="round" stroke-linecap="round"/>
<polyline points="738,355 742,347 745,346.6" fill="none" stroke="#6a6a6a" stroke-width="0.6" stroke-linejoin="round" stroke-linecap="round"/>
<polyline points="735,355 739,347" fill="none" stroke="#6a6a6a" stroke-width="0.6" stroke-linejoin="round" stroke-linecap="round"/>
<clipPath id="levclip"><rect x="632" y="481" width="229" height="160"/></clipPath>
<g clip-path="url(#levclip)">
<rect x="630" y="480" width="232" height="163" fill="#74a9cf"/>
<polygon points="667.5,479.8 744.8,479.8 743,485 738.6,493.6 740.6,499.1 748.9,499.8 752.2,504.7 757.1,503.5 759.6,508 765.7,512.1 758.8,517.8 760.8,522.8 752.2,525.2 750.4,520.8 746,524.5 734.9,529.4 733.2,531.1 723.8,532.6 716.4,535.6 713.9,540 715.1,542.5 710.2,543.5 705.3,547.9 700.3,552.4 697.9,549.9 697.1,545.9 694.2,543 694.7,549.1 689.7,549.1 689.2,541.7 686.8,540.5 670.7,540.5 670,537.6 676.4,533.1 675.7,527.7 676.9,524.5 674.9,520.3 679.9,517.1 679.4,510.9 677.4,502.3 676.4,492.4 672,493.6 668.3,499.8 665.8,499.1 665.8,495.6 669,490.7 668.3,485" fill="#f1eef6" stroke="#6a6a6a" stroke-width="0.7" stroke-linejoin="round"/>
<polygon points="696.6,508.9 701.6,508 709,507.2 711.4,512.1 709,514.6 704,515.8 694.2,515.8 694.2,513.9 697.1,512.1" fill="#2b8cbe" stroke="#6a6a6a" stroke-width="0.7" stroke-linejoin="round"/>
<polygon points="697.9,527.7 701.6,525.7 704,522 709,521.3 715.1,521.3 716.4,524.5 713.9,525.7 715.9,528.7 707.7,530.6 702.8,531.9 698.6,533.1" fill="#74a9cf" stroke="#6a6a6a" stroke-width="0.7" stroke-linejoin="round"/>
<polygon points="709,521.3 715.1,521.3 716.4,524.5 711.4,526.2 709.5,523.7" fill="#2b8cbe" stroke="#6a6a6a" stroke-width="0.7" stroke-linejoin="round"/>
<polygon points="628.1,581.2 632.2,580.6 640.3,578.5 651.4,578.1 654.9,575.9 659.9,575.5 665.1,571.3 667.6,570.4 666.8,576.8 668.9,581.1 676.2,578.1 678.8,578.5 683,584.9 687.3,582.7 689.9,578.1 687.3,575.9 693.3,570.4 690.7,566.1 695,564.4 697.6,563.6 703,560.7 710,563.8 708.9,572.4 709.3,577 706.5,580.2 708.5,580.9 706.1,586.4 711.6,591.9 713.2,595.4 707,592.6 702.7,596.5 698.4,600.7 693.3,605 689.9,607.6 686.5,612.7 684.8,617 680.5,623.8 678.2,625.7 676.1,629.3 673.6,633.9 670.5,638 669,640.6 668,642.1 628.1,642.1" fill="#2b8cbe" stroke="#6a6a6a" stroke-width="0.7" stroke-linejoin="round"/>
<polygon points="628.1,568.1 634.7,568.1 633.9,574.2 631,577.5 628.1,578.5" fill="#2b8cbe" stroke="#6a6a6a" stroke-width="0.7" stroke-linejoin="round"/>
<polygon points="713.6,542.3 714.7,538.4 717.9,534.9 724.9,533 734.2,531 738.9,538 735,539.2 737.4,545.1 742.8,543.1 738.9,545.4 743.6,549.7 746.7,552.5 751.4,553.2 753.3,556.4 752.2,559.9 748.3,563.8 745.1,564.6 742.8,569.2 738.9,570.8 734.2,577 732.7,581.7 728,584.8 721.8,588 717.1,591.9 713.2,595.4 711.6,591.9 706.1,586.4 708.5,580.9 706.5,580.2 709.3,577 708.9,572.4 710,563.8 703,560.7 696,563.8 691.7,557.5 695.2,556.4 696,549.7 693.7,549 693.3,543.5 696.8,543.1 698,545.8 696.8,549.7 699.9,552.9 706.1,546.6 709.3,543.5" fill="#045a8d" stroke="#6a6a6a" stroke-width="0.7" stroke-linejoin="round"/>
<polygon points="734.2,531 746.7,525.6 748.3,523.2 750.6,524 752.2,527.1 755.3,529.1 757.6,531.8 754.5,534.2 759.2,536.5 762.3,535.7 761.5,538.8 762.3,542.7 759.2,545.1 754.5,549 752.9,551.3 751.4,553.2 746.7,552.5 743.6,549.7 738.9,545.4 742.8,543.1 737.4,545.1 735,539.2 738.9,538" fill="#2b8cbe" stroke="#6a6a6a" stroke-width="0.7" stroke-linejoin="round"/>
<polygon points="738.9,545.4 742.8,543.1 746.7,542.3 752.2,540 754.5,542.7 759.2,545.1 754.5,549 752.9,551.3 751.4,550.1 745.9,550.5 743.6,549.7" fill="#74a9cf" stroke="#6a6a6a" stroke-width="0.7" stroke-linejoin="round"/>
<polygon points="752.2,540 754.5,539.6 755.3,542.7 754.5,544.7 752.5,543.5" fill="#045a8d" stroke="#6a6a6a" stroke-width="0.7" stroke-linejoin="round"/>
<polygon points="759.2,536.5 762.3,535.7 761.5,538.8 762.3,542.7 760.3,541.2 759.6,538.4" fill="#74a9cf" stroke="#6a6a6a" stroke-width="0.7" stroke-linejoin="round"/>
<polygon points="628.1,637.2 632.2,636.2 642.9,632.8 644.8,633.4 647.2,632.3 647.9,630.6 651.5,627.7 650.5,626.2 654.3,621 655.4,622.6 658.7,620.5 659.5,622.1 665.4,619 672,616.9 675.6,614.9 677.7,614.9 678.2,616.4 677.2,620 675.4,622.1 676.1,623.6 677.7,624.9 678.2,625.7 676.1,629.3 673.6,633.9 670.5,638 669,640.6 668,642.1 628.1,642.1" fill="#045a8d" stroke="#6a6a6a" stroke-width="0.7" stroke-linejoin="round"/>
<polygon points="682.8,612.8 683.8,609.8 685.4,607.2 687.4,602.6 689,600 688.5,596.4 691,595.4 693.1,592.8 694.9,592.6 695.7,594.4 694.1,597.9 692.1,600 690,601.5 689,604.1 690,605.7 692.1,606.2 689,609.2 685.9,614.4 684.9,613.3" fill="#045a8d" stroke="#6a6a6a" stroke-width="0.7" stroke-linejoin="round"/>
<polygon points="861.9,536.1 860.7,535.6 853,530.6 837.7,523.2 819.2,518.6 805.7,519.3 800.7,520.8 795.3,522 787.9,525.2 780.5,529.4 771.9,536.8 764.5,541.7 759.6,545.4 753.4,551.6 753.3,556.4 752.2,559.9 748.3,563.8 745.1,564.6 742.8,569.2 738.9,570.8 734.2,577 732.7,581.7 728,584.8 721.8,588 717.1,591.9 713.2,595.4 707,592.6 706.4,592.8 701.3,596.4 696.2,602.1 692.1,606.2 689,609.2 685.9,614.4 683.8,619.5 680.8,623.1 678.2,625.7 676.1,629.3 673.6,633.9 670.5,638 669,640.6 668,642.1 861.9,642.1" fill="#d0d4d5"/>
<polyline points="631,518.8 632,518.8 638.7,515.4 641.1,518.3 652.2,519.8 665.8,518.3 676.9,517.8 679.9,517.1" fill="none" stroke="#6a6a6a" stroke-width="0.6" stroke-linejoin="round" stroke-linecap="round"/>
<polyline points="780.3,520.7 784.6,517.7 789.7,516.4 795.2,514.3 796.9,510.9 802.5,510.7 808.9,511.8 809.3,514.8 811.9,514.3 814.5,514.8 817,516.4 817.9,518.6" fill="none" stroke="#6a6a6a" stroke-width="0.6" stroke-linejoin="round" stroke-linecap="round"/>
<polyline points="780.3,520.7 786.2,519.9 791.4,519.5 793.9,521.2 794.8,521.6" fill="none" stroke="#6a6a6a" stroke-width="0.6" stroke-linejoin="round" stroke-linecap="round"/>
<polyline points="795.2,514.3 798.2,516 803.4,514.8 805.9,516.4 805.1,520.3" fill="none" stroke="#6a6a6a" stroke-width="0.6" stroke-linejoin="round" stroke-linecap="round"/>
<polyline points="755.5,528 761,526.8" fill="none" stroke="#6a6a6a" stroke-width="0.6" stroke-linejoin="round" stroke-linecap="round"/>
<polyline points="631,554.1 635,554.1 634.4,562.7 631,563.9" fill="none" stroke="#6a6a6a" stroke-width="0.6" stroke-linejoin="round" stroke-linecap="round"/>
<polyline points="691.7,557.5 694.8,563.9" fill="none" stroke="#6a6a6a" stroke-width="0.6" stroke-linejoin="round" stroke-linecap="round"/>
<polyline points="701.9,534.2 702.2,541.2 703.8,545.8 705.4,547.8" fill="none" stroke="#6a6a6a" stroke-width="0.6" stroke-linejoin="round" stroke-linecap="round"/>
<polyline points="701.1,534.2 700.3,537.3 699.9,541.2" fill="none" stroke="#6a6a6a" stroke-width="0.6" stroke-linejoin="round" stroke-linecap="round"/>
<polyline points="746.7,564.6 743.6,567.7 742,571.6 741.8,573.9" fill="none" stroke="#6a6a6a" stroke-width="0.6" stroke-linejoin="round" stroke-linecap="round"/>
<polyline points="739.7,570.8 742.4,570" fill="none" stroke="#6a6a6a" stroke-width="0.6" stroke-linejoin="round" stroke-linecap="round"/>
<polyline points="713.6,542.3 723.3,541.6 724.9,543.5 728,543.9 729.6,545.8 728,548.2 723.3,548.2 724.9,551.3 726.4,555.2 726.4,558.3 721.8,559.9 719.4,563 721,566.9 723.3,570.8" fill="none" stroke="#6a6a6a" stroke-width="0.6" stroke-linejoin="round" stroke-linecap="round"/>
<polyline points="699.9,552.9 703,556.8 709.3,554.8 710,552.1 711.6,550.9 714.3,552.5 715.9,549.3 719.4,550.9 721,549.3 723.3,548.2" fill="none" stroke="#6a6a6a" stroke-width="0.6" stroke-linejoin="round" stroke-linecap="round"/>
<polyline points="703,556.8 702.2,559.9 703,560.7" fill="none" stroke="#6a6a6a" stroke-width="0.6" stroke-linejoin="round" stroke-linecap="round"/>
<polyline points="709.3,554.8 710.4,557.5 714.7,558.3 716.3,554.4 714.3,552.5" fill="none" stroke="#6a6a6a" stroke-width="0.6" stroke-linejoin="round" stroke-linecap="round"/>
<polyline points="714.7,558.3 716.3,561.4 719.4,563" fill="none" stroke="#6a6a6a" stroke-width="0.6" stroke-linejoin="round" stroke-linecap="round"/>
<polyline points="716.3,554.4 720.2,554 725.7,553.6" fill="none" stroke="#6a6a6a" stroke-width="0.6" stroke-linejoin="round" stroke-linecap="round"/>
<polyline points="720.2,554 721.8,559.9" fill="none" stroke="#6a6a6a" stroke-width="0.6" stroke-linejoin="round" stroke-linecap="round"/>
<polyline points="728,548.2 734.2,545.8 738.9,545.4" fill="none" stroke="#6a6a6a" stroke-width="0.6" stroke-linejoin="round" stroke-linecap="round"/>
<polyline points="726.4,558.3 731.1,557.1 735,554.4 738.9,553.2 743.6,551.7 746.7,552.5" fill="none" stroke="#6a6a6a" stroke-width="0.6" stroke-linejoin="round" stroke-linecap="round"/>
<polyline points="735.8,550.9 736.6,549 739.7,547.8 743.6,549.7" fill="none" stroke="#6a6a6a" stroke-width="0.6" stroke-linejoin="round" stroke-linecap="round"/>
<polyline points="731.1,557.1 730.3,561.4 728,564.6 723.3,570.8 721,571.6" fill="none" stroke="#6a6a6a" stroke-width="0.6" stroke-linejoin="round" stroke-linecap="round"/>
<polyline points="730.3,561.4 734.2,564.6 738.9,559.9 742,561.4 738.9,565.3 742.8,569.2" fill="none" stroke="#6a6a6a" stroke-width="0.6" stroke-linejoin="round" stroke-linecap="round"/>
<polyline points="728,564.6 729.6,568.5 731.1,570 728.8,572 734.2,576.3" fill="none" stroke="#6a6a6a" stroke-width="0.6" stroke-linejoin="round" stroke-linecap="round"/>
<polyline points="745.1,552.1 743.6,557.5 741.2,560.7 738.9,565.3 737.4,568.5" fill="none" stroke="#6a6a6a" stroke-width="0.6" stroke-linejoin="round" stroke-linecap="round"/>
<polyline points="721,571.6 723.3,574.7 727.2,574.7 728.8,572" fill="none" stroke="#6a6a6a" stroke-width="0.6" stroke-linejoin="round" stroke-linecap="round"/>
<polyline points="710,563.8 713.6,564.2 714.3,562.2 716.3,561.4" fill="none" stroke="#6a6a6a" stroke-width="0.6" stroke-linejoin="round" stroke-linecap="round"/>
<polyline points="714.3,574.3 714,577.8 713.2,580.9 714.7,583.3 720.2,582.1 718.6,577 719,574.3" fill="none" stroke="#6a6a6a" stroke-width="0.6" stroke-linejoin="round" stroke-linecap="round"/>
<polyline points="720.2,582.1 722.5,582.5 721.8,588" fill="none" stroke="#6a6a6a" stroke-width="0.6" stroke-linejoin="round" stroke-linecap="round"/>
<polyline points="714.7,583.3 714,585.6 710,588.7" fill="none" stroke="#6a6a6a" stroke-width="0.6" stroke-linejoin="round" stroke-linecap="round"/>
<polyline points="714,585.6 715.5,588 714,589.5 717.1,588.7 717.1,591.9" fill="none" stroke="#6a6a6a" stroke-width="0.6" stroke-linejoin="round" stroke-linecap="round"/>
<polyline points="709.3,577 711.6,577.8 712.4,580.9 713.2,580.9" fill="none" stroke="#6a6a6a" stroke-width="0.6" stroke-linejoin="round" stroke-linecap="round"/>
<polyline points="738.9,538 746.7,536.1 749,533.4 752.2,534.9 754.5,534.2" fill="none" stroke="#6a6a6a" stroke-width="0.6" stroke-linejoin="round" stroke-linecap="round"/>
<polyline points="746.7,536.1 745.9,532.6 746.7,530.3 747.5,525.6" fill="none" stroke="#6a6a6a" stroke-width="0.6" stroke-linejoin="round" stroke-linecap="round"/>
<polyline points="735,531 740.5,529.9 746.7,530.3" fill="none" stroke="#6a6a6a" stroke-width="0.6" stroke-linejoin="round" stroke-linecap="round"/>
<polyline points="749,533.4 750.6,537.3 751.4,541.2 752.2,540" fill="none" stroke="#6a6a6a" stroke-width="0.6" stroke-linejoin="round" stroke-linecap="round"/>
<polyline points="745.1,536.5 746.7,542.3" fill="none" stroke="#6a6a6a" stroke-width="0.6" stroke-linejoin="round" stroke-linecap="round"/>
<polyline points="752.2,534.9 753.7,538 759.2,536.5" fill="none" stroke="#6a6a6a" stroke-width="0.6" stroke-linejoin="round" stroke-linecap="round"/>
<polyline points="735,557.5 738.1,558.3 740.5,559.9" fill="none" stroke="#6a6a6a" stroke-width="0.6" stroke-linejoin="round" stroke-linecap="round"/>
<polyline points="734.2,560.7 737.4,557.5" fill="none" stroke="#6a6a6a" stroke-width="0.6" stroke-linejoin="round" stroke-linecap="round"/>
<polyline points="701.6,508 702.6,512.4 704,515.8" fill="none" stroke="#6a6a6a" stroke-width="0.6" stroke-linejoin="round" stroke-linecap="round"/>
<polyline points="704,522 705.5,526.7 707.7,530.6" fill="none" stroke="#6a6a6a" stroke-width="0.6" stroke-linejoin="round" stroke-linecap="round"/>
<polyline points="697.1,512.1 702.6,512.4 709,514.6" fill="none" stroke="#6a6a6a" stroke-width="0.6" stroke-linejoin="round" stroke-linecap="round"/>
<polyline points="698.6,533.1 699.6,540.5" fill="none" stroke="#6a6a6a" stroke-width="0.6" stroke-linejoin="round" stroke-linecap="round"/>
</g>
<polygon points="492,279 521,274 541,267.5 566,256 581,245 608.5,230 646,211 673.5,202.5 692,194 707,185 719.5,172.5 742,167.5 767,161 779.5,150 797,142.5 812,130 817,119 827,112.5 842,109 857,109 872,112.5 884.5,127.5 892,132.5 904.5,129 929.5,124 939.5,126 943,135 942,155 938,175 934.5,190 933,212.5 927,225 917,240 909.5,245 892,252.5 877,254 862,259 859.5,265 872,266 884.5,262.5 892,270 909.5,279 918,272.5 923,256 928,257.5 933,267.5 938,292.5 947,297.5 961,304 963,316 977,317.5 992,317.5 1004.5,324 1017,326 1027,325 1038,329 1048,327.5 1058,338.8 1073,341.2 1078,352.5 1098,377.5 1115.5,392.5 1125.5,396 1133,395 1138,403.8 1145.5,408.8 1138,430 1118,438.8 1106.8,445 1103,452.5 1088,465 1073,478.8 1060.5,490 1038,505 1029.5,510 1017,517.5 1004.5,522.5 987,529 967,537.5 949.5,546 938,556 932,567.5 928,569 922,562.5 909.5,564 904.5,569 899.5,569 897,565 889.5,560 876,562.5 877,560 874.5,552.5 863,551 869.5,546 860.7,535.6 853,530.6 837.7,523.2 819.2,518.6 805.7,519.3 800.7,520.8 795.3,522 787.9,525.2 780.5,529.4 771.9,536.8 764.5,541.7 759.6,545.4 753.4,551.6 753.3,556.4 752.2,559.9 748.3,563.8 745.1,564.6 742.8,569.2 738.9,570.8 734.2,577 732.7,581.7 728,584.8 721.8,588 717.1,591.9 713.2,595.4 707,592.6 706.4,592.8 701.3,596.4 696.2,602.1 692.1,606.2 689,609.2 685.9,614.4 683.8,619.5 680.8,623.1 678.2,625.7 676.1,629.3 673.6,633.9 670.5,638 669,640.6 668.5,639 650,650 638.5,660 631,670 611,676 601,687.5 597.9,689.8 596.7,698.4 594.8,710.6 595.5,720.4 596.1,729 594.2,738.7 590.6,748.5 588.1,753.4 584.4,759.5 580.8,761.4 582,768.1 575.9,770.6 571.6,767.5 562.4,769.3 553.8,768.1 549,765.7 541.6,768.1 536.7,773 534.3,779.1 522,784.6 517.1,777.9 512.2,774.2 509.8,769.3 500,773 488.5,776 468.5,782.5 475,789 463.5,787.5 456,795 450,800 451,806 443.5,810 440,816 437.6,810.9 430.7,807.5 426.3,804 425.4,807.5 418.5,810.9 418.5,817.9 411.6,821.3 404.6,829.1 397.7,828.2 392.5,823 382.1,828.2 373.4,833.4 374.3,843.8 370,849 375.2,856 373.4,863.8 368.2,859.4 361.3,856.8 357.9,852.5 353.5,843.8 349.2,838.6 337,840.4 323.2,835.2 326.7,831.7 319.7,833.4 321.5,842.1 316.3,838.6 308.5,835.2 309.3,828.2 298.9,819.6 292,810.9 286.8,817.9 267.7,812.7 262.5,812.7 255.6,802.3 246,800 240,804 230,802.5 220,797.5 215,789 207.5,779 200,771 185,770 186,779 184,786 175,791 166,789 162.5,782.5 157.5,774 140,776 120,781 110,789 100,787.5 82.5,780 67.5,767.5 57.5,751 44,735 47.5,722.5 61,702.5 65,689 104,694 105,686 125,682.5 152.5,681 115,657.5 127.5,649 150,642.5 192.5,632.5 197.5,627.5 192.5,620 195,610 212.5,598 229,600 235,620 246,620 280,616 292.5,621 305,619 311,622.5 315.5,616 319,622.5 332.5,625 346,634 346,636 370,635 381,630 397,626 396,594 412,585 423.5,579 433.5,580 442,586 446,590 457,586 463.5,585 466,575 458.5,566 457,561 488.5,549 501,539 493.5,530 490,511 498.5,500 490,492.5 475,490 476,474 446,467.5 402,464 415,440 392,425 388.5,415 418.5,390 433.5,381 446,391 473.5,380 475,370 468.5,350 471,345 467,341 482,322.5 498.5,317.5 500,299 508.5,295 510,282.5" fill="none" stroke="#646464" stroke-width="1.15" stroke-linejoin="round"/>
<text x="728" y="79" font-size="12" fill="#5f5f5f" font-family="'Liberation Sans', sans-serif" textLength="40" lengthAdjust="spacingAndGlyphs">Lochee</text>
<text x="765" y="96" font-size="12" fill="#5f5f5f" font-family="'Liberation Sans', sans-serif" textLength="44" lengthAdjust="spacingAndGlyphs">Dundee</text>
<text x="767" y="133.5" font-size="12" fill="#5f5f5f" font-family="'Liberation Sans', sans-serif" textLength="92" lengthAdjust="spacingAndGlyphs">Newport-on-Tay</text>
<text x="849" y="123" font-size="12" fill="#5f5f5f" font-family="'Liberation Sans', sans-serif" textLength="43" lengthAdjust="spacingAndGlyphs">Tayport</text>
<text x="1009" y="28" font-size="12" fill="#5f5f5f" font-family="'Liberation Sans', sans-serif" textLength="61" lengthAdjust="spacingAndGlyphs">Carnoustie</text>
<text x="33.75" y="370" font-size="12" fill="#5f5f5f" font-family="'Liberation Sans', sans-serif" textLength="76" lengthAdjust="spacingAndGlyphs">Auchterarder</text>
<text x="327.5" y="526" font-size="12" fill="#5f5f5f" font-family="'Liberation Sans', sans-serif" textLength="39.5" lengthAdjust="spacingAndGlyphs">Kinross</text>
<text x="6" y="611.75" font-size="10.5" fill="#b5b5b5" font-family="'Liberation Sans', sans-serif" textLength="106" lengthAdjust="spacingAndGlyphs">KMANNANSHIRE</text>
<text x="20" y="837.5" font-size="12" fill="#6a6a6a" font-family="'Liberation Sans', sans-serif" textLength="78" lengthAdjust="spacingAndGlyphs">Grangemouth</text>
<text x="4.5" y="866" font-size="12" fill="#6a6a6a" font-family="'Liberation Sans', sans-serif" textLength="9.5" lengthAdjust="spacingAndGlyphs">rk</text>
<text x="146" y="909.5" font-size="12" fill="#7a7a7a" font-family="'Liberation Sans', sans-serif" textLength="60" lengthAdjust="spacingAndGlyphs">Linlithgow</text>
<text x="519.75" y="967" font-size="18" fill="#4a4a4a" font-family="'Liberation Sans', sans-serif" textLength="89" lengthAdjust="spacingAndGlyphs">Edinburgh</text>
<text x="727.75" y="952" font-size="12" fill="#6a6a6a" font-family="'Liberation Sans', sans-serif" textLength="72" lengthAdjust="spacingAndGlyphs">Prestonpans</text>
<text x="766.5" y="979.5" font-size="12" fill="#6a6a6a" font-family="'Liberation Sans', sans-serif" textLength="44" lengthAdjust="spacingAndGlyphs">Tranent</text>
<text x="656" y="979.5" font-size="12" fill="#6a6a6a" font-family="'Liberation Sans', sans-serif" textLength="72" lengthAdjust="spacingAndGlyphs">Musselburgh</text>
<text x="998" y="780" font-size="12" fill="#5f5f5f" font-family="'Liberation Sans', sans-serif" textLength="33.5" lengthAdjust="spacingAndGlyphs">North</text>
<text x="992" y="794.5" font-size="12" fill="#5f5f5f" font-family="'Liberation Sans', sans-serif" textLength="46" lengthAdjust="spacingAndGlyphs">Berwick</text>
<text x="999" y="973.75" font-size="10.5" fill="#b5b5b5" font-family="'Liberation Sans', sans-serif" textLength="30.5" lengthAdjust="spacingAndGlyphs">EAST</text>
<text x="726" y="338" font-size="12.5" fill="#f4f4f4" font-family="'Liberation Sans', sans-serif" textLength="32.5" lengthAdjust="spacingAndGlyphs" stroke="#7d7d7d" stroke-width="1.8" paint-order="stroke" stroke-linejoin="round">Cupar</text>
<text x="553.5" y="543.75" font-size="12.5" fill="#f4f4f4" font-family="'Liberation Sans', sans-serif" textLength="63.5" lengthAdjust="spacingAndGlyphs" stroke="#7d7d7d" stroke-width="1.8" paint-order="stroke" stroke-linejoin="round">Glenrothes</text>
<text x="425.5" y="657.5" font-size="12.5" fill="#f4f4f4" font-family="'Liberation Sans', sans-serif" textLength="55.5" lengthAdjust="spacingAndGlyphs" stroke="#7d7d7d" stroke-width="1.8" paint-order="stroke" stroke-linejoin="round">Lochgelly</text>
<text x="381" y="689.5" font-size="12.5" fill="#f4f4f4" font-family="'Liberation Sans', sans-serif" textLength="80" lengthAdjust="spacingAndGlyphs" stroke="#7d7d7d" stroke-width="1.8" paint-order="stroke" stroke-linejoin="round">Cowdenbeath</text>
<text x="569" y="688" font-size="12.5" fill="#f4f4f4" font-family="'Liberation Sans', sans-serif" textLength="51" lengthAdjust="spacingAndGlyphs" stroke="#7d7d7d" stroke-width="1.8" paint-order="stroke" stroke-linejoin="round">Kirkcaldy</text>
<text x="739" y="551" font-size="12.5" fill="#f4f4f4" font-family="'Liberation Sans', sans-serif" textLength="34" lengthAdjust="spacingAndGlyphs" stroke="#7d7d7d" stroke-width="1.8" paint-order="stroke" stroke-linejoin="round">Leven</text>
<text x="494" y="777" font-size="12.5" fill="#f4f4f4" font-family="'Liberation Sans', sans-serif" textLength="66" lengthAdjust="spacingAndGlyphs" stroke="#7d7d7d" stroke-width="1.8" paint-order="stroke" stroke-linejoin="round">Burntisland</text>
<text x="675.5" y="522.5" font-size="12" fill="#5a5a5a" font-family="'Liberation Sans', sans-serif" textLength="57.5" lengthAdjust="spacingAndGlyphs" stroke="#ffffff" stroke-width="2" paint-order="stroke" stroke-linejoin="round">Kennoway</text>
<text x="625" y="481" font-size="11" fill="#f4f4f4" font-family="'Liberation Sans', sans-serif" textLength="27" lengthAdjust="spacingAndGlyphs" font-weight="bold" stroke="#9aa9b8" stroke-width="1.5" paint-order="stroke" stroke-linejoin="round">FIFE</text>
<circle cx="717" cy="569.5" r="7.8" fill="#e60000" stroke="#000" stroke-width="1.1"/>
<text x="583.5" y="927" font-size="12" fill="#4a4a4a" font-family="'Liberation Sans', sans-serif" textLength="545" lengthAdjust="spacingAndGlyphs" stroke="#f2f2f2" stroke-width="1.2" paint-order="stroke" stroke-linejoin="round">Esri UK, Esri, TomTom, Garmin, Foursquare, FAO, METI/NASA, USGS, Esri, Intermap, NASA, NGA,</text>
<text x="1128.5" y="945" font-size="12" fill="#4a4a4a" font-family="'Liberation Sans', sans-serif" textLength="31" lengthAdjust="spacingAndGlyphs" text-anchor="end" stroke="#f2f2f2" stroke-width="1.2" paint-order="stroke" stroke-linejoin="round">USGS</text>
<path d="M30 943.5V955.2H336.5V943.5" fill="none" stroke="#000" stroke-width="1.5"/>
<path d="M68.5 947V955.2" stroke="#000" stroke-width="1.5"/>
<path d="M107 943.5V955.2" stroke="#000" stroke-width="1.5"/>
<path d="M145.5 947V955.2" stroke="#000" stroke-width="1.5"/>
<path d="M183.75 943.5V955.2" stroke="#000" stroke-width="1.5"/>
<path d="M222.25 947V955.2" stroke="#000" stroke-width="1.5"/>
<path d="M260.5 947V955.2" stroke="#000" stroke-width="1.5"/>
<path d="M298.75 947V955.2" stroke="#000" stroke-width="1.5"/>
<text x="30" y="935" font-size="16" fill="#000" font-family="'Liberation Sans', sans-serif" text-anchor="middle">0</text>
<text x="107" y="935" font-size="16" fill="#000" font-family="'Liberation Sans', sans-serif" text-anchor="middle">5</text>
<text x="183.75" y="935" font-size="16" fill="#000" font-family="'Liberation Sans', sans-serif" text-anchor="middle">10</text>
<text x="328" y="935" font-size="16" fill="#000" font-family="'Liberation Sans', sans-serif" textLength="100" lengthAdjust="spacingAndGlyphs">20 Kilometers</text>
<polygon points="1124,38 1137,74.5 1124,66 1111,74.5" fill="#000"/>
<text x="1124.5" y="30" font-size="12" fill="#000" font-family="'Liberation Serif', sans-serif" text-anchor="middle">N</text>
</g>
<g clip-path="url(#insclip)">
<rect x="3" y="3" width="466" height="328" fill="#6baed6"/>
<polygon points="76,2 232.5,2 229,12.5 220,30 224,41 241,42.5 247.5,52.5 257.5,50 262.5,59 275,67.5 261,79 265,89 247.5,94 244,85 235,92.5 212.5,102.5 209,106 190,109 175,115 170,124 172.5,129 162.5,131 152.5,140 142.5,149 137.5,144 136,136 130,130 131,142.5 121,142.5 120,127.5 115,125 82.5,125 81,119 94,110 92.5,99 95,92.5 91,84 101,77.5 100,65 96,47.5 94,27.5 85,30 77.5,42.5 72.5,41 72.5,34 79,24 77.5,12.5" fill="#eff3ff" stroke="#707377" stroke-width="1.15" stroke-linejoin="round"/>
<polygon points="135,61 145,59 160,57.5 165,67.5 160,72.5 150,75 130,75 130,71 136,67.5" fill="#3182bd" stroke="#707377" stroke-width="1.15" stroke-linejoin="round"/>
<polygon points="137.5,99 145,95 150,87.5 160,86 172.5,86 175,92.5 170,95 174,101 157.5,105 147.5,107.5 139,110" fill="#6baed6" stroke="#707377" stroke-width="1.15" stroke-linejoin="round"/>
<polygon points="160,86 172.5,86 175,92.5 165,96 161,91" fill="#3182bd" stroke="#707377" stroke-width="1.15" stroke-linejoin="round"/>
<polygon points="-4,207.5 4.3,206.3 20.8,202 43.3,201.1 50.3,196.8 60.6,195.9 71,187.3 76.2,185.5 74.5,198.5 78.8,207.2 93.6,201.1 98.8,202 107.4,215 116.1,210.6 121.3,201.1 116.1,196.8 128.2,185.5 123,176.9 131.7,173.4 136.9,171.7 147.9,165.9 162.1,172.2 159.8,189.6 160.6,199 155,205.4 159,206.9 154.2,218 165.3,229.1 168.5,236.2 156,230.6 147.3,238.4 138.6,247 128.2,255.7 121.3,260.9 114.4,271.3 110.9,280 102.2,293.8 97.6,297.6 93.4,304.9 88.2,314.3 82,322.6 78.9,327.8 77,331 -4,331" fill="#3182bd" stroke="#707377" stroke-width="1.15" stroke-linejoin="round"/>
<polygon points="-4,181 9.5,181 7.8,193.3 2,200 -4,202" fill="#3182bd" stroke="#707377" stroke-width="1.15" stroke-linejoin="round"/>
<polygon points="169.3,128.7 171.6,120.8 178,113.7 192.2,109.8 211.1,105.8 220.6,120 212.7,122.4 217.5,134.2 228.5,130.3 220.6,135 230.1,143.7 236.4,149.3 245.9,150.8 249.9,157.2 247.5,164.3 239.6,172.2 233.3,173.8 228.5,183.2 220.6,186.4 211.1,199 208,208.5 198.5,214.8 185.9,221.2 176.4,229.1 168.5,236.2 165.3,229.1 154.2,218 159,206.9 155,205.4 160.6,199 159.8,189.6 162.1,172.2 147.9,165.9 133.7,172.2 125,159.5 132.1,157.2 133.7,143.7 129,142.1 128.2,131.1 135.3,130.3 137.7,135.8 135.3,143.7 141.6,150.1 154.2,137.4 160.6,131.1" fill="#08519c" stroke="#707377" stroke-width="1.15" stroke-linejoin="round"/>
<polygon points="211.1,105.8 236.4,94.7 239.6,90 244.3,91.6 247.5,97.9 253.8,101.9 258.5,107.4 252.2,112.1 261.7,116.9 268,115.3 266.4,121.6 268,129.5 261.7,134.2 252.2,142.1 249.1,146.9 245.9,150.8 236.4,149.3 230.1,143.7 220.6,135 228.5,130.3 217.5,134.2 212.7,122.4 220.6,120" fill="#3182bd" stroke="#707377" stroke-width="1.15" stroke-linejoin="round"/>
<polygon points="220.6,135 228.5,130.3 236.4,128.7 247.5,124 252.2,129.5 261.7,134.2 252.2,142.1 249.1,146.9 245.9,144.5 234.8,145.3 230.1,143.7" fill="#6baed6" stroke="#707377" stroke-width="1.15" stroke-linejoin="round"/>
<polygon points="247.5,124 252.2,123.2 253.8,129.5 252.2,133.5 248.3,131.1" fill="#08519c" stroke="#707377" stroke-width="1.15" stroke-linejoin="round"/>
<polygon points="261.7,116.9 268,115.3 266.4,121.6 268,129.5 264.1,126.3 262.5,120.8" fill="#6baed6" stroke="#707377" stroke-width="1.15" stroke-linejoin="round"/>
<polygon points="-4,321 4.3,319 26,312 30,313.2 34.7,311.1 36.2,307.5 43.5,301.8 41.4,298.7 49.2,288.2 51.3,291.4 58.1,287.2 59.6,290.3 71.6,284.1 85.1,279.9 92.4,275.8 96.6,275.8 97.6,278.9 95.5,286.2 91.9,290.3 93.4,293.5 96.6,296.1 97.6,297.6 93.4,304.9 88.2,314.3 82,322.6 78.9,327.8 77,331 -4,331" fill="#08519c" stroke="#707377" stroke-width="1.15" stroke-linejoin="round"/>
<polygon points="107,271.6 109,265.4 112.2,260.2 116.3,250.8 119.5,245.6 118.4,238.3 123.6,236.2 127.8,231 131.4,230.5 133,234.2 129.9,241.4 125.7,245.6 121.5,248.7 119.5,253.9 121.6,257.2 125.7,258.1 119.5,264.3 113.2,274.7 111.1,272.6" fill="#08519c" stroke="#707377" stroke-width="1.15" stroke-linejoin="round"/>
<polygon points="470,116 467.5,115 452,105 421,90 383.5,80.5 356,82 346,85 335,87.5 320,94 305,102.5 287.5,117.5 272.5,127.5 262.5,135 250,147.5 249.9,157.2 247.5,164.3 239.6,172.2 233.3,173.8 228.5,183.2 220.6,186.4 211.1,199 208,208.5 198.5,214.8 185.9,221.2 176.4,229.1 168.5,236.2 156,230.6 154.8,231 144.4,238.3 134,249.8 125.7,258.1 119.5,264.3 113.2,274.7 109,285.1 102.8,292.4 97.6,297.6 93.4,304.9 88.2,314.3 82,322.6 78.9,327.8 77,331 470,331" fill="#d0d4d5" stroke="#707377" stroke-width="1.15" stroke-linejoin="round"/>
<polyline points="2,81 4,81 17.5,74 22.5,80 45,83 72.5,80 95,79 101,77.5" fill="none" stroke="#707377" stroke-width="1.15" stroke-linejoin="round" stroke-linecap="round"/>
<polyline points="304.5,84.9 313.2,78.8 323.6,76.2 334.8,71.9 338.3,65 349.6,64.5 362.6,66.7 363.4,72.8 368.6,71.9 373.8,72.8 379,76.2 380.8,80.6" fill="none" stroke="#707377" stroke-width="1.15" stroke-linejoin="round" stroke-linecap="round"/>
<polyline points="304.5,84.9 316.6,83.2 327,82.3 332.2,85.8 334,86.6" fill="none" stroke="#707377" stroke-width="1.15" stroke-linejoin="round" stroke-linecap="round"/>
<polyline points="334.8,71.9 340.9,75.4 351.3,72.8 356.5,76.2 354.8,84" fill="none" stroke="#707377" stroke-width="1.15" stroke-linejoin="round" stroke-linecap="round"/>
<polyline points="254.3,99.7 265.5,97.2" fill="none" stroke="#707377" stroke-width="1.15" stroke-linejoin="round" stroke-linecap="round"/>
<polyline points="2,152.5 10,152.5 8.8,170 2,172.5" fill="none" stroke="#707377" stroke-width="1.15" stroke-linejoin="round" stroke-linecap="round"/>
<polyline points="125,159.5 131.3,172.5" fill="none" stroke="#707377" stroke-width="1.15" stroke-linejoin="round" stroke-linecap="round"/>
<polyline points="145.6,112.1 146.3,126.3 149.5,135.8 152.7,139.8" fill="none" stroke="#707377" stroke-width="1.15" stroke-linejoin="round" stroke-linecap="round"/>
<polyline points="144,112.1 142.4,118.4 141.6,126.3" fill="none" stroke="#707377" stroke-width="1.15" stroke-linejoin="round" stroke-linecap="round"/>
<polyline points="236.4,173.8 230.1,180.1 226.9,188 226.6,192.7" fill="none" stroke="#707377" stroke-width="1.15" stroke-linejoin="round" stroke-linecap="round"/>
<polyline points="222.2,186.4 227.7,184.8" fill="none" stroke="#707377" stroke-width="1.15" stroke-linejoin="round" stroke-linecap="round"/>
<polyline points="169.3,128.7 189,127.1 192.2,131.1 198.5,131.9 201.7,135.8 198.5,140.6 189,140.6 192.2,146.9 195.3,154.8 195.3,161.1 185.9,164.3 181.1,170.6 184.3,178.5 189,186.4" fill="none" stroke="#707377" stroke-width="1.15" stroke-linejoin="round" stroke-linecap="round"/>
<polyline points="141.6,150.1 147.9,158 160.6,154 162.1,148.5 165.3,146.1 170.8,149.3 174,142.9 181.1,146.1 184.3,142.9 189,140.6" fill="none" stroke="#707377" stroke-width="1.15" stroke-linejoin="round" stroke-linecap="round"/>
<polyline points="147.9,158 146.3,164.3 147.9,165.9" fill="none" stroke="#707377" stroke-width="1.15" stroke-linejoin="round" stroke-linecap="round"/>
<polyline points="160.6,154 162.9,159.5 171.6,161.1 174.8,153.2 170.8,149.3" fill="none" stroke="#707377" stroke-width="1.15" stroke-linejoin="round" stroke-linecap="round"/>
<polyline points="171.6,161.1 174.8,167.4 181.1,170.6" fill="none" stroke="#707377" stroke-width="1.15" stroke-linejoin="round" stroke-linecap="round"/>
<polyline points="174.8,153.2 182.7,152.4 193.8,151.6" fill="none" stroke="#707377" stroke-width="1.15" stroke-linejoin="round" stroke-linecap="round"/>
<polyline points="182.7,152.4 185.9,164.3" fill="none" stroke="#707377" stroke-width="1.15" stroke-linejoin="round" stroke-linecap="round"/>
<polyline points="198.5,140.6 211.1,135.8 220.6,135" fill="none" stroke="#707377" stroke-width="1.15" stroke-linejoin="round" stroke-linecap="round"/>
<polyline points="195.3,161.1 204.8,158.7 212.7,153.2 220.6,150.8 230.1,147.7 236.4,149.3" fill="none" stroke="#707377" stroke-width="1.15" stroke-linejoin="round" stroke-linecap="round"/>
<polyline points="214.3,146.1 215.9,142.1 222.2,139.8 230.1,143.7" fill="none" stroke="#707377" stroke-width="1.15" stroke-linejoin="round" stroke-linecap="round"/>
<polyline points="204.8,158.7 203.2,167.4 198.5,173.8 189,186.4 184.3,188" fill="none" stroke="#707377" stroke-width="1.15" stroke-linejoin="round" stroke-linecap="round"/>
<polyline points="203.2,167.4 211.1,173.8 220.6,164.3 226.9,167.4 220.6,175.3 228.5,183.2" fill="none" stroke="#707377" stroke-width="1.15" stroke-linejoin="round" stroke-linecap="round"/>
<polyline points="198.5,173.8 201.7,181.7 204.8,184.8 200.1,188.8 211.1,197.5" fill="none" stroke="#707377" stroke-width="1.15" stroke-linejoin="round" stroke-linecap="round"/>
<polyline points="233.3,148.5 230.1,159.5 225.4,165.9 220.6,175.3 217.5,181.7" fill="none" stroke="#707377" stroke-width="1.15" stroke-linejoin="round" stroke-linecap="round"/>
<polyline points="184.3,188 189,194.3 196.9,194.3 200.1,188.8" fill="none" stroke="#707377" stroke-width="1.15" stroke-linejoin="round" stroke-linecap="round"/>
<polyline points="162.1,172.2 169.3,173 170.8,169 174.8,167.4" fill="none" stroke="#707377" stroke-width="1.15" stroke-linejoin="round" stroke-linecap="round"/>
<polyline points="170.8,193.5 170.1,200.6 168.5,206.9 171.6,211.7 182.7,209.3 179.5,199 180.3,193.5" fill="none" stroke="#707377" stroke-width="1.15" stroke-linejoin="round" stroke-linecap="round"/>
<polyline points="182.7,209.3 187.4,210.1 185.9,221.2" fill="none" stroke="#707377" stroke-width="1.15" stroke-linejoin="round" stroke-linecap="round"/>
<polyline points="171.6,211.7 170.1,216.4 162.1,222.7" fill="none" stroke="#707377" stroke-width="1.15" stroke-linejoin="round" stroke-linecap="round"/>
<polyline points="170.1,216.4 173.2,221.2 170.1,224.3 176.4,222.7 176.4,229.1" fill="none" stroke="#707377" stroke-width="1.15" stroke-linejoin="round" stroke-linecap="round"/>
<polyline points="160.6,199 165.3,200.6 166.9,206.9 168.5,206.9" fill="none" stroke="#707377" stroke-width="1.15" stroke-linejoin="round" stroke-linecap="round"/>
<polyline points="220.6,120 236.4,116.1 241.2,110.5 247.5,113.7 252.2,112.1" fill="none" stroke="#707377" stroke-width="1.15" stroke-linejoin="round" stroke-linecap="round"/>
<polyline points="236.4,116.1 234.8,109 236.4,104.2 238,94.7" fill="none" stroke="#707377" stroke-width="1.15" stroke-linejoin="round" stroke-linecap="round"/>
<polyline points="212.7,105.8 223.8,103.4 236.4,104.2" fill="none" stroke="#707377" stroke-width="1.15" stroke-linejoin="round" stroke-linecap="round"/>
<polyline points="241.2,110.5 244.3,118.4 245.9,126.3 247.5,124" fill="none" stroke="#707377" stroke-width="1.15" stroke-linejoin="round" stroke-linecap="round"/>
<polyline points="233.3,116.9 236.4,128.7" fill="none" stroke="#707377" stroke-width="1.15" stroke-linejoin="round" stroke-linecap="round"/>
<polyline points="247.5,113.7 250.6,120 261.7,116.9" fill="none" stroke="#707377" stroke-width="1.15" stroke-linejoin="round" stroke-linecap="round"/>
<polyline points="212.7,159.5 219,161.1 223.8,164.3" fill="none" stroke="#707377" stroke-width="1.15" stroke-linejoin="round" stroke-linecap="round"/>
<polyline points="211.1,165.9 217.5,159.5" fill="none" stroke="#707377" stroke-width="1.15" stroke-linejoin="round" stroke-linecap="round"/>
<polyline points="145,59 147,68 150,75" fill="none" stroke="#707377" stroke-width="1.15" stroke-linejoin="round" stroke-linecap="round"/>
<polyline points="150,87.5 153,97 157.5,105" fill="none" stroke="#707377" stroke-width="1.15" stroke-linejoin="round" stroke-linecap="round"/>
<polyline points="136,67.5 147,68 160,72.5" fill="none" stroke="#707377" stroke-width="1.15" stroke-linejoin="round" stroke-linecap="round"/>
<polyline points="139,110 141,125" fill="none" stroke="#707377" stroke-width="1.15" stroke-linejoin="round" stroke-linecap="round"/>
<circle cx="176.2" cy="183.8" r="7.8" fill="#e60000" stroke="#000" stroke-width="1.1"/>
<text x="118" y="85" font-size="12.5" fill="#5a5a5a" font-family="'Liberation Sans', sans-serif" textLength="64.5" lengthAdjust="spacingAndGlyphs" stroke="#ffffff" stroke-width="1.8" paint-order="stroke" stroke-linejoin="round">Kennoway</text>
<text x="232.5" y="143.8" font-size="13" fill="#f4f4f4" font-family="'Liberation Sans', sans-serif" textLength="43.5" lengthAdjust="spacingAndGlyphs" stroke="#7d7d7d" stroke-width="1.8" paint-order="stroke" stroke-linejoin="round">Leven</text>
<text x="65" y="258.3" font-size="13" fill="#f4f4f4" font-family="'Liberation Sans', sans-serif" textLength="49.5" lengthAdjust="spacingAndGlyphs" stroke="#7d7d7d" stroke-width="1.8" paint-order="stroke" stroke-linejoin="round">Newton</text>
<text x="451.3" y="278.3" font-size="12" fill="#4a4a4a" font-family="'Liberation Sans', sans-serif" textLength="217" lengthAdjust="spacingAndGlyphs" text-anchor="end" stroke="#e9ebeb" stroke-width="1.2" paint-order="stroke" stroke-linejoin="round">Esri, Intermap, NASA, NGA, USGS, Esri</text>
<text x="451.3" y="295.5" font-size="12" fill="#4a4a4a" font-family="'Liberation Sans', sans-serif" textLength="150" lengthAdjust="spacingAndGlyphs" text-anchor="end" stroke="#e9ebeb" stroke-width="1.2" paint-order="stroke" stroke-linejoin="round">UK, Esri, TomTom, Garmin,</text>
<text x="451.3" y="312.3" font-size="12" fill="#4a4a4a" font-family="'Liberation Sans', sans-serif" textLength="177" lengthAdjust="spacingAndGlyphs" text-anchor="end" stroke="#e9ebeb" stroke-width="1.2" paint-order="stroke" stroke-linejoin="round">Foursquare, METI/NASA, USGS</text>
<path d="M30.3 295.2V306.8H247.4V295.2" fill="none" stroke="#000" stroke-width="1.5"/>
<path d="M57.3 298.2V306.8" stroke="#000" stroke-width="1.5"/>
<path d="M84.4 298.2V306.8" stroke="#000" stroke-width="1.5"/>
<path d="M111.5 298.2V306.8" stroke="#000" stroke-width="1.5"/>
<path d="M138.7 295.2V306.8" stroke="#000" stroke-width="1.5"/>
<path d="M165.8 298.2V306.8" stroke="#000" stroke-width="1.5"/>
<path d="M193 298.2V306.8" stroke="#000" stroke-width="1.5"/>
<path d="M220.2 298.2V306.8" stroke="#000" stroke-width="1.5"/>
<text x="30.3" y="286.8" font-size="16" fill="#000" font-family="'Liberation Sans', sans-serif" text-anchor="middle">0</text>
<text x="85.3" y="286.8" font-size="16" fill="#000" font-family="'Liberation Sans', sans-serif" text-anchor="middle">1.75</text>
<text x="138.7" y="286.8" font-size="16" fill="#000" font-family="'Liberation Sans', sans-serif" text-anchor="middle">3.5</text>
<text x="243.8" y="286.8" font-size="16" fill="#000" font-family="'Liberation Sans', sans-serif" textLength="90" lengthAdjust="spacingAndGlyphs">7 Kilometers</text>
<polygon points="428.5,38 441.5,74.5 428.5,66 415.5,74.5" fill="#000"/>
<text x="429" y="30" font-size="12" fill="#000" font-family="'Liberation Serif', sans-serif" text-anchor="middle">N</text>
</g>
<rect x="3.25" y="3.25" width="464.5" height="326.5" fill="none" stroke="#262626" stroke-width="1.5"/>
<rect x="1162" y="0" width="2.2" height="981" fill="#111"/>
<rect x="1164.2" y="3" width="218" height="975" fill="#fff"/>
<rect x="3" y="3" width="1159" height="1" fill="#1a1a1a"/>
<rect x="3" y="3" width="1" height="975" fill="#1a1a1a"/>
<rect x="3" y="977" width="1160" height="1" fill="#1a1a1a"/>
<text x="1172" y="22" font-size="18" fill="#000" font-family="'Liberation Sans', sans-serif" textLength="187" lengthAdjust="spacingAndGlyphs">Access to Fife College</text>
<text x="1172" y="45.75" font-size="18" fill="#000" font-family="'Liberation Sans', sans-serif" textLength="126" lengthAdjust="spacingAndGlyphs">Leven Campus</text>
<text x="1172" y="69.5" font-size="18" fill="#000" font-family="'Liberation Sans', sans-serif" textLength="187" lengthAdjust="spacingAndGlyphs">from Fife Data Zones:</text>
<text x="1172" y="93.25" font-size="18" fill="#000" font-family="'Liberation Sans', sans-serif" textLength="153.5" lengthAdjust="spacingAndGlyphs">PT Journey Times</text>
<text x="1172" y="117" font-size="18" fill="#000" font-family="'Liberation Sans', sans-serif" textLength="83" lengthAdjust="spacingAndGlyphs">(minutes)</text>
<rect x="1172.5" y="126.65" width="38" height="18" fill="#08519c" stroke="#6e6e6e" stroke-width="1"/>
<text x="1219.75" y="142.6" font-size="18" fill="#000" font-family="'Liberation Sans', sans-serif" textLength="38" lengthAdjust="spacingAndGlyphs">0-15</text>
<rect x="1172.5" y="158.4" width="38" height="18" fill="#3182bd" stroke="#6e6e6e" stroke-width="1"/>
<text x="1219.75" y="174.35" font-size="18" fill="#000" font-family="'Liberation Sans', sans-serif" textLength="48.75" lengthAdjust="spacingAndGlyphs">15-30</text>
<rect x="1172.5" y="190.15" width="38" height="18" fill="#6baed6" stroke="#6e6e6e" stroke-width="1"/>
<text x="1219.75" y="206.1" font-size="18" fill="#000" font-family="'Liberation Sans', sans-serif" textLength="48.75" lengthAdjust="spacingAndGlyphs">30-60</text>
<rect x="1172.5" y="221.9" width="38" height="18" fill="#9ecae1" stroke="#6e6e6e" stroke-width="1"/>
<text x="1219.75" y="237.85" font-size="18" fill="#000" font-family="'Liberation Sans', sans-serif" textLength="48.75" lengthAdjust="spacingAndGlyphs">60-90</text>
<rect x="1172.5" y="253.65" width="38" height="18" fill="#c6dbef" stroke="#6e6e6e" stroke-width="1"/>
<text x="1219.75" y="269.6" font-size="18" fill="#000" font-family="'Liberation Sans', sans-serif" textLength="59.5" lengthAdjust="spacingAndGlyphs">90-120</text>
<rect x="1172.5" y="285.4" width="38" height="18" fill="#eff3ff" stroke="#6e6e6e" stroke-width="1"/>
<text x="1219.75" y="301.35" font-size="18" fill="#000" font-family="'Liberation Sans', sans-serif" textLength="44.5" lengthAdjust="spacingAndGlyphs">120+</text>
<circle cx="1191.25" cy="338.75" r="8.1" fill="#e60000" stroke="#000" stroke-width="1.2"/>
<text x="1219.75" y="334.25" font-size="18" fill="#000" font-family="'Liberation Sans', sans-serif" textLength="155.75" lengthAdjust="spacingAndGlyphs">Fife College Leven</text>
<text x="1219.75" y="358" font-size="18" fill="#000" font-family="'Liberation Sans', sans-serif" textLength="68" lengthAdjust="spacingAndGlyphs">Campus</text>
</svg></body></html>
